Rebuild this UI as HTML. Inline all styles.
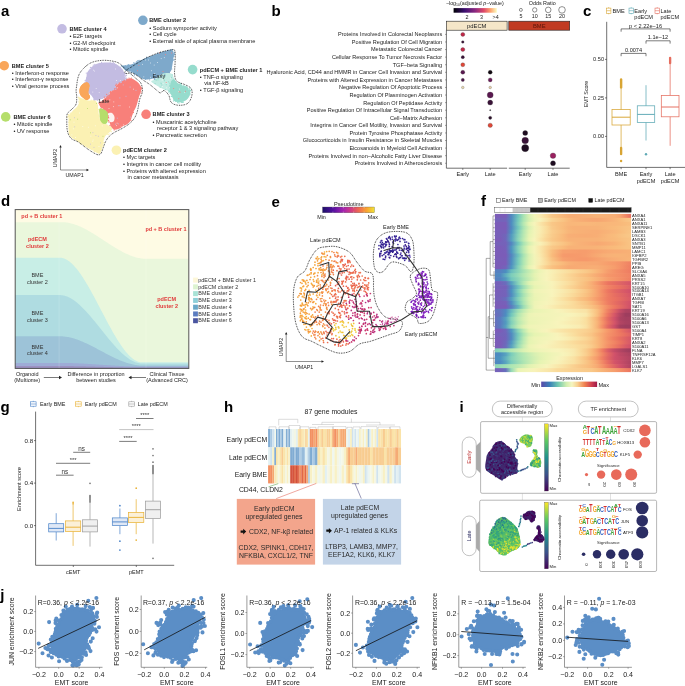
<!DOCTYPE html>
<html><head><meta charset="utf-8"><style>
html,body{margin:0;padding:0;background:#fff;}
svg{display:block;font-family:"Liberation Sans",sans-serif;will-change:transform;}
</style></head><body>
<svg width="685" height="686" viewBox="0 0 685 686">
<rect x="0" y="0" width="685" height="686" fill="#fff"/>
<text x="1" y="16" font-size="15" text-anchor="start" fill="#000" font-weight="bold">a</text>
<path d="M78.6,97.5 C80.08,97.42 85.8,100 88.4,100.5 C91,101 92.68,99.92 94.2,100.5 C95.72,101.08 96.78,102.02 97.5,104 C98.22,105.98 97.92,109.55 98.5,112.4 C99.08,115.25 99.55,119.03 101,121.1 C102.45,123.17 105.35,123.57 107.2,124.8 C109.05,126.03 111.7,127.25 112.1,128.5 C112.5,129.75 110.83,130.85 109.6,132.3 C108.37,133.75 105.93,134.72 104.7,137.2 C103.47,139.68 103.03,144.5 102.2,147.2 C101.37,149.9 101.15,152.78 99.7,153.4 C98.25,154.02 95.98,152.15 93.5,150.9 C91.02,149.65 87.9,147.77 84.8,145.9 C81.7,144.03 77.48,141.57 74.9,139.7 C72.32,137.83 70.33,137.18 69.3,134.7 C68.27,132.22 68.8,127.9 68.7,124.8 C68.6,121.7 68.08,118.37 68.7,116.1 C69.32,113.83 70.95,112.85 72.4,111.2 C73.85,109.55 76.22,107.9 77.4,106.2 C78.58,104.5 79.3,102.45 79.5,101 C79.7,99.55 77.12,97.58 78.6,97.5Z" fill="#fbf1b3" stroke="none" stroke-width="0.6"/>
<path d="M87.2,72.5 C88.08,70.95 89.95,68.25 91.9,66.7 C93.85,65.15 95.98,63.88 98.9,63.2 C101.82,62.52 106.28,62.32 109.4,62.6 C112.52,62.88 115.47,63.83 117.6,64.9 C119.73,65.97 121.03,67.53 122.2,69 C123.37,70.47 123.82,71.95 124.6,73.7 C125.38,75.45 127.1,78.13 126.9,79.5 C126.7,80.87 124.57,81.42 123.4,81.9 C122.23,82.38 121.07,81.82 119.9,82.4 C118.73,82.98 117.37,84.13 116.4,85.4 C115.43,86.67 115.27,88.83 114.1,90 C112.93,91.17 110.58,91.42 109.4,92.4 C108.22,93.38 107.98,94.93 107,95.9 C106.02,96.87 105.05,97.52 103.5,98.2 C101.95,98.88 99.25,99.8 97.7,100 C96.15,100.2 95.17,100.08 94.2,99.4 C93.23,98.72 92.87,97.07 91.9,95.9 C90.93,94.73 89.38,93.77 88.4,92.4 C87.42,91.03 86.5,89.45 86,87.7 C85.5,85.95 85.3,83.85 85.4,81.9 C85.5,79.95 86.3,77.57 86.6,76 C86.9,74.43 86.32,74.05 87.2,72.5Z" fill="#c3bce2" stroke="none" stroke-width="0.6"/>
<path d="M116.4,85.4 C117.37,84.13 118.15,83.38 119.9,82.4 C121.65,81.42 124.95,80.17 126.9,79.5 C128.85,78.83 129.85,78 131.6,78.4 C133.35,78.8 135.85,80.55 137.4,81.9 C138.95,83.25 140.32,84.95 140.9,86.5 C141.48,88.05 141.28,89.25 140.9,91.2 C140.52,93.15 139.38,95.67 138.6,98.2 C137.82,100.73 137.1,104.03 136.2,106.4 C135.3,108.77 134.32,109.75 133.2,112.4 C132.08,115.05 131.37,119.92 129.5,122.3 C127.63,124.68 124.48,125.45 122,126.7 C119.52,127.95 116.45,129.9 114.6,129.8 C112.75,129.7 111.73,127.35 110.9,126.1 C110.07,124.85 110.05,123.63 109.6,122.3 C109.15,120.97 108.63,119.58 108.2,118.1 C107.77,116.62 107.58,114.77 107,113.4 C106.42,112.03 105.67,110.87 104.7,109.9 C103.73,108.93 102.17,108.57 101.2,107.6 C100.23,106.63 98.9,105.08 98.9,104.1 C98.9,103.12 100.23,102.68 101.2,101.7 C102.17,100.72 103.73,99.17 104.7,98.2 C105.67,97.23 106.22,96.87 107,95.9 C107.78,94.93 108.22,93.38 109.4,92.4 C110.58,91.42 112.93,91.17 114.1,90 C115.27,88.83 115.43,86.67 116.4,85.4Z" fill="#f8807a" stroke="none" stroke-width="0.6"/>
<path d="M108,113.5 C108.67,112.67 110.92,112.42 112,113 C113.08,113.58 114.25,115.58 114.5,117 C114.75,118.42 114.33,120.7 113.5,121.5 C112.67,122.3 110.42,122.38 109.5,121.8 C108.58,121.22 108.25,119.38 108,118 C107.75,116.62 107.33,114.33 108,113.5Z" fill="#fdf3f1" stroke="none" stroke-width="0.6"/>
<path d="M79.6,88.9 C79.98,87.15 81.23,85.28 82.5,84.2 C83.77,83.12 86.03,82.2 87.2,82.4 C88.37,82.6 89.3,83.73 89.5,85.4 C89.7,87.07 88.3,90.47 88.4,92.4 C88.5,94.33 90.3,95.73 90.1,97 C89.9,98.27 88.27,99.8 87.2,100 C86.13,100.2 84.87,99.08 83.7,98.2 C82.53,97.32 80.88,96.25 80.2,94.7 C79.52,93.15 79.22,90.65 79.6,88.9Z" fill="#f9a65a" stroke="none" stroke-width="0.6"/>
<path d="M99.7,108.7 C100.53,108.08 103.35,109.08 104.7,109.9 C106.05,110.72 107.38,111.53 107.8,113.6 C108.22,115.67 107.93,120.63 107.2,122.3 C106.47,123.97 104.55,124 103.4,123.6 C102.25,123.2 100.92,121.57 100.3,119.9 C99.68,118.23 99.8,115.47 99.7,113.6 C99.6,111.73 98.87,109.32 99.7,108.7Z" fill="#b5de6b" stroke="none" stroke-width="0.6"/>
<path d="M122,66 C122.17,65.25 124.5,65.75 126,65.5 C127.5,65.25 129.17,65.08 131,64.5 C132.83,63.92 134.67,63.03 137,62 C139.33,60.97 142.17,59.5 145,58.3 C147.83,57.1 151,55.88 154,54.8 C157,53.72 160.17,52.6 163,51.8 C165.83,51 169.27,49.88 171,50 C172.73,50.12 172.97,51.5 173.4,52.5 C173.83,53.5 173.7,54.33 173.6,56 C173.5,57.67 173.22,60.05 172.8,62.5 C172.38,64.95 171.97,68.85 171.1,70.7 C170.23,72.55 168.78,72.82 167.6,73.6 C166.42,74.38 165.18,74.82 164,75.4 C162.82,75.98 161.85,76.62 160.5,77.1 C159.15,77.58 157.65,78 155.9,78.3 C154.15,78.6 151.75,78.7 150,78.9 C148.25,79.1 146.95,79.7 145.4,79.5 C143.85,79.3 142.45,78.58 140.7,77.7 C138.95,76.82 136.65,75.27 134.9,74.2 C133.15,73.13 131.85,72 130.2,71.3 C128.55,70.6 126.37,70.88 125,70 C123.63,69.12 121.83,66.75 122,66Z" fill="#7ea9cb" stroke="none" stroke-width="0.6"/>
<path d="M161.7,74.2 C163.85,73.12 165.85,73 167.6,73 C169.35,73 171.03,73.03 172.2,74.2 C173.37,75.37 173.62,78.45 174.6,80 C175.58,81.55 176.35,82.52 178.1,83.5 C179.85,84.48 183.17,84.92 185.1,85.9 C187.03,86.88 188.93,87.85 189.7,89.4 C190.47,90.95 190.28,93.45 189.7,95.2 C189.12,96.95 187.75,98.73 186.2,99.9 C184.65,101.07 182.33,102 180.4,102.2 C178.47,102.4 175.97,102.07 174.6,101.1 C173.23,100.13 172.98,97.97 172.2,96.4 C171.42,94.83 171.27,92.87 169.9,91.7 C168.53,90.53 165.75,90.18 164,89.4 C162.25,88.62 161.15,87.98 159.4,87 C157.65,86.02 154.87,84.47 153.5,83.5 C152.13,82.53 151,81.87 151.2,81.2 C151.4,80.53 152.95,80.67 154.7,79.5 C156.45,78.33 159.55,75.28 161.7,74.2Z" fill="#c2ece3" stroke="none" stroke-width="0.6"/>
<path d="M169.9,86 C170.25,84.05 171.22,81 172,80 C172.78,79 173.58,79.42 174.6,80 C175.62,80.58 176.35,82.52 178.1,83.5 C179.85,84.48 183.17,84.92 185.1,85.9 C187.03,86.88 188.93,87.85 189.7,89.4 C190.47,90.95 190.28,93.45 189.7,95.2 C189.12,96.95 187.75,98.73 186.2,99.9 C184.65,101.07 182.33,102 180.4,102.2 C178.47,102.4 175.97,102.07 174.6,101.1 C173.23,100.13 172.98,97.97 172.2,96.4 C171.42,94.83 170.28,93.43 169.9,91.7 C169.52,89.97 169.55,87.95 169.9,86Z" fill="#96dccd" stroke="none" stroke-width="0.6"/>
<path d="M163.7 77.4h0M171.8 83.7h0M156 79.5h0M175.4 100.7h0M173.4 84.6h0M175.8 83.9h0M172.3 74.8h0M177.4 85.5h0M168.6 81.8h0M181.8 93.4h0M180.6 89.7h0M178 90.4h0M173.5 86.3h0M183.5 100.6h0M156.2 80.2h0M182.7 98.2h0M161.9 85.1h0M158 79.8h0M160.2 87.2h0M173.9 80.7h0M165.4 89.5h0M187.9 93.2h0M171 91h0M185.8 95.8h0M184.9 96.3h0M166.3 84.7h0M159.2 77.7h0M164.3 74.5h0M155.1 83.6h0M160.9 83.1h0M165.2 76.6h0M169.1 87.1h0M164.4 80.7h0M171.5 77.3h0M184.4 93.3h0M161.3 83.7h0M163.9 79.5h0M184 96.5h0M182.7 94.6h0M164.9 73.8h0" stroke="#96dccd" stroke-width="1.2" stroke-linecap="round" fill="none"/>
<path d="M96.2 88.5h0M125.1 79.3h0M125 76.2h0M94.5 71.1h0M93.6 70.2h0M120.3 80.5h0M88.9 87.3h0M116.5 80.5h0M92.8 92.1h0M99.2 92.6h0M125.7 77.4h0M102.1 98h0M115.5 69h0M90.7 68.3h0" stroke="#ffffff" stroke-width="0.7" stroke-linecap="round" fill="none"/>
<path d="M113.6 106.6h0M121 126.4h0M117.1 123.2h0M133.6 89.2h0M109.5 93.5h0M109 108.5h0M109.8 99.9h0M113.8 101.9h0M123.4 124.9h0M116.6 125.6h0M120 105.7h0M117.4 87.8h0M106.1 102.7h0M129.4 107h0" stroke="#ffffff" stroke-width="0.7" stroke-linecap="round" fill="none"/>
<path d="M82.8 126.5h0M92.8 141.3h0M73.3 128.8h0M79.5 113h0M102.2 125.9h0M93.1 140h0M95.3 125.8h0M90.9 136.2h0M88.3 127.3h0M99 146.5h0M93 150.2h0M74 122.2h0M71.9 134.9h0M75.4 137.5h0" stroke="#ffffff" stroke-width="0.7" stroke-linecap="round" fill="none"/>
<path d="M156.1 54.2h0M142.6 64.4h0M148.6 60h0M150.6 63h0M154.2 65.1h0M143.8 76.9h0M164.3 57.6h0M151.4 70.7h0M157.5 62.5h0M154.7 73.6h0M145.4 60h0M150.5 77.3h0M149.2 57h0M161.2 58.6h0" stroke="#ffffff" stroke-width="0.7" stroke-linecap="round" fill="none"/>
<path d="M170.5 78.2h0M179.4 89.1h0M182.7 85.6h0M166.3 87.8h0M178.4 91.6h0M166.8 83.1h0M161 77.8h0M184.7 92.6h0M162.1 80.1h0M162.5 86.4h0M188.6 89h0M163.1 83.4h0M169.5 87.7h0M162.9 79.8h0" stroke="#ffffff" stroke-width="0.7" stroke-linecap="round" fill="none"/>
<path d="M173.7 88.5h0M180.1 92.2h0M178.8 98.7h0M166.2 82.5h0M179.1 91.8h0M185.5 91.3h0" stroke="#f8807a" stroke-width="1" stroke-linecap="round" fill="none"/>
<path d="M100.5 142.9h0M74.7 126.8h0M90.6 144.2h0M94 147.4h0M98.3 136.3h0M74.5 117.7h0M92.9 132.6h0M95.9 135.5h0" stroke="#c3bce2" stroke-width="0.9" stroke-linecap="round" fill="none"/>
<path d="M69 132.1h0M96.7 102.9h0M68.8 115.6h0M69.7 131.9h0M109.1 133.8h0M111.3 131.7h0M69.4 126.2h0M103 145.2h0M79.2 99.9h0M101.9 149.4h0M102.8 143h0M69.5 134h0M98.5 109.3h0M102.8 144.1h0M72.7 137h0M68.4 114.7h0M69.2 134.6h0M68.6 116.3h0M108.6 134.7h0M106.9 125h0M68.8 122.5h0M79 101.7h0M98 110.2h0M69.5 130.6h0M68.9 128h0M99.5 116h0M97.9 111.7h0M99.9 151.9h0M111.7 127.6h0M103.6 139.2h0M84.7 146.3h0M94.1 151.8h0M90 101.2h0M102.8 143.1h0M107.3 134.3h0M94.8 151.5h0M86.5 99.5h0M70.2 113.1h0M93.8 100.5h0M78.8 101.9h0M104.1 142.9h0M69 115.4h0M101.4 148.7h0M79.1 99.6h0M103.8 142.5h0M97.5 105.8h0M110.5 126.8h0M68.6 114.6h0M72.3 137.8h0M111.8 128.8h0M95.2 101.7h0M74 110.7h0M80.7 144.2h0M108.9 126.2h0M91.3 100.2h0M99 153.3h0M78.4 97.4h0M95 101.7h0M87.9 147.7h0M103.1 146.5h0M79.8 97.8h0M68.5 125.1h0M95.8 100.9h0M67.6 117h0M109.8 131.3h0M100.3 116.6h0M78.3 97.1h0M95.8 103.1h0M99.8 113.7h0M78.4 97.5h0" stroke="#fbf1b3" stroke-width="1.3" stroke-linecap="round" fill="none"/>
<path d="M85.2 80.4h0M110.2 63h0M88.2 91.4h0M85.7 87.8h0M101.9 98.5h0M124.9 80.7h0M126.8 79.6h0M86.5 80.2h0M94.4 99.9h0M101.5 62.5h0M112.5 90h0M114.7 88.7h0M109.2 93.8h0M93.9 99.3h0M126.1 75.2h0M125 80.6h0M120 82.7h0M86.2 86.5h0M103.9 97.3h0M85.9 86.8h0M125 73.7h0M106.7 95.3h0M108.5 94.6h0M115.7 89.4h0M122.6 70.8h0M93 96.2h0M86.3 73.1h0M114.9 87.2h0M101.9 63.1h0M114.3 63.3h0M108.8 94.4h0M106.8 96.7h0M126.4 75.6h0M126 75.4h0M97.6 100h0M87 77.6h0M94.8 64.4h0M93.3 65.2h0M86 85.7h0M85.3 87.6h0M114.1 89.5h0M85 82.4h0M99.2 63.5h0M95.1 99.7h0M107.7 96.2h0M97.2 100.1h0M90.5 67.4h0M120.3 67.5h0M116 87.9h0M86.3 87.1h0M122.2 70.5h0M95.1 64.8h0M125.4 73.2h0M101.8 63.7h0M113.3 62.5h0M102.6 98h0M99.8 99.8h0M88.5 93.2h0M115.7 64.6h0M121.4 82.2h0" stroke="#c3bce2" stroke-width="1.3" stroke-linecap="round" fill="none"/>
<path d="M110.6 91.7h0M140.5 87.9h0M101.4 106.8h0M133.4 112.5h0M136.4 103.5h0M108.5 117.6h0M107.4 113.7h0M108.7 117.9h0M131.8 114.2h0M100.8 101.8h0M129 78.2h0M108.4 120.4h0M107.4 96.3h0M100.6 102.4h0M122.4 81.8h0M137.9 98.3h0M112.6 91.2h0M119.3 82.9h0M120.6 127.1h0M141 91.3h0M108.5 117.3h0M112.3 126.9h0M104.8 109.5h0M106.7 94.3h0M104.4 97.1h0M131 120.6h0M110 125.4h0M117.2 128.7h0M114 128.3h0M141.6 88h0M112.5 127.6h0M114.7 90h0M103.5 109.9h0M114.2 129.9h0M116.6 128.5h0M119.9 127.8h0M127.5 79.2h0M141 93h0M126.8 79.4h0M124.3 80.2h0M131.4 78.1h0M141.7 89.1h0M98.9 103.2h0M108.2 116.9h0M111.3 125.9h0M121.1 126.8h0M113.4 90.8h0M101.2 108.1h0M107.1 96.5h0M99.1 103h0M114.8 88.6h0M100.6 106.7h0M118.7 128.2h0M116.3 84.2h0M108.9 122h0M115.8 85.4h0M108.1 115.7h0M118.8 127.4h0M108.6 120.6h0M124.2 81.2h0" stroke="#f8807a" stroke-width="1.3" stroke-linecap="round" fill="none"/>
<path d="M171.7 68.9h0M128.8 64.6h0M125.8 70h0M136.4 61.8h0M137.5 60.8h0M154.4 79.3h0M160.5 52.2h0M171.1 50.2h0M174.3 52.5h0M173.7 55.6h0M174.4 53.8h0M168 50.4h0M171.2 51.2h0M157.9 53.2h0M174.4 54.4h0M161 52.6h0M149.7 79.8h0M158.1 78.1h0M138.8 60.9h0M164.9 74.9h0M164.3 75.6h0M169.3 71.5h0M172 50h0M127.3 65.2h0M174.2 59.8h0M134.4 74.9h0M125.3 65.6h0M173.2 60h0M148.5 78.4h0M154.7 78.9h0M121.9 66h0M173.4 56.7h0M171.8 51.2h0M146.7 57.2h0M154.7 77.7h0M172.8 51.7h0M133.9 62.7h0M173.2 54h0M121.4 65.9h0M169.4 72.5h0M129.8 71.6h0M170.8 50.9h0M128.6 65h0M172.2 49.8h0M136.8 61.9h0M163.9 51.8h0M131.4 72.5h0M160.8 76.5h0M174 56.2h0M151.6 77.9h0M161.5 76.8h0M128.2 70.7h0M138.7 60.8h0M139.1 60.4h0M173.3 55.1h0M141.9 78.7h0M145.6 79.3h0M163.8 51.5h0M156.2 54.3h0M171.1 49.7h0" stroke="#7ea9cb" stroke-width="1.3" stroke-linecap="round" fill="none"/>
<path d="M189.7 90.5h0M173.6 100.9h0M168.9 92.2h0M177.6 102.6h0M170.6 91.6h0M168.9 90.3h0M181 84.1h0M172.8 96.5h0M169.8 85.1h0M175.9 81.7h0M170.4 86.1h0M170.2 93.6h0M169 91.5h0M190.8 90.5h0M175.4 100.6h0M170.4 86.6h0M179.4 84.7h0M171.4 96.4h0M172.1 94.7h0M173.9 79.5h0M186.6 87h0M169.8 83.2h0M171.4 81.8h0M190.1 94h0M181.4 102.3h0M172 81.9h0M175.9 101.2h0M169.6 91.4h0M170.5 87.1h0M185.2 86.9h0M180.3 83.5h0M169.8 85.9h0M182.4 102.3h0M183.2 102.3h0M178.9 103h0M189.9 88.5h0M181.3 85.2h0M170.3 92.8h0M170.5 88.7h0M189.7 91.5h0" stroke="#96dccd" stroke-width="1.3" stroke-linecap="round" fill="none"/>
<path d="M79.6,88.9 C79.98,87.15 81.23,85.28 82.5,84.2 C83.77,83.12 86.03,82.2 87.2,82.4 C88.37,82.6 89.3,83.73 89.5,85.4 C89.7,87.07 88.3,90.47 88.4,92.4 C88.5,94.33 90.3,95.73 90.1,97 C89.9,98.27 88.27,99.8 87.2,100 C86.13,100.2 84.87,99.08 83.7,98.2 C82.53,97.32 80.88,96.25 80.2,94.7 C79.52,93.15 79.22,90.65 79.6,88.9Z" fill="#f9a65a" stroke="none" stroke-width="0.6"/>
<path d="M99.7,108.7 C100.53,108.08 103.35,109.08 104.7,109.9 C106.05,110.72 107.38,111.53 107.8,113.6 C108.22,115.67 107.93,120.63 107.2,122.3 C106.47,123.97 104.55,124 103.4,123.6 C102.25,123.2 100.92,121.57 100.3,119.9 C99.68,118.23 99.8,115.47 99.7,113.6 C99.6,111.73 98.87,109.32 99.7,108.7Z" fill="#b5de6b" stroke="none" stroke-width="0.6"/>
<path d="M115.5 124.2h0M119.9 97.9h0M136 90.4h0M118.3 105.7h0M130.6 117.1h0M126 96.3h0M130.1 87.1h0M117.3 118.2h0M123.2 84.9h0M118.3 123.9h0" stroke="#c3bce2" stroke-width="1" stroke-linecap="round" fill="none"/>
<path d="M137.6 70.7h0M165.5 54.6h0M138.9 65.4h0M159.6 53h0M171.7 53h0M163 71.6h0" stroke="#f8807a" stroke-width="1" stroke-linecap="round" fill="none"/>
<path d="M87.6 108.5h0M96.4 103.5h0M77.7 119.2h0M70.2 119.8h0M103 136.3h0M90.4 132.8h0" stroke="#b5de6b" stroke-width="1" stroke-linecap="round" fill="none"/>
<path d="M86,66.1 C88.13,64.35 90.08,62.97 93,62 C95.92,61.03 100,60.4 103.5,60.3 C107,60.2 111.27,60.82 114,61.4 C116.73,61.98 118.13,62.63 119.9,63.8 C121.67,64.97 122.85,66.75 124.6,68.4 C126.35,70.05 128.5,72.02 130.4,73.7 C132.3,75.38 134.32,77.03 136,78.5 C137.68,79.97 139.45,80.92 140.5,82.5 C141.55,84.08 142.03,86.25 142.3,88 C142.57,89.75 142.53,91.1 142.1,93 C141.67,94.9 140.48,96.38 139.7,99.4 C138.92,102.42 138.27,108 137.4,111.1 C136.53,114.2 135.82,115.92 134.5,118 C133.18,120.08 131.58,121.85 129.5,123.6 C127.42,125.35 124.48,127.05 122,128.5 C119.52,129.95 116.67,131.05 114.6,132.3 C112.53,133.55 111.05,134.55 109.6,136 C108.15,137.45 106.93,139.13 105.9,141 C104.87,142.87 104.22,145.13 103.4,147.2 C102.58,149.27 102.03,152.17 101,153.4 C99.97,154.63 99.28,155.23 97.2,154.6 C95.12,153.97 91.6,151.67 88.5,149.6 C85.4,147.53 81.48,144.05 78.6,142.2 C75.72,140.35 73.07,140.37 71.2,138.5 C69.33,136.63 68.13,134.1 67.4,131 C66.67,127.9 66.8,122.8 66.8,119.9 C66.8,117 66.47,115.47 67.4,113.6 C68.33,111.73 70.95,110.3 72.4,108.7 C73.85,107.1 75.38,105.95 76.1,104 C76.82,102.05 76.7,99.17 76.7,97 C76.7,94.83 76.1,92.93 76.1,91 C76.1,89.07 76.42,87.5 76.7,85.4 C76.98,83.3 77.22,80.55 77.8,78.4 C78.38,76.25 78.83,74.55 80.2,72.5 C81.57,70.45 83.87,67.85 86,66.1Z" fill="none" stroke="#000" stroke-width="0.8" stroke-dasharray="0.8 0.9"/>
<path d="M130.2,67.8 C132.02,66.67 135.48,64.25 138.4,62.5 C141.32,60.75 144.2,58.95 147.7,57.3 C151.2,55.65 155.32,53.87 159.4,52.6 C163.48,51.33 169.58,49.8 172.2,49.7 C174.82,49.6 174.62,49.87 175.1,52 C175.58,54.13 175.18,58.8 175.1,62.5 C175.02,66.2 174.3,71.08 174.6,74.2 C174.9,77.32 175.15,79.45 176.9,81.2 C178.65,82.95 182.77,83.53 185.1,84.7 C187.43,85.87 189.73,86.65 190.9,88.2 C192.07,89.75 192.3,91.85 192.1,94 C191.9,96.15 190.87,99.33 189.7,101.1 C188.53,102.87 187.23,103.93 185.1,104.6 C182.97,105.27 179.23,105.5 176.9,105.1 C174.57,104.7 172.47,103.85 171.1,102.2 C169.73,100.55 169.88,97.15 168.7,95.2 C167.52,93.25 165.37,90.88 164,90.5 C162.63,90.12 161.67,92.9 160.5,92.9 C159.33,92.9 158.75,91.87 157,90.5 C155.25,89.13 152.33,86.45 150,84.7 C147.67,82.95 144.93,81.37 143,80 C141.07,78.63 140.15,77.67 138.4,76.5 C136.65,75.33 134.4,73.5 132.5,73 C130.6,72.5 128.33,73.58 127,73.5 C125.67,73.42 124.42,73.2 124.5,72.5 C124.58,71.8 126.55,70.08 127.5,69.3 C128.45,68.52 128.38,68.93 130.2,67.8Z" fill="none" stroke="#000" stroke-width="0.8" stroke-dasharray="0.8 0.9"/>
<text x="152.6" y="77.5" font-size="5.6" text-anchor="start" fill="#222">Early</text>
<text x="98.5" y="103" font-size="5.6" text-anchor="start" fill="#222">Late</text>
<line x1="60.5" y1="170" x2="60.5" y2="146" stroke="#222" stroke-width="0.5"/>
<line x1="60.5" y1="170" x2="88" y2="170" stroke="#222" stroke-width="0.5"/>
<path d="M59.3,147.5 L60.5,145 L61.7,147.5" fill="#222" stroke="none" stroke-width="0.6"/>
<path d="M86.5,168.8 L89,170 L86.5,171.2" fill="#222" stroke="none" stroke-width="0.6"/>
<text x="65.5" y="177.2" font-size="5.3" text-anchor="start" fill="#222">UMAP1</text>
<text x="57" y="158" font-size="5.3" text-anchor="middle" fill="#222" transform="rotate(-90 57 158)">UMAP2</text>
<circle cx="62" cy="28.8" r="4.8" fill="#c3bce2"/>
<text x="69.5" y="30.8" font-size="5.6" text-anchor="start" fill="#222" font-weight="bold">BME cluster 4</text>
<text x="69.5" y="38" font-size="5.6" text-anchor="start" fill="#222">• E2F targets</text>
<text x="69.5" y="44.55" font-size="5.6" text-anchor="start" fill="#222">• G2-M checkpoint</text>
<text x="69.5" y="51.1" font-size="5.6" text-anchor="start" fill="#222">• Mitotic spindle</text>
<circle cx="142.9" cy="20.3" r="4.8" fill="#7ea9cb"/>
<text x="149.2" y="22.3" font-size="5.6" text-anchor="start" fill="#222" font-weight="bold">BME cluster 2</text>
<text x="149.2" y="29.5" font-size="5.6" text-anchor="start" fill="#222">• Sodium symporter activity</text>
<text x="149.2" y="36.05" font-size="5.6" text-anchor="start" fill="#222">• Cell cycle</text>
<text x="149.2" y="42.6" font-size="5.6" text-anchor="start" fill="#222">• External side of apical plasma membrane</text>
<circle cx="4.2" cy="65.7" r="4.8" fill="#f9a65a"/>
<text x="11.8" y="67.7" font-size="5.6" text-anchor="start" fill="#222" font-weight="bold">BME cluster 5</text>
<text x="11.8" y="74.9" font-size="5.6" text-anchor="start" fill="#222">• Interferon-α response</text>
<text x="11.8" y="81.45" font-size="5.6" text-anchor="start" fill="#222">• Interferon-γ response</text>
<text x="11.8" y="88" font-size="5.6" text-anchor="start" fill="#222">• Viral genome process</text>
<circle cx="192.6" cy="69.6" r="4.8" fill="#96dccd"/>
<text x="199.8" y="71.6" font-size="5.6" text-anchor="start" fill="#222" font-weight="bold">pdECM + BME cluster 1</text>
<text x="199.8" y="78.8" font-size="5.6" text-anchor="start" fill="#222">• TNF-α signaling</text>
<text x="204.3" y="85.35" font-size="5.6" text-anchor="start" fill="#222">via NF-kB</text>
<text x="199.8" y="91.9" font-size="5.6" text-anchor="start" fill="#222">• TGF-β signaling</text>
<circle cx="5.7" cy="116.9" r="4.8" fill="#b5de6b"/>
<text x="13.5" y="118.9" font-size="5.6" text-anchor="start" fill="#222" font-weight="bold">BME cluster 6</text>
<text x="13.5" y="126.1" font-size="5.6" text-anchor="start" fill="#222">• Mitotic spindle</text>
<text x="13.5" y="132.65" font-size="5.6" text-anchor="start" fill="#222">• UV response</text>
<circle cx="146.1" cy="114.3" r="4.8" fill="#f8807a"/>
<text x="152.6" y="116.3" font-size="5.6" text-anchor="start" fill="#222" font-weight="bold">BME cluster 3</text>
<text x="152.6" y="123.5" font-size="5.6" text-anchor="start" fill="#222">• Muscarinic acetylcholine</text>
<text x="157.1" y="130.05" font-size="5.6" text-anchor="start" fill="#222">receptor 1 &amp; 3 signaling pathway</text>
<text x="152.6" y="136.6" font-size="5.6" text-anchor="start" fill="#222">• Pancreatic secretion</text>
<circle cx="116.4" cy="150.2" r="4.8" fill="#fbf1b3"/>
<text x="123" y="152.2" font-size="5.6" text-anchor="start" fill="#222" font-weight="bold">pdECM cluster 2</text>
<text x="123" y="159.4" font-size="5.6" text-anchor="start" fill="#222">• Myc targets</text>
<text x="123" y="165.95" font-size="5.6" text-anchor="start" fill="#222">• Integrins in cancer cell motility</text>
<text x="123" y="172.5" font-size="5.6" text-anchor="start" fill="#222">• Proteins with altered expression</text>
<text x="127.5" y="179.05" font-size="5.6" text-anchor="start" fill="#222">in cancer metastasis</text>
<text x="271.5" y="16" font-size="15" text-anchor="start" fill="#000" font-weight="bold">b</text>
<text x="442.2" y="36.3" font-size="5.55" text-anchor="end" fill="#222">Proteins Involved in Colorectal Neoplasms</text>
<line x1="445" y1="34.4" x2="446.4" y2="34.4" stroke="#222" stroke-width="0.4"/>
<text x="442.2" y="43.88" font-size="5.55" text-anchor="end" fill="#222">Positive Regulation Of Cell Migration</text>
<line x1="445" y1="41.98" x2="446.4" y2="41.98" stroke="#222" stroke-width="0.4"/>
<text x="442.2" y="51.46" font-size="5.55" text-anchor="end" fill="#222">Metastatic Colorectal Cancer</text>
<line x1="445" y1="49.56" x2="446.4" y2="49.56" stroke="#222" stroke-width="0.4"/>
<text x="442.2" y="59.04" font-size="5.55" text-anchor="end" fill="#222">Cellular Response To Tumor Necrosis Factor</text>
<line x1="445" y1="57.14" x2="446.4" y2="57.14" stroke="#222" stroke-width="0.4"/>
<text x="442.2" y="66.62" font-size="5.55" text-anchor="end" fill="#222">TGF−beta Signaling</text>
<line x1="445" y1="64.72" x2="446.4" y2="64.72" stroke="#222" stroke-width="0.4"/>
<text x="442.2" y="74.2" font-size="5.55" text-anchor="end" fill="#222">Hyaluronic Acid, CD44 and HMMR in Cancer Cell Invasion and Survival</text>
<line x1="445" y1="72.3" x2="446.4" y2="72.3" stroke="#222" stroke-width="0.4"/>
<text x="442.2" y="81.78" font-size="5.55" text-anchor="end" fill="#222">Proteins with Altered Expression in Cancer Metastases</text>
<line x1="445" y1="79.88" x2="446.4" y2="79.88" stroke="#222" stroke-width="0.4"/>
<text x="442.2" y="89.36" font-size="5.55" text-anchor="end" fill="#222">Negative Regulation Of Apoptotic Process</text>
<line x1="445" y1="87.46" x2="446.4" y2="87.46" stroke="#222" stroke-width="0.4"/>
<text x="442.2" y="96.94" font-size="5.55" text-anchor="end" fill="#222">Regulation Of Plasminogen Activation</text>
<line x1="445" y1="95.04" x2="446.4" y2="95.04" stroke="#222" stroke-width="0.4"/>
<text x="442.2" y="104.52" font-size="5.55" text-anchor="end" fill="#222">Regulation Of Peptidase Activity</text>
<line x1="445" y1="102.62" x2="446.4" y2="102.62" stroke="#222" stroke-width="0.4"/>
<text x="442.2" y="112.1" font-size="5.55" text-anchor="end" fill="#222">Positive Regulation Of Intracellular Signal Transduction</text>
<line x1="445" y1="110.2" x2="446.4" y2="110.2" stroke="#222" stroke-width="0.4"/>
<text x="442.2" y="119.68" font-size="5.55" text-anchor="end" fill="#222">Cell−Matrix Adhesion</text>
<line x1="445" y1="117.78" x2="446.4" y2="117.78" stroke="#222" stroke-width="0.4"/>
<text x="442.2" y="127.26" font-size="5.55" text-anchor="end" fill="#222">Integrins in Cancer Cell Motility, Invasion and Survival</text>
<line x1="445" y1="125.36" x2="446.4" y2="125.36" stroke="#222" stroke-width="0.4"/>
<text x="442.2" y="134.84" font-size="5.55" text-anchor="end" fill="#222">Protein Tyrosine Phosphatase Activity</text>
<line x1="445" y1="132.94" x2="446.4" y2="132.94" stroke="#222" stroke-width="0.4"/>
<text x="442.2" y="142.42" font-size="5.55" text-anchor="end" fill="#222">Glucocorticoids in Insulin Resistance in Skeletal Muscles</text>
<line x1="445" y1="140.52" x2="446.4" y2="140.52" stroke="#222" stroke-width="0.4"/>
<text x="442.2" y="150" font-size="5.55" text-anchor="end" fill="#222">Eicosanoids in Myeloid Cell Activation</text>
<line x1="445" y1="148.1" x2="446.4" y2="148.1" stroke="#222" stroke-width="0.4"/>
<text x="442.2" y="157.58" font-size="5.55" text-anchor="end" fill="#222">Proteins Involved in non−Alcoholic Fatty Liver Disease</text>
<line x1="445" y1="155.68" x2="446.4" y2="155.68" stroke="#222" stroke-width="0.4"/>
<text x="442.2" y="165.16" font-size="5.55" text-anchor="end" fill="#222">Proteins Involved in Atherosclerosis</text>
<line x1="445" y1="163.26" x2="446.4" y2="163.26" stroke="#222" stroke-width="0.4"/>
<line x1="446.4" y1="30.2" x2="446.4" y2="168.2" stroke="#333" stroke-width="0.7"/>
<line x1="446.4" y1="168.2" x2="507.1" y2="168.2" stroke="#333" stroke-width="0.7"/>
<line x1="508.8" y1="168.2" x2="569.7" y2="168.2" stroke="#333" stroke-width="0.7"/>
<rect x="446.4" y="21.2" width="60.7" height="9" fill="#f5e6c8" stroke="#222" stroke-width="0.6"/>
<text x="476.75" y="28.1" font-size="5.8" text-anchor="middle" fill="#222">pdECM</text>
<rect x="508.8" y="21.2" width="60.9" height="9" fill="#c13b22" stroke="#222" stroke-width="0.6"/>
<text x="539.25" y="28.1" font-size="5.8" text-anchor="middle" fill="#5a1408">BME</text>
<line x1="462.8" y1="168.2" x2="462.8" y2="170" stroke="#222" stroke-width="0.5"/>
<line x1="490.2" y1="168.2" x2="490.2" y2="170" stroke="#222" stroke-width="0.5"/>
<line x1="525.2" y1="168.2" x2="525.2" y2="170" stroke="#222" stroke-width="0.5"/>
<line x1="553" y1="168.2" x2="553" y2="170" stroke="#222" stroke-width="0.5"/>
<text x="462.8" y="176" font-size="5.6" text-anchor="middle" fill="#222">Early</text>
<text x="490.2" y="176" font-size="5.6" text-anchor="middle" fill="#222">Late</text>
<text x="525.2" y="176" font-size="5.6" text-anchor="middle" fill="#222">Early</text>
<text x="553" y="176" font-size="5.6" text-anchor="middle" fill="#222">Late</text>
<circle cx="462.8" cy="34.4" r="2" fill="#c02848" stroke="#333" stroke-width="0.25"/>
<circle cx="462.8" cy="41.98" r="1.3" fill="#3a1238" stroke="#333" stroke-width="0.25"/>
<circle cx="462.8" cy="49.56" r="2" fill="#c02848" stroke="#333" stroke-width="0.25"/>
<circle cx="462.8" cy="57.14" r="1.6" fill="#3a1238" stroke="#333" stroke-width="0.25"/>
<circle cx="462.8" cy="64.72" r="2" fill="#e04838" stroke="#333" stroke-width="0.25"/>
<circle cx="462.8" cy="72.3" r="2" fill="#5a1850" stroke="#333" stroke-width="0.25"/>
<circle cx="462.8" cy="79.88" r="1.6" fill="#4a1448" stroke="#333" stroke-width="0.25"/>
<circle cx="462.8" cy="87.46" r="1.3" fill="#e8d8b0" stroke="#333" stroke-width="0.25"/>
<circle cx="490.2" cy="72.3" r="2" fill="#100810" stroke="#333" stroke-width="0.25"/>
<circle cx="490.2" cy="79.88" r="2" fill="#6a1a58" stroke="#333" stroke-width="0.25"/>
<circle cx="490.2" cy="87.46" r="1.3" fill="#e8d0a8" stroke="#333" stroke-width="0.25"/>
<circle cx="490.2" cy="95.04" r="3" fill="#5a1850" stroke="#333" stroke-width="0.25"/>
<circle cx="490.2" cy="102.62" r="2.5" fill="#3a1238" stroke="#333" stroke-width="0.25"/>
<circle cx="490.2" cy="110.2" r="0.6" fill="#100810" stroke="#333" stroke-width="0.25"/>
<circle cx="490.2" cy="117.78" r="1.6" fill="#2a0e28" stroke="#333" stroke-width="0.25"/>
<circle cx="490.2" cy="125.36" r="2.2" fill="#e04838" stroke="#333" stroke-width="0.25"/>
<circle cx="525.2" cy="132.94" r="2.5" fill="#1e0c20" stroke="#333" stroke-width="0.25"/>
<circle cx="525.2" cy="140.52" r="3.3" fill="#3a1238" stroke="#333" stroke-width="0.25"/>
<circle cx="525.2" cy="148.1" r="3.6" fill="#1e0c20" stroke="#333" stroke-width="0.25"/>
<circle cx="553" cy="155.68" r="2.8" fill="#9a2060" stroke="#333" stroke-width="0.25"/>
<circle cx="553" cy="163.26" r="2.5" fill="#1e0c20" stroke="#333" stroke-width="0.25"/>
<defs><linearGradient id="gmag" x1="0" x2="1" y1="0" y2="0"><stop offset="0" stop-color="#000004"/><stop offset="0.25" stop-color="#3b0f70"/><stop offset="0.5" stop-color="#8c2981"/><stop offset="0.7" stop-color="#de4968"/><stop offset="0.85" stop-color="#fe9f6d"/><stop offset="1" stop-color="#fcfdbf"/></linearGradient></defs>
<rect x="453.6" y="8.1" width="43.2" height="4.6" fill="url(#gmag)" stroke="none" stroke-width="0.6"/>
<text x="474.8" y="4.6" font-size="5.3" text-anchor="middle" fill="#222">−log<tspan font-size="3.5" dy="1.2">10</tspan><tspan dy="-1.2">(adjusted </tspan><tspan font-style="italic">p</tspan>−value)</text>
<text x="467" y="18.6" font-size="5.4" text-anchor="middle" fill="#222">2</text>
<text x="481.5" y="18.6" font-size="5.4" text-anchor="middle" fill="#222">3</text>
<text x="495.7" y="18.6" font-size="5.4" text-anchor="middle" fill="#222">&gt;4</text>
<text x="542.2" y="4.6" font-size="5.4" text-anchor="middle" fill="#222">Odds Ratio</text>
<circle cx="520.9" cy="9.9" r="1.5" fill="#fff" stroke="#222" stroke-width="0.5"/>
<text x="520.9" y="18.4" font-size="5.4" text-anchor="middle" fill="#222">5</text>
<circle cx="534.7" cy="9.9" r="2.2" fill="#fff" stroke="#222" stroke-width="0.5"/>
<text x="534.7" y="18.4" font-size="5.4" text-anchor="middle" fill="#222">10</text>
<circle cx="548.2" cy="9.9" r="2.8" fill="#fff" stroke="#222" stroke-width="0.5"/>
<text x="548.2" y="18.4" font-size="5.4" text-anchor="middle" fill="#222">15</text>
<circle cx="562" cy="9.9" r="3.3" fill="#fff" stroke="#222" stroke-width="0.5"/>
<text x="562" y="18.4" font-size="5.4" text-anchor="middle" fill="#222">20</text>
<text x="583" y="16" font-size="15" text-anchor="start" fill="#000" font-weight="bold">c</text>
<line x1="606.7" y1="21.8" x2="606.7" y2="167.4" stroke="#333" stroke-width="0.7"/>
<line x1="606.7" y1="167.4" x2="685" y2="167.4" stroke="#333" stroke-width="0.7"/>
<line x1="605" y1="59.4" x2="606.7" y2="59.4" stroke="#222" stroke-width="0.6"/>
<text x="604" y="61.3" font-size="5.6" text-anchor="end" fill="#222">0.50</text>
<line x1="605" y1="97.9" x2="606.7" y2="97.9" stroke="#222" stroke-width="0.6"/>
<text x="604" y="99.8" font-size="5.6" text-anchor="end" fill="#222">0.25</text>
<line x1="605" y1="136.4" x2="606.7" y2="136.4" stroke="#222" stroke-width="0.6"/>
<text x="604" y="138.3" font-size="5.6" text-anchor="end" fill="#222">0.00</text>
<text x="588" y="94" font-size="5.3" text-anchor="middle" fill="#222" transform="rotate(-90 588 94)">EMT Score</text>
<line x1="621.1" y1="88.4" x2="621.1" y2="109.6" stroke="#d8a534" stroke-width="0.75"/>
<line x1="621.1" y1="125" x2="621.1" y2="147.5" stroke="#d8a534" stroke-width="0.75"/>
<rect x="612" y="109.6" width="18.2" height="15.4" fill="none" stroke="#d8a534" stroke-width="0.75"/>
<line x1="612" y1="117.2" x2="630.2" y2="117.2" stroke="#d8a534" stroke-width="0.98"/>
<circle cx="621.1" cy="79.5" r="1.2" fill="#d8a534"/>
<circle cx="621.1" cy="80.5" r="1.2" fill="#d8a534"/>
<circle cx="621.1" cy="81.5" r="1.2" fill="#d8a534"/>
<circle cx="621.1" cy="82.5" r="1.2" fill="#d8a534"/>
<circle cx="621.1" cy="83.5" r="1.2" fill="#d8a534"/>
<circle cx="621.1" cy="84.5" r="1.2" fill="#d8a534"/>
<circle cx="621.1" cy="85.5" r="1.2" fill="#d8a534"/>
<circle cx="621.1" cy="86.5" r="1.2" fill="#d8a534"/>
<circle cx="621.1" cy="87.5" r="1.2" fill="#d8a534"/>
<circle cx="621.1" cy="148" r="1.2" fill="#d8a534"/>
<circle cx="621.1" cy="149" r="1.2" fill="#d8a534"/>
<circle cx="621.1" cy="150" r="1.2" fill="#d8a534"/>
<circle cx="621.1" cy="151" r="1.2" fill="#d8a534"/>
<circle cx="621.1" cy="152" r="1.2" fill="#d8a534"/>
<circle cx="621.1" cy="153" r="1.2" fill="#d8a534"/>
<circle cx="621.1" cy="154" r="1.2" fill="#d8a534"/>
<circle cx="621.1" cy="161" r="1.2" fill="#d8a534"/>
<line x1="646" y1="85.2" x2="646" y2="105.8" stroke="#5ea9b5" stroke-width="0.75"/>
<line x1="646" y1="122.5" x2="646" y2="140.5" stroke="#5ea9b5" stroke-width="0.75"/>
<rect x="637.3" y="105.8" width="17.4" height="16.7" fill="none" stroke="#5ea9b5" stroke-width="0.75"/>
<line x1="637.3" y1="114.4" x2="654.7" y2="114.4" stroke="#5ea9b5" stroke-width="0.98"/>
<circle cx="646" cy="154.2" r="1.2" fill="#5ea9b5"/>
<line x1="670.15" y1="63.8" x2="670.15" y2="95.4" stroke="#e56e5f" stroke-width="0.75"/>
<line x1="670.15" y1="116.8" x2="670.15" y2="145.8" stroke="#e56e5f" stroke-width="0.75"/>
<rect x="661.3" y="95.4" width="17.7" height="21.4" fill="none" stroke="#e56e5f" stroke-width="0.75"/>
<line x1="661.3" y1="107" x2="679" y2="107" stroke="#e56e5f" stroke-width="0.98"/>
<circle cx="670.1" cy="58" r="1.2" fill="#e56e5f"/>
<circle cx="670.1" cy="59" r="1.2" fill="#e56e5f"/>
<circle cx="670.1" cy="60" r="1.2" fill="#e56e5f"/>
<circle cx="670.1" cy="61" r="1.2" fill="#e56e5f"/>
<circle cx="670.1" cy="62" r="1.2" fill="#e56e5f"/>
<circle cx="670.1" cy="63" r="1.2" fill="#e56e5f"/>
<line x1="621.1" y1="167.4" x2="621.1" y2="169.2" stroke="#222" stroke-width="0.6"/>
<text x="621.1" y="176.3" font-size="5.6" text-anchor="middle" fill="#222">BME</text>
<line x1="646" y1="167.4" x2="646" y2="169.2" stroke="#222" stroke-width="0.6"/>
<text x="646" y="176.3" font-size="5.6" text-anchor="middle" fill="#222">Early</text>
<line x1="670.1" y1="167.4" x2="670.1" y2="169.2" stroke="#222" stroke-width="0.6"/>
<text x="670.1" y="176.3" font-size="5.6" text-anchor="middle" fill="#222">Late</text>
<text x="646" y="183" font-size="5.6" text-anchor="middle" fill="#222">pdECM</text>
<text x="670.1" y="183" font-size="5.6" text-anchor="middle" fill="#222">pdECM</text>
<polyline points="621.1,31.7 621.1,28.9 670.1,28.9 670.1,31.7" fill="none" stroke="#222" stroke-width="0.6"/>
<text x="645.6" y="27.5" font-size="5.6" text-anchor="middle" fill="#222">p &lt; 2.22e−16</text>
<polyline points="646,43.6 646,40.8 670.1,40.8 670.1,43.6" fill="none" stroke="#222" stroke-width="0.6"/>
<text x="658.05" y="39.4" font-size="5.6" text-anchor="middle" fill="#222">1.1e−12</text>
<polyline points="621.1,56.2 621.1,53.4 646,53.4 646,56.2" fill="none" stroke="#222" stroke-width="0.6"/>
<text x="633.55" y="52" font-size="5.6" text-anchor="middle" fill="#222">0.0074</text>
<rect x="606.5" y="8.1" width="4.4" height="5.2" fill="none" stroke="#d8a534" stroke-width="0.6"/>
<line x1="606.5" y1="10.7" x2="610.9" y2="10.7" stroke="#d8a534" stroke-width="0.6"/>
<line x1="608.7" y1="7.1" x2="608.7" y2="8.1" stroke="#d8a534" stroke-width="0.6"/>
<line x1="608.7" y1="13.3" x2="608.7" y2="14.3" stroke="#d8a534" stroke-width="0.6"/>
<text x="612.5" y="12.6" font-size="5.6" text-anchor="start" fill="#222">BME</text>
<rect x="629" y="8.1" width="4.4" height="5.2" fill="none" stroke="#5ea9b5" stroke-width="0.6"/>
<line x1="629" y1="10.7" x2="633.4" y2="10.7" stroke="#5ea9b5" stroke-width="0.6"/>
<line x1="631.2" y1="7.1" x2="631.2" y2="8.1" stroke="#5ea9b5" stroke-width="0.6"/>
<line x1="631.2" y1="13.3" x2="631.2" y2="14.3" stroke="#5ea9b5" stroke-width="0.6"/>
<text x="634.3" y="12.6" font-size="5.6" text-anchor="start" fill="#222">Early</text>
<text x="634.3" y="19.2" font-size="5.6" text-anchor="start" fill="#222">pdECM</text>
<rect x="655" y="8.1" width="4.4" height="5.2" fill="none" stroke="#e56e5f" stroke-width="0.6"/>
<line x1="655" y1="10.7" x2="659.4" y2="10.7" stroke="#e56e5f" stroke-width="0.6"/>
<line x1="657.2" y1="7.1" x2="657.2" y2="8.1" stroke="#e56e5f" stroke-width="0.6"/>
<line x1="657.2" y1="13.3" x2="657.2" y2="14.3" stroke="#e56e5f" stroke-width="0.6"/>
<text x="660.5" y="12.6" font-size="5.6" text-anchor="start" fill="#222">Late</text>
<text x="660.5" y="19.2" font-size="5.6" text-anchor="start" fill="#222">pdECM</text>
<text x="1" y="206" font-size="15" text-anchor="start" fill="#000" font-weight="bold">d</text>
<rect x="15.2" y="209.6" width="173.6" height="158.8" fill="#fefbe4" stroke="none" stroke-width="0.6"/>
<polygon points="15.2,222.2 16.2,222.2 17.2,222.2 18.2,222.2 19.2,222.2 20.2,222.2 21.2,222.2 22.2,222.2 23.2,222.2 24.2,222.2 25.2,222.2 26.2,222.2 27.2,222.2 28.2,222.2 29.2,222.2 30.2,222.2 31.2,222.2 32.2,222.2 33.2,222.2 34.2,222.2 35.2,222.2 36.2,222.2 37.2,222.2 38.2,222.2 39.2,222.2 40.2,222.2 41.2,222.2 42.2,222.2 43.2,222.2 44.2,222.2 45.2,222.2 46.2,222.2 47.2,222.2 48.2,222.2 49.2,222.2 50.2,222.2 51.2,222.2 52.2,222.2 53.2,222.2 54.2,222.2 55.2,222.2 56.2,222.2 57.2,222.2 58.2,222.2 59.2,222.2 60.2,222.2 61.2,222.2 62.2,222.2 63.2,222.22 64.2,222.27 65.2,222.36 66.2,222.47 67.2,222.6 68.2,222.77 69.2,222.96 70.2,223.18 71.2,223.42 72.2,223.69 73.2,223.98 74.2,224.29 75.2,224.63 76.2,224.98 77.2,225.36 78.2,225.76 79.2,226.18 80.2,226.61 81.2,227.06 82.2,227.53 83.2,228.02 84.2,228.52 85.2,229.03 86.2,229.56 87.2,230.11 88.2,230.66 89.2,231.23 90.2,231.81 91.2,232.39 92.2,232.99 93.2,233.6 94.2,234.21 95.2,234.83 96.2,235.46 97.2,236.09 98.2,236.73 99.2,237.38 100.2,238.02 101.2,238.67 102.2,239.32 103.2,239.98 104.2,240.63 105.2,241.28 106.2,241.94 107.2,242.59 108.2,243.24 109.2,243.88 110.2,244.52 111.2,245.16 112.2,245.79 113.2,246.42 114.2,247.04 115.2,247.65 116.2,248.25 117.2,248.84 118.2,249.43 119.2,250 120.2,250.56 121.2,251.11 122.2,251.65 123.2,252.17 124.2,252.68 125.2,253.18 126.2,253.66 127.2,254.12 128.2,254.57 129.2,254.99 130.2,255.4 131.2,255.79 132.2,256.16 133.2,256.51 134.2,256.84 135.2,257.14 136.2,257.42 137.2,257.68 138.2,257.91 139.2,258.12 140.2,258.3 141.2,258.46 142.2,258.58 143.2,258.68 144.2,258.75 145.2,258.79 146.2,258.8 147.2,258.8 148.2,258.8 149.2,258.8 150.2,258.8 151.2,258.8 152.2,258.8 153.2,258.8 154.2,258.8 155.2,258.8 156.2,258.8 157.2,258.8 158.2,258.8 159.2,258.8 160.2,258.8 161.2,258.8 162.2,258.8 163.2,258.8 164.2,258.8 165.2,258.8 166.2,258.8 167.2,258.8 168.2,258.8 169.2,258.8 170.2,258.8 171.2,258.8 172.2,258.8 173.2,258.8 174.2,258.8 175.2,258.8 176.2,258.8 177.2,258.8 178.2,258.8 179.2,258.8 180.2,258.8 181.2,258.8 182.2,258.8 183.2,258.8 184.2,258.8 185.2,258.8 186.2,258.8 187.2,258.8 188.2,258.8 188.8,368.4 15.2,368.4" fill="#eaf7dc"/>
<polygon points="15.2,257.7 16.2,257.7 17.2,257.7 18.2,257.7 19.2,257.7 20.2,257.7 21.2,257.7 22.2,257.7 23.2,257.7 24.2,257.7 25.2,257.7 26.2,257.7 27.2,257.7 28.2,257.7 29.2,257.7 30.2,257.7 31.2,257.7 32.2,257.7 33.2,257.7 34.2,257.7 35.2,257.7 36.2,257.7 37.2,257.7 38.2,257.7 39.2,257.7 40.2,257.7 41.2,257.7 42.2,257.7 43.2,257.7 44.2,257.7 45.2,257.7 46.2,257.7 47.2,257.7 48.2,257.7 49.2,257.7 50.2,257.7 51.2,257.7 52.2,257.7 53.2,257.7 54.2,257.7 55.2,257.7 56.2,257.7 57.2,257.7 58.2,257.7 59.2,257.7 60.2,257.7 61.2,257.77 62.2,257.92 63.2,258.17 64.2,258.5 65.2,258.91 66.2,259.4 67.2,259.98 68.2,260.63 69.2,261.35 70.2,262.15 71.2,263.02 72.2,263.96 73.2,264.96 74.2,266.02 75.2,267.15 76.2,268.33 77.2,269.58 78.2,270.87 79.2,272.22 80.2,273.62 81.2,275.06 82.2,276.55 83.2,278.08 84.2,279.65 85.2,281.26 86.2,282.91 87.2,284.59 88.2,286.3 89.2,288.05 90.2,289.81 91.2,291.61 92.2,293.42 93.2,295.26 94.2,297.11 95.2,298.98 96.2,300.86 97.2,302.75 98.2,304.65 99.2,306.56 100.2,308.47 101.2,310.38 102.2,312.3 103.2,314.21 104.2,316.11 105.2,318.01 106.2,319.9 107.2,321.77 108.2,323.63 109.2,325.48 110.2,327.31 111.2,329.11 112.2,330.9 113.2,332.65 114.2,334.38 115.2,336.08 116.2,337.75 117.2,339.38 118.2,340.98 119.2,342.54 120.2,344.05 121.2,345.52 122.2,346.95 123.2,348.33 124.2,349.65 125.2,350.93 126.2,352.15 127.2,353.31 128.2,354.41 129.2,355.45 130.2,356.43 131.2,357.33 132.2,358.18 133.2,358.94 134.2,359.64 135.2,360.26 136.2,360.8 137.2,361.27 138.2,361.65 139.2,361.94 140.2,362.15 141.2,362.27 142.2,362.3 143.2,362.3 144.2,362.3 145.2,362.3 146.2,362.3 147.2,362.3 148.2,362.3 149.2,362.3 150.2,362.3 151.2,362.3 152.2,362.3 153.2,362.3 154.2,362.3 155.2,362.3 156.2,362.3 157.2,362.3 158.2,362.3 159.2,362.3 160.2,362.3 161.2,362.3 162.2,362.3 163.2,362.3 164.2,362.3 165.2,362.3 166.2,362.3 167.2,362.3 168.2,362.3 169.2,362.3 170.2,362.3 171.2,362.3 172.2,362.3 173.2,362.3 174.2,362.3 175.2,362.3 176.2,362.3 177.2,362.3 178.2,362.3 179.2,362.3 180.2,362.3 181.2,362.3 182.2,362.3 183.2,362.3 184.2,362.3 185.2,362.3 186.2,362.3 187.2,362.3 188.2,362.3 188.8,368.4 15.2,368.4" fill="#c8eee6"/>
<polygon points="15.2,295.1 16.2,295.1 17.2,295.1 18.2,295.1 19.2,295.1 20.2,295.1 21.2,295.1 22.2,295.1 23.2,295.1 24.2,295.1 25.2,295.1 26.2,295.1 27.2,295.1 28.2,295.1 29.2,295.1 30.2,295.1 31.2,295.1 32.2,295.1 33.2,295.1 34.2,295.1 35.2,295.1 36.2,295.1 37.2,295.1 38.2,295.1 39.2,295.1 40.2,295.1 41.2,295.1 42.2,295.1 43.2,295.1 44.2,295.1 45.2,295.1 46.2,295.1 47.2,295.1 48.2,295.1 49.2,295.1 50.2,295.1 51.2,295.1 52.2,295.1 53.2,295.1 54.2,295.1 55.2,295.1 56.2,295.1 57.2,295.1 58.2,295.1 59.2,295.1 60.2,295.1 61.2,295.14 62.2,295.25 63.2,295.4 64.2,295.62 65.2,295.89 66.2,296.21 67.2,296.59 68.2,297.02 69.2,297.49 70.2,298.01 71.2,298.58 72.2,299.19 73.2,299.85 74.2,300.54 75.2,301.28 76.2,302.05 77.2,302.87 78.2,303.71 79.2,304.59 80.2,305.51 81.2,306.45 82.2,307.43 83.2,308.43 84.2,309.46 85.2,310.51 86.2,311.59 87.2,312.69 88.2,313.8 89.2,314.94 90.2,316.1 91.2,317.27 92.2,318.46 93.2,319.66 94.2,320.87 95.2,322.09 96.2,323.32 97.2,324.56 98.2,325.8 99.2,327.05 100.2,328.3 101.2,329.55 102.2,330.8 103.2,332.05 104.2,333.3 105.2,334.54 106.2,335.77 107.2,337 108.2,338.22 109.2,339.42 110.2,340.62 111.2,341.8 112.2,342.97 113.2,344.11 114.2,345.25 115.2,346.36 116.2,347.45 117.2,348.51 118.2,349.56 119.2,350.58 120.2,351.57 121.2,352.53 122.2,353.46 123.2,354.36 124.2,355.23 125.2,356.06 126.2,356.86 127.2,357.62 128.2,358.34 129.2,359.02 130.2,359.66 131.2,360.25 132.2,360.8 133.2,361.31 134.2,361.76 135.2,362.17 136.2,362.52 137.2,362.82 138.2,363.07 139.2,363.27 140.2,363.4 141.2,363.48 142.2,363.5 143.2,363.5 144.2,363.5 145.2,363.5 146.2,363.5 147.2,363.5 148.2,363.5 149.2,363.5 150.2,363.5 151.2,363.5 152.2,363.5 153.2,363.5 154.2,363.5 155.2,363.5 156.2,363.5 157.2,363.5 158.2,363.5 159.2,363.5 160.2,363.5 161.2,363.5 162.2,363.5 163.2,363.5 164.2,363.5 165.2,363.5 166.2,363.5 167.2,363.5 168.2,363.5 169.2,363.5 170.2,363.5 171.2,363.5 172.2,363.5 173.2,363.5 174.2,363.5 175.2,363.5 176.2,363.5 177.2,363.5 178.2,363.5 179.2,363.5 180.2,363.5 181.2,363.5 182.2,363.5 183.2,363.5 184.2,363.5 185.2,363.5 186.2,363.5 187.2,363.5 188.2,363.5 188.8,368.4 15.2,368.4" fill="#afdce1"/>
<polygon points="15.2,336.3 16.2,336.3 17.2,336.3 18.2,336.3 19.2,336.3 20.2,336.3 21.2,336.3 22.2,336.3 23.2,336.3 24.2,336.3 25.2,336.3 26.2,336.3 27.2,336.3 28.2,336.3 29.2,336.3 30.2,336.3 31.2,336.3 32.2,336.3 33.2,336.3 34.2,336.3 35.2,336.3 36.2,336.3 37.2,336.3 38.2,336.3 39.2,336.3 40.2,336.3 41.2,336.3 42.2,336.3 43.2,336.3 44.2,336.3 45.2,336.3 46.2,336.3 47.2,336.3 48.2,336.3 49.2,336.3 50.2,336.3 51.2,336.3 52.2,336.3 53.2,336.3 54.2,336.3 55.2,336.3 56.2,336.3 57.2,336.3 58.2,336.3 59.2,336.3 60.2,336.3 61.2,336.32 62.2,336.36 63.2,336.43 64.2,336.52 65.2,336.64 66.2,336.78 67.2,336.94 68.2,337.12 69.2,337.32 70.2,337.54 71.2,337.79 72.2,338.05 73.2,338.33 74.2,338.62 75.2,338.94 76.2,339.27 77.2,339.62 78.2,339.98 79.2,340.35 80.2,340.74 81.2,341.15 82.2,341.56 83.2,341.99 84.2,342.43 85.2,342.88 86.2,343.34 87.2,343.81 88.2,344.29 89.2,344.77 90.2,345.26 91.2,345.77 92.2,346.27 93.2,346.78 94.2,347.3 95.2,347.82 96.2,348.35 97.2,348.88 98.2,349.41 99.2,349.94 100.2,350.47 101.2,351.01 102.2,351.54 103.2,352.07 104.2,352.61 105.2,353.14 106.2,353.66 107.2,354.19 108.2,354.71 109.2,355.22 110.2,355.73 111.2,356.24 112.2,356.73 113.2,357.22 114.2,357.71 115.2,358.18 116.2,358.65 117.2,359.1 118.2,359.55 119.2,359.98 120.2,360.41 121.2,360.82 122.2,361.21 123.2,361.6 124.2,361.97 125.2,362.33 126.2,362.67 127.2,362.99 128.2,363.3 129.2,363.59 130.2,363.86 131.2,364.11 132.2,364.35 133.2,364.56 134.2,364.76 135.2,364.93 136.2,365.08 137.2,365.21 138.2,365.32 139.2,365.4 140.2,365.46 141.2,365.49 142.2,365.5 143.2,365.5 144.2,365.5 145.2,365.5 146.2,365.5 147.2,365.5 148.2,365.5 149.2,365.5 150.2,365.5 151.2,365.5 152.2,365.5 153.2,365.5 154.2,365.5 155.2,365.5 156.2,365.5 157.2,365.5 158.2,365.5 159.2,365.5 160.2,365.5 161.2,365.5 162.2,365.5 163.2,365.5 164.2,365.5 165.2,365.5 166.2,365.5 167.2,365.5 168.2,365.5 169.2,365.5 170.2,365.5 171.2,365.5 172.2,365.5 173.2,365.5 174.2,365.5 175.2,365.5 176.2,365.5 177.2,365.5 178.2,365.5 179.2,365.5 180.2,365.5 181.2,365.5 182.2,365.5 183.2,365.5 184.2,365.5 185.2,365.5 186.2,365.5 187.2,365.5 188.2,365.5 188.8,368.4 15.2,368.4" fill="#9dc3d8"/>
<polygon points="15.2,362.9 16.2,362.9 17.2,362.9 18.2,362.9 19.2,362.9 20.2,362.9 21.2,362.9 22.2,362.9 23.2,362.9 24.2,362.9 25.2,362.9 26.2,362.9 27.2,362.9 28.2,362.9 29.2,362.9 30.2,362.9 31.2,362.9 32.2,362.9 33.2,362.9 34.2,362.9 35.2,362.9 36.2,362.9 37.2,362.9 38.2,362.9 39.2,362.9 40.2,362.9 41.2,362.9 42.2,362.9 43.2,362.9 44.2,362.9 45.2,362.9 46.2,362.9 47.2,362.9 48.2,362.9 49.2,362.9 50.2,362.9 51.2,362.9 52.2,362.9 53.2,362.9 54.2,362.9 55.2,362.9 56.2,362.9 57.2,362.9 58.2,362.9 59.2,362.9 60.2,362.9 61.2,362.9 62.2,362.91 63.2,362.92 64.2,362.93 65.2,362.94 66.2,362.96 67.2,362.98 68.2,363 69.2,363.03 70.2,363.06 71.2,363.09 72.2,363.12 73.2,363.16 74.2,363.19 75.2,363.23 76.2,363.28 77.2,363.32 78.2,363.37 79.2,363.41 80.2,363.46 81.2,363.51 82.2,363.57 83.2,363.62 84.2,363.68 85.2,363.73 86.2,363.79 87.2,363.85 88.2,363.91 89.2,363.97 90.2,364.04 91.2,364.1 92.2,364.16 93.2,364.23 94.2,364.29 95.2,364.36 96.2,364.43 97.2,364.49 98.2,364.56 99.2,364.63 100.2,364.7 101.2,364.76 102.2,364.83 103.2,364.9 104.2,364.97 105.2,365.03 106.2,365.1 107.2,365.17 108.2,365.23 109.2,365.3 110.2,365.36 111.2,365.43 112.2,365.49 113.2,365.55 114.2,365.61 115.2,365.67 116.2,365.73 117.2,365.79 118.2,365.85 119.2,365.9 120.2,365.95 121.2,366.01 122.2,366.06 123.2,366.11 124.2,366.15 125.2,366.2 126.2,366.24 127.2,366.28 128.2,366.32 129.2,366.36 130.2,366.39 131.2,366.42 132.2,366.45 133.2,366.48 134.2,366.51 135.2,366.53 136.2,366.55 137.2,366.56 138.2,366.58 139.2,366.59 140.2,366.59 141.2,366.6 142.2,366.6 143.2,366.6 144.2,366.6 145.2,366.6 146.2,366.6 147.2,366.6 148.2,366.6 149.2,366.6 150.2,366.6 151.2,366.6 152.2,366.6 153.2,366.6 154.2,366.6 155.2,366.6 156.2,366.6 157.2,366.6 158.2,366.6 159.2,366.6 160.2,366.6 161.2,366.6 162.2,366.6 163.2,366.6 164.2,366.6 165.2,366.6 166.2,366.6 167.2,366.6 168.2,366.6 169.2,366.6 170.2,366.6 171.2,366.6 172.2,366.6 173.2,366.6 174.2,366.6 175.2,366.6 176.2,366.6 177.2,366.6 178.2,366.6 179.2,366.6 180.2,366.6 181.2,366.6 182.2,366.6 183.2,366.6 184.2,366.6 185.2,366.6 186.2,366.6 187.2,366.6 188.2,366.6 188.8,368.4 15.2,368.4" fill="#9eacd6"/>
<polygon points="15.2,366 16.2,366 17.2,366 18.2,366 19.2,366 20.2,366 21.2,366 22.2,366 23.2,366 24.2,366 25.2,366 26.2,366 27.2,366 28.2,366 29.2,366 30.2,366 31.2,366 32.2,366 33.2,366 34.2,366 35.2,366 36.2,366 37.2,366 38.2,366 39.2,366 40.2,366 41.2,366 42.2,366 43.2,366 44.2,366 45.2,366 46.2,366 47.2,366 48.2,366 49.2,366 50.2,366 51.2,366 52.2,366 53.2,366 54.2,366 55.2,366 56.2,366 57.2,366 58.2,366 59.2,366 60.2,366 61.2,366 62.2,366 63.2,366.01 64.2,366.01 65.2,366.02 66.2,366.03 67.2,366.03 68.2,366.04 69.2,366.06 70.2,366.07 71.2,366.08 72.2,366.1 73.2,366.11 74.2,366.13 75.2,366.14 76.2,366.16 77.2,366.18 78.2,366.2 79.2,366.22 80.2,366.24 81.2,366.27 82.2,366.29 83.2,366.31 84.2,366.34 85.2,366.36 86.2,366.39 87.2,366.41 88.2,366.44 89.2,366.46 90.2,366.49 91.2,366.52 92.2,366.55 93.2,366.57 94.2,366.6 95.2,366.63 96.2,366.66 97.2,366.69 98.2,366.72 99.2,366.75 100.2,366.78 101.2,366.81 102.2,366.84 103.2,366.86 104.2,366.89 105.2,366.92 106.2,366.95 107.2,366.98 108.2,367.01 109.2,367.04 110.2,367.06 111.2,367.09 112.2,367.12 113.2,367.15 114.2,367.17 115.2,367.2 116.2,367.22 117.2,367.25 118.2,367.27 119.2,367.3 120.2,367.32 121.2,367.34 122.2,367.37 123.2,367.39 124.2,367.41 125.2,367.43 126.2,367.44 127.2,367.46 128.2,367.48 129.2,367.5 130.2,367.51 131.2,367.52 132.2,367.54 133.2,367.55 134.2,367.56 135.2,367.57 136.2,367.58 137.2,367.58 138.2,367.59 139.2,367.59 140.2,367.6 141.2,367.6 142.2,367.6 143.2,367.6 144.2,367.6 145.2,367.6 146.2,367.6 147.2,367.6 148.2,367.6 149.2,367.6 150.2,367.6 151.2,367.6 152.2,367.6 153.2,367.6 154.2,367.6 155.2,367.6 156.2,367.6 157.2,367.6 158.2,367.6 159.2,367.6 160.2,367.6 161.2,367.6 162.2,367.6 163.2,367.6 164.2,367.6 165.2,367.6 166.2,367.6 167.2,367.6 168.2,367.6 169.2,367.6 170.2,367.6 171.2,367.6 172.2,367.6 173.2,367.6 174.2,367.6 175.2,367.6 176.2,367.6 177.2,367.6 178.2,367.6 179.2,367.6 180.2,367.6 181.2,367.6 182.2,367.6 183.2,367.6 184.2,367.6 185.2,367.6 186.2,367.6 187.2,367.6 188.2,367.6 188.8,368.4 15.2,368.4" fill="#9c92c2"/>
<line x1="59.1" y1="209.6" x2="59.1" y2="368.4" stroke="#ffffff" stroke-width="0.4" opacity="0.35"/>
<line x1="146" y1="209.6" x2="146" y2="368.4" stroke="#ffffff" stroke-width="0.4" opacity="0.35"/>
<rect x="15.2" y="209.6" width="173.6" height="158.8" fill="none" stroke="#555" stroke-width="1"/>
<text x="21.3" y="217.6" font-size="5.5" text-anchor="start" fill="#e03a3a" font-weight="bold">pd + B cluster 1</text>
<text x="186.5" y="230.8" font-size="5.5" text-anchor="end" fill="#e03a3a" font-weight="bold">pd + B cluster 1</text>
<text x="37.4" y="241" font-size="5.5" text-anchor="middle" fill="#e03a3a" font-weight="bold">pdECM</text>
<text x="37.4" y="247.7" font-size="5.5" text-anchor="middle" fill="#e03a3a" font-weight="bold">cluster 2</text>
<text x="166.7" y="301" font-size="5.5" text-anchor="middle" fill="#e03a3a" font-weight="bold">pdECM</text>
<text x="166.7" y="307.7" font-size="5.5" text-anchor="middle" fill="#e03a3a" font-weight="bold">cluster 2</text>
<text x="37.4" y="277.2" font-size="5.5" text-anchor="middle" fill="#333">BME</text>
<text x="37.4" y="283.9" font-size="5.5" text-anchor="middle" fill="#333">cluster 2</text>
<text x="37.4" y="315.4" font-size="5.5" text-anchor="middle" fill="#333">BME</text>
<text x="37.4" y="322.1" font-size="5.5" text-anchor="middle" fill="#333">cluster 3</text>
<text x="37.4" y="348.5" font-size="5.5" text-anchor="middle" fill="#333">BME</text>
<text x="37.4" y="355.2" font-size="5.5" text-anchor="middle" fill="#333">cluster 4</text>
<text x="27.2" y="376" font-size="5.5" text-anchor="middle" fill="#222">Organoid</text>
<text x="27.2" y="382.2" font-size="5.5" text-anchor="middle" fill="#222">(Multiome)</text>
<text x="96" y="376" font-size="5.5" text-anchor="middle" fill="#222">Difference in proportion</text>
<text x="96" y="382.2" font-size="5.5" text-anchor="middle" fill="#222">between studies</text>
<text x="167" y="376" font-size="5.5" text-anchor="middle" fill="#222">Clinical Tissue</text>
<text x="167" y="382.2" font-size="5.5" text-anchor="middle" fill="#222">(Advanced CRC)</text>
<line x1="43.8" y1="377.5" x2="59.5" y2="377.5" stroke="#222" stroke-width="0.6"/>
<path d="M59,375.8 L62,377.5 L59,379.2Z" fill="#222" stroke="none" stroke-width="0.6"/>
<line x1="146" y1="377.5" x2="131" y2="377.5" stroke="#222" stroke-width="0.6"/>
<path d="M131.5,375.8 L128.5,377.5 L131.5,379.2Z" fill="#222" stroke="none" stroke-width="0.6"/>
<rect x="193.1" y="277.6" width="4.8" height="5" fill="#fdf7d8" stroke="none" stroke-width="0.6"/>
<text x="198.3" y="281.8" font-size="5.4" text-anchor="start" fill="#333">pdECM + BME cluster 1</text>
<rect x="193.1" y="284.37" width="4.8" height="5" fill="#dcf3cf" stroke="none" stroke-width="0.6"/>
<text x="198.3" y="288.57" font-size="5.4" text-anchor="start" fill="#333">pdECM cluster 2</text>
<rect x="193.1" y="291.14" width="4.8" height="5" fill="#a8e3d6" stroke="none" stroke-width="0.6"/>
<text x="198.3" y="295.34" font-size="5.4" text-anchor="start" fill="#333">BME cluster 2</text>
<rect x="193.1" y="297.91" width="4.8" height="5" fill="#8dcfd8" stroke="none" stroke-width="0.6"/>
<text x="198.3" y="302.11" font-size="5.4" text-anchor="start" fill="#333">BME cluster 3</text>
<rect x="193.1" y="304.68" width="4.8" height="5" fill="#68a8c8" stroke="none" stroke-width="0.6"/>
<text x="198.3" y="308.88" font-size="5.4" text-anchor="start" fill="#333">BME cluster 4</text>
<rect x="193.1" y="311.45" width="4.8" height="5" fill="#5b7cc0" stroke="none" stroke-width="0.6"/>
<text x="198.3" y="315.65" font-size="5.4" text-anchor="start" fill="#333">BME cluster 5</text>
<rect x="193.1" y="318.22" width="4.8" height="5" fill="#4a55a0" stroke="none" stroke-width="0.6"/>
<text x="198.3" y="322.42" font-size="5.4" text-anchor="start" fill="#333">BME cluster 6</text>
<text x="271.5" y="206.5" font-size="15" text-anchor="start" fill="#000" font-weight="bold">e</text>
<defs><linearGradient id="gpl" x1="0" x2="1" y1="0" y2="0"><stop offset="0" stop-color="#1c1068"/><stop offset="0.2" stop-color="#5210a0"/><stop offset="0.4" stop-color="#a424b0"/><stop offset="0.55" stop-color="#d03c82"/><stop offset="0.7" stop-color="#ee6a50"/><stop offset="0.85" stop-color="#f8a432"/><stop offset="1" stop-color="#f0e236"/></linearGradient></defs>
<rect x="322.5" y="207" width="52" height="5.8" fill="url(#gpl)" stroke="#555" stroke-width="0.3"/>
<line x1="332.9" y1="207" x2="332.9" y2="208.2" stroke="#fff" stroke-width="0.35"/>
<line x1="332.9" y1="211.6" x2="332.9" y2="212.8" stroke="#fff" stroke-width="0.35"/>
<line x1="343.3" y1="207" x2="343.3" y2="208.2" stroke="#fff" stroke-width="0.35"/>
<line x1="343.3" y1="211.6" x2="343.3" y2="212.8" stroke="#fff" stroke-width="0.35"/>
<line x1="353.7" y1="207" x2="353.7" y2="208.2" stroke="#fff" stroke-width="0.35"/>
<line x1="353.7" y1="211.6" x2="353.7" y2="212.8" stroke="#fff" stroke-width="0.35"/>
<line x1="364.1" y1="207" x2="364.1" y2="208.2" stroke="#fff" stroke-width="0.35"/>
<line x1="364.1" y1="211.6" x2="364.1" y2="212.8" stroke="#fff" stroke-width="0.35"/>
<text x="348.8" y="205.6" font-size="5.6" text-anchor="middle" fill="#222">Pseudotime</text>
<text x="321.5" y="219.2" font-size="5.4" text-anchor="middle" fill="#222">Min</text>
<text x="372.8" y="219.2" font-size="5.4" text-anchor="middle" fill="#222">Max</text>
<text x="325.4" y="241.5" font-size="5.5" text-anchor="middle" fill="#222">Late pdECM</text>
<text x="396" y="229" font-size="5.5" text-anchor="middle" fill="#222">Early BME</text>
<text x="421.2" y="335.5" font-size="5.5" text-anchor="middle" fill="#222">Early pdECM</text>
<path d="M325.9,246.8 C329.22,246.38 333.17,245.88 337.1,246.8 C341.03,247.72 346.2,249.73 349.5,252.3 C352.8,254.87 354.42,259.1 356.9,262.2 C359.38,265.3 361.92,269.03 364.4,270.9 C366.88,272.77 370.28,271.88 371.8,273.4 C373.32,274.92 373.22,277.82 373.5,280 C373.78,282.18 373.35,283.67 373.5,286.5 C373.65,289.33 373.67,293.48 374.4,297 C375.13,300.52 376,304.23 377.9,307.6 C379.8,310.97 382.15,315.1 385.8,317.2 C389.45,319.3 397.03,319.03 399.8,320.2 C402.57,321.37 402.55,322.37 402.4,324.2 C402.25,326.03 401.08,329.45 398.9,331.2 C396.72,332.95 392.95,333.38 389.3,334.7 C385.65,336.02 380.32,337.95 377,339.1 C373.68,340.25 372.33,340.77 369.4,341.6 C366.47,342.43 362.72,342.45 359.4,344.1 C356.08,345.75 353.22,350.05 349.5,351.5 C345.78,352.95 341.65,353.62 337.1,352.8 C332.55,351.98 326.33,348.47 322.2,346.6 C318.07,344.73 315.62,343.25 312.3,341.6 C308.98,339.95 305,339.6 302.3,336.7 C299.6,333.8 297.53,329.17 296.1,324.2 C294.67,319.23 294.1,312.68 293.7,306.9 C293.3,301.12 293.08,294.47 293.7,289.5 C294.32,284.53 295.55,280.2 297.4,277.1 C299.25,274 302.73,273.8 304.8,270.9 C306.87,268 307.73,263.3 309.8,259.7 C311.87,256.1 314.52,251.45 317.2,249.3 C319.88,247.15 322.58,247.22 325.9,246.8Z" fill="none" stroke="#000" stroke-width="0.85" stroke-dasharray="0.8 0.9"/>
<path d="M373.5,251.5 C373.93,246.83 374.67,242.5 377,239.3 C379.33,236.1 382.83,233.47 387.5,232.3 C392.17,231.13 400.92,231.13 405,232.3 C409.08,233.47 410.53,236.38 412,239.3 C413.47,242.22 413.5,245.72 413.8,249.8 C414.1,253.88 414.25,260.15 413.8,263.8 C413.35,267.45 412.57,271.42 411.1,271.7 C409.63,271.98 407.77,267.12 405,265.5 C402.23,263.88 397.12,262.28 394.5,262 C391.88,261.72 391.05,262.33 389.3,263.8 C387.55,265.27 385.75,269.35 384,270.8 C382.25,272.25 380.4,273.08 378.8,272.5 C377.2,271.92 375.28,270.8 374.4,267.3 C373.52,263.8 373.07,256.17 373.5,251.5Z" fill="none" stroke="#000" stroke-width="0.85" stroke-dasharray="0.8 0.9"/>
<path d="M410.3,276 C410.73,273.67 413.47,272.1 415.5,270.8 C417.53,269.5 420.3,268.35 422.5,268.2 C424.7,268.05 427.38,268.3 428.7,269.9 C430.02,271.5 429.82,274.45 430.4,277.8 C430.98,281.15 431.03,287.52 432.2,290 C433.37,292.48 436.68,290.65 437.4,292.7 C438.12,294.75 437.23,298.65 436.5,302.3 C435.77,305.95 434.45,311.38 433,314.6 C431.55,317.82 430.13,320.15 427.8,321.6 C425.47,323.05 420.9,323.88 419,323.3 C417.1,322.72 418.58,320.13 416.4,318.1 C414.22,316.07 407.5,313.73 405.9,311.1 C404.3,308.47 405.78,304.35 406.8,302.3 C407.82,300.25 410.4,300.27 412,298.8 C413.6,297.33 416.25,295.83 416.4,293.5 C416.55,291.17 413.92,287.72 412.9,284.8 C411.88,281.88 409.87,278.33 410.3,276Z" fill="none" stroke="#000" stroke-width="0.85" stroke-dasharray="0.8 0.9"/>
<path d="M342.9 264.8h0M339.6 306.7h0M335.5 298.5h0M348.4 260.8h0M348.6 290.8h0M364.8 289.1h0M349.2 272.2h0M368.5 278.3h0M344.5 292.6h0M332.9 341.1h0M338.5 344.2h0M326 331.3h0M339.6 313.3h0M338.4 288.4h0M342.5 259.5h0M352.9 290h0M348.2 265.5h0M344.3 311.9h0M325.7 337.9h0M349.1 269h0M346.1 277.6h0M337.4 321h0M348.5 294.2h0M367.4 288h0M346 300.8h0M346.6 278.1h0M347.9 277h0M343.2 302.8h0M340.6 257h0M334.6 294.9h0M329.1 332.8h0M335.6 285.7h0M349 260.6h0M331 302.4h0M356.7 285.3h0M351.8 276.8h0M346.5 279.8h0M327.8 312.9h0M341.1 341.8h0M345.4 293.1h0M338.7 283.9h0M340.9 305.6h0M357.3 279.8h0M349.5 305.8h0M355.8 271.7h0M354.3 283.4h0M346.5 276.4h0M330.7 340.4h0M338.9 303.3h0M331.1 328.7h0M339.9 273.4h0M353.4 266.2h0M341.9 307.2h0M345.2 264.2h0M352.1 286.2h0M351.3 281.6h0M347.5 308.5h0M334.5 320.1h0M350.8 272.7h0M341.5 297.4h0M358.2 287h0M333.4 320.1h0M331.9 288.4h0M362.9 283h0M331.4 323.8h0M341.5 275h0M354.2 285.2h0M344.5 265.5h0M333.3 270.2h0M367.3 289h0M338.4 309.7h0M342.3 283.5h0M347.9 287.5h0M346.3 286.3h0M338.6 345.9h0M353.1 285.3h0M364.1 291h0M348.6 315.9h0M341.1 304.8h0M353.3 272.1h0M359.4 276.6h0M342.1 260.9h0M347.3 271.3h0M354.9 287.8h0M329 311.6h0M367 293.6h0M347.7 261.3h0M343.4 341.8h0M333.4 338.6h0M342.2 272.9h0M337.3 284.3h0M342 305.5h0M347.8 262.3h0" stroke="#e86050" stroke-width="1.7" stroke-linecap="round" fill="none"/>
<path d="M356.8 290.3h0M337.5 316.5h0M350.8 266.6h0M338.4 291.8h0M352.6 272.9h0M332.1 333.5h0M358.9 283.8h0M344 302h0M337 299.9h0M366.4 286.2h0M339.2 342.8h0M335.9 294.5h0M331.8 338.6h0M330.6 330.8h0M337.8 266.1h0M323.8 332.4h0M345.6 281.9h0M330.2 332.7h0M348 262.7h0M339.9 343.2h0M331.9 334.6h0M345.6 278.6h0M335.4 293.7h0M341 268.9h0M348.2 317.5h0M334.1 289.9h0M338.7 266.2h0M327.1 332.7h0M358.4 275.2h0M335.2 290.1h0M355.2 286.7h0M352.6 286.1h0M368 278.4h0M364.7 284.9h0M332.4 290.9h0M352.8 283.4h0M346.5 266.3h0M339.1 278.5h0M340.4 315.6h0M344.6 313.8h0M354.5 291.4h0M333.9 322.5h0M332.7 296.4h0M354.1 288.6h0M364.5 280.5h0M337.2 256.9h0M337.1 316.9h0M368.7 282.9h0M329.8 322.9h0M327.6 325.9h0M346.7 304.9h0M360.9 290h0M339.4 268.4h0M347.4 290.6h0M368.1 289.7h0M357.5 287.6h0M336 302h0M328.9 312h0M357.6 276.7h0M344.2 272.5h0M333.3 301.5h0M367.5 287.1h0M334.6 302h0M355.7 295.9h0M345.6 300.6h0M338.6 256h0M363.8 279.6h0M362.2 276h0M329.1 332.6h0M360.4 272.7h0M339.6 316.9h0M350.1 262.4h0M343.3 266.9h0M337 270.7h0M325.9 337.4h0M337.8 290.5h0M368 284.9h0M340.8 315.1h0M346.5 343.7h0M364 287.9h0M334.9 344.8h0M354.2 290.2h0M353.8 277.6h0M357.6 277.7h0M332.6 318.8h0M336.6 300.7h0M342.1 290.5h0M365.1 277.5h0M337.5 317.9h0M330.9 331.7h0M334.9 314.3h0M333.3 301.7h0M333.2 313.2h0M362.6 286h0M344.7 268.5h0M350.2 273.7h0M344.2 300.6h0M341.8 290.7h0" stroke="#ee7450" stroke-width="1.7" stroke-linecap="round" fill="none"/>
<path d="M319.6 321.1h0M323.3 272.8h0M323.5 287.5h0M321.3 280.3h0M322.5 280.3h0M317.5 275.7h0M320.1 307.2h0M331.1 301.4h0M336.3 262.6h0M330.1 267.3h0M317.4 310.4h0M330.5 274.3h0M333.1 302.5h0M323.3 316.8h0M321.8 301.5h0M325.5 280.6h0M337.2 279h0M312.5 324.7h0M329 320.4h0M325.1 274h0M330.8 266.1h0M323.7 332h0M310 319.5h0M318 335.6h0M331.8 291h0M321.6 333.1h0M322.2 293.2h0M320.9 301h0M325.6 286h0M315.3 331.1h0M328.7 286.7h0M315.7 316.8h0M336.2 262.1h0M320.2 284.9h0M323.5 319.3h0M316.8 309.5h0M330.4 256.6h0M322.4 295.9h0M322.5 320h0M324.5 301.8h0M314.6 322.6h0M321.9 276.4h0M323.5 323.9h0M329.8 298.1h0M321.9 261h0M320.5 287h0M322.2 334.3h0M317.9 332.3h0M308.3 331.4h0M323.2 254h0M315.8 331.6h0M325.5 312.1h0M322.7 325.8h0M331.6 269h0M330.7 283.1h0M323.3 305.3h0M325.8 289.5h0M329.1 260.2h0M324.1 275.2h0M322.8 320.4h0M315.8 338.8h0M319 323.2h0M313.9 334.9h0M323.3 340.6h0M328.5 270.9h0" stroke="#f28a48" stroke-width="1.7" stroke-linecap="round" fill="none"/>
<path d="M384.1 326.1h0M366.3 333.7h0M364.3 313.2h0M353.9 303.5h0M360.3 331.4h0M360.1 314.9h0M374.3 315.8h0M385.5 327.4h0M357.4 317.2h0M357.3 314.8h0M357.6 310.8h0M373.6 320.2h0M364.1 296.1h0M359.2 294.9h0M373.3 320h0M367.1 329.7h0M367.7 330.2h0M390.2 326.4h0M359.7 329.5h0M361 302.6h0M364.3 315.4h0M360.8 311.9h0M360.2 333h0M381.7 327.3h0M372.6 322.7h0M371.2 313.9h0M345.9 309h0M362.1 309.4h0M361.9 326.1h0M346.4 312.7h0M361.2 329.7h0M354.3 340.7h0M352 300.6h0M366.7 319.3h0M368.7 307.7h0M364.6 319.7h0M369.9 301.1h0M355 312.7h0M361.3 303.2h0M365.4 323.4h0M346.4 309.7h0M370.3 334.2h0M371.1 307.6h0" stroke="#d04070" stroke-width="1.7" stroke-linecap="round" fill="none"/>
<path d="M341.9 281.4h0M342.1 311.3h0M366.1 285.2h0M340.1 292h0M338.8 281.9h0M335.3 308.4h0M344.1 291h0M353.9 293.6h0M324.1 333.6h0M355.3 269.3h0M345.1 306h0M341.3 260.4h0M351.8 265h0M340.1 339.5h0M354.7 270.6h0M349 289.4h0M348.2 343.9h0M338.8 312.4h0M367.3 295.7h0M343.4 281.1h0M347.7 288.2h0M330.4 285.2h0M342.3 321.1h0M352 288.3h0M328.9 327.3h0M355.9 285.1h0M345.2 293.7h0M347 269.2h0M331.5 294.6h0M335.6 320.7h0M368.5 287.6h0M322.8 338.3h0M350.7 277.2h0M336.9 339.2h0M331.9 312h0M339 341.2h0M366.1 292.5h0M343.4 286.2h0M351.6 286.8h0M342.6 345.2h0M341.3 259.3h0M362.4 287.1h0M351.8 273h0M347.8 308.1h0M326.7 319.6h0M351.9 279.1h0M365 287.9h0M335.9 297.1h0M359.8 286.2h0M347.4 312.6h0M341.1 306.2h0M327.5 321.5h0M359 283.4h0M342.5 282.4h0M352.9 290.8h0M359.1 272.7h0M360.6 280h0M346.1 340.1h0M329.1 313.7h0M348.6 294.9h0M338.1 296.9h0M344.8 256.3h0M365.4 291.5h0M327.1 335.1h0M334 296h0M345.4 307.6h0M337.5 305.8h0M355.6 295.1h0M339.9 313h0M349.1 279.2h0M346.2 341.2h0M347.8 260.4h0M334.1 315.3h0M335.9 301.3h0M330.9 329.6h0M342.7 340.3h0M358.8 294.1h0M334.2 301.7h0M365.4 277.9h0M327.6 342.5h0M340.4 261.5h0M335.2 344.5h0M343.6 305.2h0M336.1 342.2h0M337.9 299.7h0M347 292.1h0M355.3 272.9h0M342 284.1h0M340.4 270.2h0M336.6 316.3h0M343.7 264.8h0M351.1 285.2h0M327 325h0M340.8 346.1h0M349.7 261.2h0M359.1 286.6h0M340.4 317.6h0M365.8 280.5h0M345.9 345h0M353.4 272.7h0M349 274.3h0M357.1 276h0M323.6 342.4h0" stroke="#ec6c50" stroke-width="1.7" stroke-linecap="round" fill="none"/>
<path d="M338.5 326.9h0M342.3 325h0M344.2 335.6h0M348.3 322.7h0M344 327.1h0M336 323.5h0M358.4 329.7h0M352.7 326.2h0M335.9 335.7h0M345 338.2h0M350.2 335.9h0M349.2 329.9h0M338.9 327.9h0M342.8 332.4h0M351.8 325.6h0M352.5 328.7h0M343 321.6h0M348.1 336.1h0M346.6 338.1h0M335.8 327.4h0M343.7 335.4h0M352.7 335.4h0" stroke="#eec040" stroke-width="1.7" stroke-linecap="round" fill="none"/>
<path d="M367.6 312.1h0M368 300.7h0M359.8 296.5h0M365.6 302.5h0M346.3 303.3h0M352.7 315.5h0M355.1 312.6h0M356 317.1h0M361.4 330.3h0M376.9 317.4h0M367.3 313.7h0M348.8 319.2h0M351.3 310.4h0M370.6 324.7h0M352.6 306.7h0M365.5 322.6h0M347.7 341h0M374.7 331.5h0M359.2 330.5h0M352.7 340h0M378 316.9h0M364.6 309h0M357.7 316.7h0M368.4 301.6h0M376 324.6h0M364.4 320h0M363.6 323.3h0M371 313.2h0M378.8 328h0M363.4 324h0M386 323.1h0M382.5 321h0M386 329h0M393.9 325.6h0M356.3 301.5h0M372.5 332.2h0M362 309h0M376.5 316.1h0M376.9 314.4h0" stroke="#b83080" stroke-width="1.7" stroke-linecap="round" fill="none"/>
<path d="M321.8 292.1h0M326.1 304.2h0M323.9 300.1h0M318 315.7h0M321 322.2h0M334 261.3h0M325.3 276h0M330.7 264.6h0M318.6 306.4h0M313.3 331.1h0M320.6 305h0M326 288.9h0M315.1 312.1h0M316.5 299.3h0M332 267.4h0M335.2 256.3h0M321.4 310h0M327.8 288.8h0M334.7 254.8h0M314.8 332.4h0M341.8 256.3h0M331.8 280h0M324.8 270.1h0M326.7 307.4h0M315.9 321.1h0M314.9 337.3h0M333.9 252.5h0M312.7 333h0M329.6 272h0M333.4 274.6h0M314.7 307.3h0M324.3 276h0M316.5 322.2h0M338 255.4h0M315 334.8h0M331.6 271.9h0M335.2 290.8h0M314.7 320.7h0M323 281.4h0M328.1 302.7h0M329 277.5h0M328.6 305.4h0M323.8 319h0M332.9 272.7h0M313.1 302.1h0M322.8 289.2h0M324.3 286.2h0M327.4 313.5h0M319.2 312.1h0M327.3 255.3h0M321.9 253.1h0M321.1 338.9h0M334.9 261.1h0M323 265.9h0M318.7 288.3h0M334 266.7h0M320.8 262.7h0M337.4 256h0M315 318.1h0" stroke="#f2804c" stroke-width="1.7" stroke-linecap="round" fill="none"/>
<path d="M361.8 326.5h0M354 340.1h0M381.7 321.8h0M367.2 295.7h0M385.7 329.3h0M376.9 325.9h0M373 330.4h0M349.5 303.1h0M355 299.3h0M354 307.4h0M346.2 340.3h0M362.2 318.8h0M360.1 303.8h0M366.5 294.5h0M373.7 332.4h0M372.6 317h0M350.3 317.9h0M353.3 302.2h0M373.7 312.4h0M355.3 304.8h0M375.4 317.9h0M370.1 299.6h0M361.7 303.8h0M351.3 318h0M370.9 333.8h0M359.3 323.1h0M349.3 301.8h0M379.4 330.3h0M346.3 316.4h0M350 300.2h0M374.6 319.9h0M365.5 330h0M358.9 333h0M352.2 294.4h0M369.2 323.7h0M355.2 306.9h0M361.2 329.1h0M365.5 326.1h0M380.1 329.4h0M388.1 321.1h0M361.3 318.1h0M358.4 308.7h0M379.9 320.5h0M385.1 328.1h0M360.7 308.3h0M356.2 338.5h0" stroke="#c03078" stroke-width="1.7" stroke-linecap="round" fill="none"/>
<path d="M336.6 252.3h0M309.4 331.9h0M322.1 292.3h0M328.4 280h0M327.6 292.6h0M323 292h0M320.2 309.9h0M312.5 308.9h0M322.9 326.6h0M326.6 308.4h0M329.1 275.9h0M323.4 269h0M310.6 308.4h0M330.2 293.3h0M324.1 303.6h0M321 272.5h0M327.1 265.1h0M325.7 300.6h0M337.7 262.8h0M327.1 309.4h0M325.8 305.5h0M319.5 294.9h0M326.3 269h0M331.5 270h0M326.6 284.3h0M321.9 298.5h0M332 251.6h0M324 277.5h0M324.9 328.1h0M331.7 304.4h0M330.4 282.4h0M326.9 267.4h0M311.1 325.4h0M319.6 324.4h0M333.2 265.5h0M317.1 324.6h0M328.5 291.7h0M330.7 288h0M324.2 282.4h0M320.9 331.9h0M326.2 290.6h0M320 307.5h0M319.5 340.7h0M320.2 308.7h0M318.7 283.1h0M320.4 298.8h0M325.9 259.5h0M331.9 260.8h0M324.8 325h0M325.8 303.8h0M331.4 264.6h0M313.1 322.6h0M312.1 324.4h0M330.5 257.4h0M329.2 251.3h0M332.2 266.9h0M326.8 284.8h0M337.8 253h0M319.8 337h0M319.4 333.9h0M340.6 262.5h0M318.4 331.9h0M321.1 314.8h0" stroke="#f49440" stroke-width="1.7" stroke-linecap="round" fill="none"/>
<path d="M318 263.5h0M321.8 260.8h0M310.8 298.8h0M311.3 298.7h0M304.5 312.8h0M300.4 320.7h0M318 265.7h0M302.9 286.7h0M305.4 304.7h0M316 268.5h0M302 305.1h0M313.7 274.1h0M311.2 316.7h0M302.6 320.2h0M310.7 268.5h0M319.1 268.7h0M307.2 275.3h0M309.1 290.3h0M300.4 313.2h0M317.2 292.4h0M300.5 315.4h0M309.7 294h0M312.8 285.2h0M303.5 281.2h0M319.4 263.2h0M324.4 253.9h0M315 262.2h0M316.6 280.4h0M301.3 319.2h0M321.7 256.8h0M308.2 282.5h0M301.1 306h0M313.2 294h0M322.2 269.7h0M318.6 289.8h0M304.9 329.5h0M318 282.7h0M297.9 297.1h0M305.9 283.9h0M300.7 300h0M314.5 276.7h0M320.8 270.2h0M301.9 318.3h0M305.7 289.4h0M304 324.3h0M304.1 308.8h0M310.8 277.3h0M300.2 309.1h0M302 283.3h0M313.2 267.5h0M309.6 274.3h0M305.3 307.1h0M310.9 270.2h0M318.2 285.3h0M313.9 281.3h0M303.7 309.5h0M310.2 295h0M316.8 295.3h0M302.4 303.9h0M309.1 314.1h0M307 286.7h0M308.3 318.2h0M318 278.9h0M312.6 314.9h0M314.9 264.9h0M319.2 269.8h0M302 315.4h0M314.2 273.4h0M303.7 286h0M318 259.1h0M304.4 294.9h0M315 273h0M300.6 293.6h0" stroke="#f6a43a" stroke-width="1.7" stroke-linecap="round" fill="none"/>
<path d="M373.9 329.5h0M360.2 330.4h0M370.4 293.5h0M359.1 318.6h0M360.8 312.1h0M364.8 309.4h0M379.5 329.7h0M371.4 327.8h0M348.7 297.2h0M359.6 327.4h0M352.9 313.1h0M356.3 306.9h0M357.4 306.3h0M363.9 310.8h0M365.3 330.6h0M355 315.8h0M379.8 329.1h0M362.1 306.1h0M387.4 322.2h0M353.4 320.5h0M387.5 323.7h0M363 309.1h0M362.5 300.9h0M367.7 324.4h0M358.5 335.6h0M383.4 328.6h0M351.6 341.9h0M372.6 326.3h0M360.4 331.3h0M367.3 328.8h0M369.6 316.8h0M386.9 323.9h0M370.8 331.7h0M349.6 342.8h0M374.6 328h0M362.5 312.3h0M380.6 327.5h0M363.5 324.1h0M357.5 313.9h0M387.7 322.1h0M373.3 326.2h0M355.1 315.1h0M354.6 337h0" stroke="#c8386e" stroke-width="1.7" stroke-linecap="round" fill="none"/>
<path d="M311.1 273.7h0M302.8 296.3h0M326.7 251.6h0M308.8 329.6h0M305.3 312h0M304.9 281.2h0M325.9 256.9h0M317.9 297.3h0M305.7 310h0M303.5 322.1h0M306.6 318.8h0M309.2 298.9h0M301.7 305.8h0M301.2 290.9h0M313.9 301.7h0M323.4 260.6h0M318.9 281h0M309.2 300.8h0M309.6 324.9h0M316.9 281.1h0M310.5 319.6h0M317.4 256.9h0M315.8 303.7h0M321.9 274.9h0M304.9 317.7h0M313.3 279.7h0M305.4 282.4h0M302.9 316.6h0M310.5 326.3h0M306.9 304.2h0M311.3 335.9h0M311.4 316.1h0M310.5 269.3h0M302.5 310.6h0M305.9 330h0M319.9 292.8h0M308.5 332.8h0M301.3 288h0M318.9 258.5h0M305.7 324.1h0M311.4 283.4h0M302.2 303.1h0M306.4 327.1h0M312 328.5h0M300.3 287.9h0M306.2 298h0M306.5 304.5h0M312 284.4h0M310.4 331.4h0M316.6 295.4h0M305.6 314.3h0M307.9 329.8h0M301.6 289h0M313 306.8h0M302.3 279.9h0M323.4 270.8h0M318.1 272.7h0M306.3 316.6h0M324.2 256.7h0M315.8 290.1h0M325 269.8h0M314.3 285.5h0M302.3 296.7h0M311.6 309.8h0M300 317h0M324.5 252h0M308.5 295.6h0" stroke="#f8ae40" stroke-width="1.7" stroke-linecap="round" fill="none"/>
<path d="M323.2 273.7h0M307.1 313.5h0M303.4 309h0M311.3 324.2h0M309.3 297.7h0M311.1 272.5h0M317 286.3h0M302.7 321.5h0M316.5 258.7h0M313.2 287h0M303.9 293h0M310 279.5h0M321.1 259.5h0M314.2 285.8h0M308.4 302.8h0M321.2 269.5h0M321.2 261.8h0M305.5 318.4h0M301 293.6h0M306.4 302.5h0M304.9 290.6h0M304.3 293.6h0M301.3 309.6h0M311.9 299.7h0M299 295.6h0M300.4 305.4h0M303.6 280.2h0M313.7 317.2h0M308.1 285.3h0M320.6 267.7h0M311.8 317h0M306 312.7h0M301.3 293.9h0M301 316.9h0M322.5 270.6h0M317.5 260.8h0M303.9 305.2h0M308.6 299.1h0M301.1 311h0M300.5 282.5h0M316.5 282.1h0M321.1 257.8h0M303.2 312.1h0M304.1 297.4h0M307.8 305.7h0M303.7 321.3h0M317.5 292.6h0M306.3 321.8h0M313 302.5h0M322.5 253.7h0M306.9 280.4h0M308 275.1h0M299.9 293.5h0M308.7 297.5h0M310.9 269.6h0M310.6 301.7h0M313.6 307.8h0M316.1 258.4h0" stroke="#f49a3a" stroke-width="1.7" stroke-linecap="round" fill="none"/>
<path d="M345 338.1h0M351.8 331.2h0M333.5 330.8h0M355.1 330.2h0M353.7 323.4h0M338.6 332.5h0M351.1 332.5h0M342.7 325.3h0M332.3 328.9h0M346.2 338.4h0M355.9 332.1h0M351.3 324.1h0M335.9 329.2h0M341 321.6h0M343.6 322.8h0" stroke="#f0c83a" stroke-width="1.7" stroke-linecap="round" fill="none"/>
<path d="M338.4 327h0M339.2 337.2h0M341.2 332.3h0M333.2 328.7h0M346.2 326.6h0M340.1 331h0M351.7 334.6h0M340.2 322h0M335 329.8h0M334.7 325.2h0M342.6 321.9h0M349.4 333.3h0M355 328.7h0" stroke="#f5d040" stroke-width="1.7" stroke-linecap="round" fill="none"/>
<path d="M387 251.9h0M409.4 246.9h0M399.4 250.1h0M398.7 258.6h0M396.7 251.8h0M408.9 247h0M399.5 237.1h0M379.8 254.5h0M400.9 253.1h0M408.6 243.4h0M410 257h0M385.7 253h0M399.4 247.6h0M395.5 250h0M385.9 242.2h0M402 255.8h0M388.6 252.5h0M394.7 236.7h0M386.5 244.6h0M395.7 238h0M408 255.7h0M396.2 249.8h0M386.4 238.5h0M409.6 255.3h0M403.9 258.1h0M392.8 242.1h0M389.2 257.3h0M408.8 252.6h0M400.4 238.5h0M390.5 239.6h0M390.3 251.5h0M406.3 249.1h0M381.9 240.7h0M409.1 260.9h0" stroke="#4a30a8" stroke-width="1.7" stroke-linecap="round" fill="none"/>
<path d="M385.7 256.2h0M380.8 245.9h0M397 253h0M398.6 258.5h0M387.7 251h0M379 245.6h0M395 239.5h0M397.1 240.3h0M399.5 257.8h0M383.2 259.2h0M387.7 240.6h0M382.5 244.4h0M385.9 245.6h0M381.2 240.7h0M388 254.4h0M392.2 237h0M401.9 255.6h0M408.6 245.8h0M406.1 258.3h0M403.1 251h0M385.7 244.2h0M392.4 239.3h0M398.6 239.4h0M397.8 253.2h0M401.3 250.3h0M404 246.1h0M406.6 242h0M397.9 244.5h0M390.8 255.5h0M404.9 239.7h0M385.1 246.6h0M390.6 251h0M404.7 260.3h0M386.3 252.1h0M379.9 256.7h0M400.4 254.6h0M386.7 242.3h0M381.5 247.7h0M404.2 248.2h0M383.2 245.9h0M396.5 248.8h0M380.4 242.3h0M406.5 248.9h0M404 239.7h0M395.2 240.9h0" stroke="#3a2a9a" stroke-width="1.7" stroke-linecap="round" fill="none"/>
<path d="M389.2 243h0M409.7 249.4h0M407.6 250.4h0M390.3 238.2h0M405 258.5h0M392.8 247.6h0M383 244.5h0M379.8 255.5h0M389.5 252.9h0M395.5 253.8h0M397.5 247.7h0M408.1 250h0M392.6 252.2h0M385.9 241.9h0M396.4 256.4h0M378.9 248.8h0M408.2 248.2h0M392.2 246.7h0M400 241.4h0M389.3 246.4h0M406.3 246.4h0M388.4 241.7h0M395.6 254.1h0M396.3 254.5h0M389.2 249.8h0M393.7 256.3h0M405.3 244.9h0M387.8 241h0M396 239.3h0M388.6 237.6h0M381.7 247.3h0M380.8 253.6h0M381.1 251.6h0M394.3 250h0M385.5 257.7h0M407 248.2h0M391.3 251.1h0M382.2 255.6h0M389.8 257.8h0M393.5 243.5h0" stroke="#3a1e8a" stroke-width="1.7" stroke-linecap="round" fill="none"/>
<path d="M384.1 243.9h0M409.9 249.2h0M384 243.9h0M404 249.8h0M398 247.9h0M402.6 238.5h0M402.8 250.4h0M387 239.2h0M408.5 247.9h0M381.3 244.2h0M389.8 250.4h0M406.6 252.3h0M382.4 242.5h0M388.9 252.9h0M396.2 236.2h0M391.1 250.7h0M380.9 246.4h0M408.7 251.1h0M394.8 254.5h0M396.9 252.4h0M383.6 247.8h0M390.2 251.9h0M409.2 259h0M388.9 254.7h0M406 258.4h0M394.6 236.1h0M399.1 237.9h0M389.4 236.6h0M393.1 251.5h0M383.9 254.6h0M396.9 257.3h0M400.5 257.4h0M392.6 251.4h0M385.6 242h0M381.3 251.2h0M392.8 249.9h0M404.3 258.2h0M408.7 243.5h0M404.9 242.2h0M388.9 237.8h0M389.4 244.5h0M384.9 252.9h0M384.7 259.5h0M402.6 258h0M379.9 253.3h0M405.6 255.4h0M398.5 247.7h0M397.4 240.1h0M405.5 254.6h0M393.3 250.8h0M403.3 258.5h0" stroke="#2e2090" stroke-width="1.7" stroke-linecap="round" fill="none"/>
<path d="M431.3 302.5h0M415.8 299.3h0M422.7 287.3h0M428.5 296.9h0M415.5 308.5h0M421.7 291.5h0M422.7 289.6h0M417.7 306.6h0M419.6 289.5h0M419 301.9h0M416.8 315.1h0M415 309.2h0M428.8 305.2h0M431.4 293.9h0M416.2 278.2h0M413.9 313h0M423.8 312.4h0M421.2 276.2h0M427.4 295.4h0M416.3 312.6h0M429.1 297.2h0M425.3 279.7h0M425.1 284.9h0M418.5 283.2h0M428.9 303.7h0M423.7 315.4h0M422.2 293.8h0M417.8 302.8h0M425.8 274.2h0M417.3 275.1h0M421.6 302.9h0M422.3 276h0M418.7 293.7h0M425.2 274h0M425.1 303.1h0M425.1 292.1h0M420.1 307.3h0M420.4 291.1h0M416.7 316.7h0M420.4 286.2h0M427.2 302.3h0M420.3 300.2h0M425.8 292.2h0M419 288.9h0M422.3 283.1h0M424.9 291.9h0M415 302.1h0M422.6 310.3h0M427 294.9h0M424.5 297.5h0M430 293.8h0M424.8 305.2h0M431.5 310.6h0M425.7 296.9h0" stroke="#9a30b8" stroke-width="1.7" stroke-linecap="round" fill="none"/>
<path d="M424.2 296.4h0M411.9 308.1h0M423.6 292.1h0M415.3 305.1h0M421.3 296.6h0M417.4 276.1h0M429.5 293.6h0M424.6 312.3h0M416.2 306.7h0M422.1 317.4h0M422.4 296.9h0M429.9 304.2h0M431.5 298h0M424.6 300.5h0M428.5 295.8h0M425.7 274.8h0M421.4 305.2h0M429.7 293.4h0M422.8 281.7h0M411.7 301.3h0M420.6 303.8h0M423.3 315.1h0M426.8 299.6h0M431.7 297.2h0M413.5 312.6h0M432.9 300.7h0M423.8 279.7h0M431.7 307.9h0M411.8 312.7h0M431.7 294.6h0M416.4 308.1h0M421.7 312.7h0M422.5 279.8h0M431.8 302.4h0M427.8 283.8h0M428.2 311.3h0M421.8 297.2h0M411.3 311.6h0M424.6 296.3h0M425.7 274.6h0M423.5 306.5h0M416.7 296.2h0M413.3 313.4h0M411.1 302.2h0M423.2 287.9h0M421 297.7h0M420.3 275.1h0M425.9 287.4h0M423.9 283.1h0M423.8 313.1h0M416.6 310.9h0M423.4 291.2h0M422.1 273.1h0M425.7 300.4h0M416.3 314.6h0M418.1 310.5h0M426.3 311.3h0M429.3 292.8h0M412.3 311.4h0M415.4 277.4h0" stroke="#7a1ec0" stroke-width="1.7" stroke-linecap="round" fill="none"/>
<path d="M423.6 299.9h0M427 305.8h0M426.1 294.8h0M418.4 295h0M422.8 298.9h0M418.9 284.2h0M416.3 315.2h0M424 293.1h0M421.3 277.8h0M427.2 296.8h0M424.7 275.6h0M425.3 317.5h0M413 309h0M413.1 300.3h0M418.6 317.3h0M428.4 295h0M426.3 287.2h0M424 276h0M425.7 295h0M430.1 299.9h0M425.8 302h0M421.8 274.9h0M426.9 279.3h0M427.2 282h0M419.2 297.5h0M425.6 300h0M430 297h0M418.7 274.7h0M431 303.9h0M418.6 303.9h0M422.8 294.9h0M416.2 281.7h0M418.6 274.6h0M416.6 315.7h0M419.3 291.4h0M428.7 302.1h0M427.2 297.3h0M429.8 309.7h0M421 316.9h0M421.5 277.8h0M429.2 291.7h0M419.7 296h0M426.1 290.8h0M427 285h0M415.9 279.8h0M425.3 275.2h0M431 300.6h0M423.2 284.2h0M412.9 312.8h0M423.3 286.6h0M415.6 301.4h0M431.2 298.8h0M418.3 284.7h0M422.5 271.6h0M414.2 304.1h0M426.4 290.1h0M428.3 299.8h0M419.5 309.2h0" stroke="#6a18b0" stroke-width="1.7" stroke-linecap="round" fill="none"/>
<path d="M420.2 296.9h0M427.2 301.6h0M421.6 274.4h0M423.4 317.6h0M421.8 309.2h0M423.8 317.2h0M425.4 299.5h0M411.6 306.8h0M421.9 273.4h0M432.9 299.5h0M417.4 311h0M419.3 292.6h0M422.4 308.7h0M428 291.3h0M420.7 286.7h0M428.3 293.7h0M425 312.2h0M412.7 309.1h0M423.9 282.5h0M423.6 312.1h0M424 286.4h0M417.5 299.8h0M421.3 295.8h0M414.7 300.9h0M432.3 307.6h0M413.9 304.9h0M425.5 309.7h0M418 278.2h0M421.1 273.2h0M423 315.9h0M427 293.1h0M426.9 300.8h0M426.7 277.2h0M417.4 311.9h0M423.6 295.5h0M427 294.6h0M413.8 312h0M416.8 309.6h0M426.1 287.4h0M422 316.9h0M428.3 288.5h0M432.8 302h0M413.8 307.5h0M417.8 312.2h0M418.6 289.6h0M430.5 296.6h0M426.2 288.5h0M422.8 284.5h0M413.5 303.7h0M429.4 303.4h0M428.6 312.5h0M426.5 295.4h0M420.2 278h0M417.1 298.7h0M417.3 309.5h0M423.6 271.8h0M415.3 304.7h0M428.1 303.5h0" stroke="#8a28c0" stroke-width="1.7" stroke-linecap="round" fill="none"/>
<path d="M391.2 322.4h0M384.9 324.6h0M396.1 320.4h0M398.3 316.8h0M393.3 318.7h0M390.2 322h0M397.1 318.9h0M387.4 323.3h0M387.1 323.7h0M384.8 323h0M390.7 319.2h0M382.7 323h0M391.9 322h0M382.5 324.1h0M388.5 323.9h0" stroke="#b02890" stroke-width="1.1" stroke-linecap="round" fill="none"/>
<path d="M384.6 324.6h0M391.1 317.2h0M395 319.4h0M395 321.8h0M395.2 317.2h0M382.1 324.8h0M388.9 318.8h0M380.3 324.5h0M385.8 321h0M396.9 318.2h0M396.8 321.6h0M389.8 318.4h0M392.2 317.1h0M388 320.7h0M394.1 321.8h0" stroke="#c03080" stroke-width="1.1" stroke-linecap="round" fill="none"/>
<polyline points="384,250.6 392.8,247.7 401.5,248 404.1,252.4 412,262.9 418.2,271.7 422.2,277.8 422.5,295.3 426.9,305.8 422.5,311.1 413.8,311.9 401.5,319.8 387.5,325.9 380,326.6 372.4,326.6 369.5,311.3 357.1,311.3 355.6,296.7 344,292.3 336.7,281.4 329.4,276.3 328.7,262.4 319.9,265.3" fill="none" stroke="#333" stroke-width="1.1" stroke-linejoin="round" stroke-linecap="round"/>
<polyline points="392.8,247.7 393.6,240.1" fill="none" stroke="#333" stroke-width="1.1" stroke-linejoin="round" stroke-linecap="round"/>
<polyline points="355.6,296.7 361.5,286.5" fill="none" stroke="#333" stroke-width="1.1" stroke-linejoin="round" stroke-linecap="round"/>
<polyline points="336.7,281.4 338.9,271.9 346.9,270.4" fill="none" stroke="#333" stroke-width="1.1" stroke-linejoin="round" stroke-linecap="round"/>
<polyline points="329.4,276.3 322.8,287.2 315.5,292.3 307.5,291.6 305.3,301.8" fill="none" stroke="#333" stroke-width="1.1" stroke-linejoin="round" stroke-linecap="round"/>
<polyline points="344,292.3 340.3,304 333,304.7 327.2,314.2 325,319.3 317.7,317.1 311.1,325.1 302.4,322.2" fill="none" stroke="#333" stroke-width="1.1" stroke-linejoin="round" stroke-linecap="round"/>
<polyline points="325,319.3 332.3,327.3 326.5,338.2 333.8,341.9 339.6,342.6 349.8,331.7" fill="none" stroke="#333" stroke-width="1.1" stroke-linejoin="round" stroke-linecap="round"/>
<line x1="286.2" y1="361.5" x2="286.2" y2="333" stroke="#222" stroke-width="0.5"/>
<line x1="286.2" y1="361.5" x2="323" y2="361.5" stroke="#222" stroke-width="0.5"/>
<path d="M285,334.5 L286.2,332 L287.4,334.5" fill="#222" stroke="none" stroke-width="0.6"/>
<path d="M321.5,360.3 L324,361.5 L321.5,362.7" fill="#222" stroke="none" stroke-width="0.6"/>
<text x="295" y="368.5" font-size="5.3" text-anchor="start" fill="#222">UMAP1</text>
<text x="282.5" y="347" font-size="5.3" text-anchor="middle" fill="#222" transform="rotate(-90 282.5 347)">UMAP2</text>
<text x="481" y="206" font-size="15" text-anchor="start" fill="#000" font-weight="bold">f</text>
<defs><linearGradient id="hf0" x1="0" x2="1" y1="0" y2="0"><stop offset="0" stop-color="#7b5cb8"/><stop offset="0.04" stop-color="#7b5cb8"/><stop offset="0.08" stop-color="#7b5cb8"/><stop offset="0.12" stop-color="#5088c0"/><stop offset="0.17" stop-color="#70c6bc"/><stop offset="0.21" stop-color="#a9e3b3"/><stop offset="0.25" stop-color="#d9f1b2"/><stop offset="0.29" stop-color="#f1f4b8"/><stop offset="0.33" stop-color="#f9ebb0"/><stop offset="0.38" stop-color="#fad999"/><stop offset="0.42" stop-color="#f9c787"/><stop offset="0.46" stop-color="#f9c080"/><stop offset="0.5" stop-color="#f9b77a"/><stop offset="0.54" stop-color="#f8af75"/><stop offset="0.58" stop-color="#f8ad74"/><stop offset="0.62" stop-color="#f8ae75"/><stop offset="0.67" stop-color="#f8b076"/><stop offset="0.71" stop-color="#f8b277"/><stop offset="0.75" stop-color="#f8b478"/><stop offset="0.79" stop-color="#f8b378"/><stop offset="0.83" stop-color="#f8b177"/><stop offset="0.88" stop-color="#f8af75"/><stop offset="0.92" stop-color="#f7a470"/><stop offset="0.96" stop-color="#f28966"/><stop offset="1" stop-color="#e86e62"/></linearGradient><linearGradient id="hf1" x1="0" x2="1" y1="0" y2="0"><stop offset="0" stop-color="#7562ba"/><stop offset="0.04" stop-color="#7463ba"/><stop offset="0.08" stop-color="#7463ba"/><stop offset="0.12" stop-color="#4e8ac0"/><stop offset="0.17" stop-color="#75cabb"/><stop offset="0.21" stop-color="#abe5b2"/><stop offset="0.25" stop-color="#d5f0b2"/><stop offset="0.29" stop-color="#edf4b6"/><stop offset="0.33" stop-color="#f8f2ba"/><stop offset="0.38" stop-color="#f9e3a6"/><stop offset="0.42" stop-color="#fad494"/><stop offset="0.46" stop-color="#facc8c"/><stop offset="0.5" stop-color="#f9c484"/><stop offset="0.54" stop-color="#f9ba7b"/><stop offset="0.58" stop-color="#f8b277"/><stop offset="0.62" stop-color="#f8ae75"/><stop offset="0.67" stop-color="#f7aa73"/><stop offset="0.71" stop-color="#f7a772"/><stop offset="0.75" stop-color="#f7a671"/><stop offset="0.79" stop-color="#f7a972"/><stop offset="0.83" stop-color="#f8ad75"/><stop offset="0.88" stop-color="#f8b478"/><stop offset="0.92" stop-color="#f9bb7b"/><stop offset="0.96" stop-color="#f9c282"/><stop offset="1" stop-color="#f9c888"/></linearGradient><linearGradient id="hf2" x1="0" x2="1" y1="0" y2="0"><stop offset="0" stop-color="#7b5cb8"/><stop offset="0.04" stop-color="#7b5cb8"/><stop offset="0.08" stop-color="#7b5cb8"/><stop offset="0.12" stop-color="#4d8cc0"/><stop offset="0.17" stop-color="#7ccdba"/><stop offset="0.21" stop-color="#b5e8b2"/><stop offset="0.25" stop-color="#e6f4b2"/><stop offset="0.29" stop-color="#f6f4bb"/><stop offset="0.33" stop-color="#f9e6aa"/><stop offset="0.38" stop-color="#fad595"/><stop offset="0.42" stop-color="#f9c787"/><stop offset="0.46" stop-color="#f9c282"/><stop offset="0.5" stop-color="#f9bd7d"/><stop offset="0.54" stop-color="#f9b77a"/><stop offset="0.58" stop-color="#f9b77a"/><stop offset="0.62" stop-color="#f9b87a"/><stop offset="0.67" stop-color="#f9b87a"/><stop offset="0.71" stop-color="#f9b77a"/><stop offset="0.75" stop-color="#f8b679"/><stop offset="0.79" stop-color="#f9b679"/><stop offset="0.83" stop-color="#f9b779"/><stop offset="0.88" stop-color="#f9b77a"/><stop offset="0.92" stop-color="#f9b97a"/><stop offset="0.96" stop-color="#f9bc7c"/><stop offset="1" stop-color="#f9bf7f"/></linearGradient><linearGradient id="hf3" x1="0" x2="1" y1="0" y2="0"><stop offset="0" stop-color="#7b5cb8"/><stop offset="0.04" stop-color="#7b5cb8"/><stop offset="0.08" stop-color="#7b5cb8"/><stop offset="0.12" stop-color="#5087c0"/><stop offset="0.17" stop-color="#71c6bc"/><stop offset="0.21" stop-color="#aae4b3"/><stop offset="0.25" stop-color="#d9f1b2"/><stop offset="0.29" stop-color="#f1f4b8"/><stop offset="0.33" stop-color="#f9ecb1"/><stop offset="0.38" stop-color="#fadc9c"/><stop offset="0.42" stop-color="#f9ca8a"/><stop offset="0.46" stop-color="#f9c383"/><stop offset="0.5" stop-color="#f9bc7c"/><stop offset="0.54" stop-color="#f8b478"/><stop offset="0.58" stop-color="#f8b176"/><stop offset="0.62" stop-color="#f8b177"/><stop offset="0.67" stop-color="#f8b177"/><stop offset="0.71" stop-color="#f8b277"/><stop offset="0.75" stop-color="#f8b277"/><stop offset="0.79" stop-color="#f8b578"/><stop offset="0.83" stop-color="#f9b87a"/><stop offset="0.88" stop-color="#f9bb7b"/><stop offset="0.92" stop-color="#f9be7e"/><stop offset="0.96" stop-color="#f9c181"/><stop offset="1" stop-color="#f9c484"/></linearGradient><linearGradient id="hf4" x1="0" x2="1" y1="0" y2="0"><stop offset="0" stop-color="#795eb9"/><stop offset="0.04" stop-color="#785fb9"/><stop offset="0.08" stop-color="#785fb9"/><stop offset="0.12" stop-color="#4b90c0"/><stop offset="0.17" stop-color="#7fceba"/><stop offset="0.21" stop-color="#b4e7b2"/><stop offset="0.25" stop-color="#e1f3b2"/><stop offset="0.29" stop-color="#f2f4b9"/><stop offset="0.33" stop-color="#f9ecb1"/><stop offset="0.38" stop-color="#fadc9c"/><stop offset="0.42" stop-color="#facd8d"/><stop offset="0.46" stop-color="#f9c686"/><stop offset="0.5" stop-color="#f9bf7f"/><stop offset="0.54" stop-color="#f8b679"/><stop offset="0.58" stop-color="#f8b377"/><stop offset="0.62" stop-color="#f8b176"/><stop offset="0.67" stop-color="#f8af76"/><stop offset="0.71" stop-color="#f8ae75"/><stop offset="0.75" stop-color="#f8ad75"/><stop offset="0.79" stop-color="#f8b076"/><stop offset="0.83" stop-color="#f8b378"/><stop offset="0.88" stop-color="#f9b77a"/><stop offset="0.92" stop-color="#f9bc7c"/><stop offset="0.96" stop-color="#f9c181"/><stop offset="1" stop-color="#f9c686"/></linearGradient><linearGradient id="hf5" x1="0" x2="1" y1="0" y2="0"><stop offset="0" stop-color="#785fb9"/><stop offset="0.04" stop-color="#785fb9"/><stop offset="0.08" stop-color="#7166ba"/><stop offset="0.12" stop-color="#519abf"/><stop offset="0.17" stop-color="#86d2b9"/><stop offset="0.21" stop-color="#b8e8b2"/><stop offset="0.25" stop-color="#e5f4b2"/><stop offset="0.29" stop-color="#f3f4b9"/><stop offset="0.33" stop-color="#f9eaae"/><stop offset="0.38" stop-color="#fad898"/><stop offset="0.42" stop-color="#f9cb8b"/><stop offset="0.46" stop-color="#f9c383"/><stop offset="0.5" stop-color="#f9ba7b"/><stop offset="0.54" stop-color="#f8af76"/><stop offset="0.58" stop-color="#f8ae75"/><stop offset="0.62" stop-color="#f8ad74"/><stop offset="0.67" stop-color="#f8ac74"/><stop offset="0.71" stop-color="#f8ad74"/><stop offset="0.75" stop-color="#f8ae75"/><stop offset="0.79" stop-color="#f8b377"/><stop offset="0.83" stop-color="#f9b87a"/><stop offset="0.88" stop-color="#f9bc7c"/><stop offset="0.92" stop-color="#f9c181"/><stop offset="0.96" stop-color="#f9c585"/><stop offset="1" stop-color="#f9c888"/></linearGradient><linearGradient id="hf6" x1="0" x2="1" y1="0" y2="0"><stop offset="0" stop-color="#7b5cb8"/><stop offset="0.04" stop-color="#7b5cb8"/><stop offset="0.08" stop-color="#7067bb"/><stop offset="0.12" stop-color="#539cbf"/><stop offset="0.17" stop-color="#8bd5b8"/><stop offset="0.21" stop-color="#bdeab2"/><stop offset="0.25" stop-color="#e9f4b4"/><stop offset="0.29" stop-color="#f7f4bb"/><stop offset="0.33" stop-color="#f9e6a9"/><stop offset="0.38" stop-color="#fad494"/><stop offset="0.42" stop-color="#f9c888"/><stop offset="0.46" stop-color="#f9c181"/><stop offset="0.5" stop-color="#f9ba7b"/><stop offset="0.54" stop-color="#f8b277"/><stop offset="0.58" stop-color="#f8b277"/><stop offset="0.62" stop-color="#f8b277"/><stop offset="0.67" stop-color="#f8b277"/><stop offset="0.71" stop-color="#f8b277"/><stop offset="0.75" stop-color="#f8b277"/><stop offset="0.79" stop-color="#f8b578"/><stop offset="0.83" stop-color="#f9b87a"/><stop offset="0.88" stop-color="#f9ba7b"/><stop offset="0.92" stop-color="#f9be7e"/><stop offset="0.96" stop-color="#f9c181"/><stop offset="1" stop-color="#f9c484"/></linearGradient><linearGradient id="hf7" x1="0" x2="1" y1="0" y2="0"><stop offset="0" stop-color="#7760b9"/><stop offset="0.04" stop-color="#7661b9"/><stop offset="0.08" stop-color="#7562b9"/><stop offset="0.12" stop-color="#5285c0"/><stop offset="0.17" stop-color="#71c6bc"/><stop offset="0.21" stop-color="#a9e4b3"/><stop offset="0.25" stop-color="#d5f0b2"/><stop offset="0.29" stop-color="#eef4b7"/><stop offset="0.33" stop-color="#f8f1b8"/><stop offset="0.38" stop-color="#f9e2a5"/><stop offset="0.42" stop-color="#fad292"/><stop offset="0.46" stop-color="#f9cb8b"/><stop offset="0.5" stop-color="#f9c484"/><stop offset="0.54" stop-color="#f9bc7c"/><stop offset="0.58" stop-color="#f8b578"/><stop offset="0.62" stop-color="#f8b177"/><stop offset="0.67" stop-color="#f8ae75"/><stop offset="0.71" stop-color="#f8ab74"/><stop offset="0.75" stop-color="#f7a973"/><stop offset="0.79" stop-color="#f8ab73"/><stop offset="0.83" stop-color="#f8ae75"/><stop offset="0.88" stop-color="#f8b377"/><stop offset="0.92" stop-color="#f9b97a"/><stop offset="0.96" stop-color="#f9bf7f"/><stop offset="1" stop-color="#f9c585"/></linearGradient><linearGradient id="hf8" x1="0" x2="1" y1="0" y2="0"><stop offset="0" stop-color="#7b5cb8"/><stop offset="0.04" stop-color="#7b5cb8"/><stop offset="0.08" stop-color="#7661b9"/><stop offset="0.12" stop-color="#4e94c0"/><stop offset="0.17" stop-color="#84d1b9"/><stop offset="0.21" stop-color="#b9e9b2"/><stop offset="0.25" stop-color="#e7f4b2"/><stop offset="0.29" stop-color="#f5f4ba"/><stop offset="0.33" stop-color="#f9e7ab"/><stop offset="0.38" stop-color="#fad595"/><stop offset="0.42" stop-color="#f9c888"/><stop offset="0.46" stop-color="#f9c282"/><stop offset="0.5" stop-color="#f9bb7b"/><stop offset="0.54" stop-color="#f8b277"/><stop offset="0.58" stop-color="#f8b277"/><stop offset="0.62" stop-color="#f8b277"/><stop offset="0.67" stop-color="#f8b277"/><stop offset="0.71" stop-color="#f8b277"/><stop offset="0.75" stop-color="#f8b377"/><stop offset="0.79" stop-color="#f8b579"/><stop offset="0.83" stop-color="#f9b87a"/><stop offset="0.88" stop-color="#f9bb7b"/><stop offset="0.92" stop-color="#f9be7e"/><stop offset="0.96" stop-color="#f9c181"/><stop offset="1" stop-color="#f9c383"/></linearGradient><linearGradient id="hf9" x1="0" x2="1" y1="0" y2="0"><stop offset="0" stop-color="#7b5cb8"/><stop offset="0.04" stop-color="#7b5cb8"/><stop offset="0.08" stop-color="#795eb9"/><stop offset="0.12" stop-color="#4b91c0"/><stop offset="0.17" stop-color="#81d0b9"/><stop offset="0.21" stop-color="#b7e8b2"/><stop offset="0.25" stop-color="#e5f4b2"/><stop offset="0.29" stop-color="#f5f4ba"/><stop offset="0.33" stop-color="#f9e8ab"/><stop offset="0.38" stop-color="#fad292"/><stop offset="0.42" stop-color="#f9be7e"/><stop offset="0.46" stop-color="#f8af76"/><stop offset="0.5" stop-color="#f7a16e"/><stop offset="0.54" stop-color="#f7a06e"/><stop offset="0.58" stop-color="#f79e6d"/><stop offset="0.62" stop-color="#f69d6c"/><stop offset="0.67" stop-color="#f69d6d"/><stop offset="0.71" stop-color="#f7a16e"/><stop offset="0.75" stop-color="#f7a470"/><stop offset="0.79" stop-color="#f7a771"/><stop offset="0.83" stop-color="#f8aa73"/><stop offset="0.88" stop-color="#f8ac74"/><stop offset="0.92" stop-color="#f8ad75"/><stop offset="0.96" stop-color="#f8af75"/><stop offset="1" stop-color="#f8b176"/></linearGradient><linearGradient id="hf10" x1="0" x2="1" y1="0" y2="0"><stop offset="0" stop-color="#7b5cb8"/><stop offset="0.04" stop-color="#7b5cb8"/><stop offset="0.08" stop-color="#7b5cb8"/><stop offset="0.12" stop-color="#5285c0"/><stop offset="0.17" stop-color="#6ec3bc"/><stop offset="0.21" stop-color="#a8e3b3"/><stop offset="0.25" stop-color="#d9f1b2"/><stop offset="0.29" stop-color="#f2f4b9"/><stop offset="0.33" stop-color="#f9eaae"/><stop offset="0.38" stop-color="#fad393"/><stop offset="0.42" stop-color="#f9bb7c"/><stop offset="0.46" stop-color="#f8ab73"/><stop offset="0.5" stop-color="#f69b6c"/><stop offset="0.54" stop-color="#f6996b"/><stop offset="0.58" stop-color="#f69a6b"/><stop offset="0.62" stop-color="#f69b6c"/><stop offset="0.67" stop-color="#f69e6d"/><stop offset="0.71" stop-color="#f7a470"/><stop offset="0.75" stop-color="#f7a972"/><stop offset="0.79" stop-color="#f8ae75"/><stop offset="0.83" stop-color="#f8b177"/><stop offset="0.88" stop-color="#f8b377"/><stop offset="0.92" stop-color="#f8b377"/><stop offset="0.96" stop-color="#f8b277"/><stop offset="1" stop-color="#f8b176"/></linearGradient><linearGradient id="hf11" x1="0" x2="1" y1="0" y2="0"><stop offset="0" stop-color="#795eb8"/><stop offset="0.04" stop-color="#795eb8"/><stop offset="0.08" stop-color="#7a5db8"/><stop offset="0.12" stop-color="#4d8bc0"/><stop offset="0.17" stop-color="#77cabb"/><stop offset="0.21" stop-color="#aee6b2"/><stop offset="0.25" stop-color="#dcf1b2"/><stop offset="0.29" stop-color="#f1f4b8"/><stop offset="0.33" stop-color="#f9ecb2"/><stop offset="0.38" stop-color="#fad797"/><stop offset="0.42" stop-color="#f9c282"/><stop offset="0.46" stop-color="#f8b277"/><stop offset="0.5" stop-color="#f7a16f"/><stop offset="0.54" stop-color="#f69e6d"/><stop offset="0.58" stop-color="#f69b6c"/><stop offset="0.62" stop-color="#f6996b"/><stop offset="0.67" stop-color="#f6996b"/><stop offset="0.71" stop-color="#f69d6c"/><stop offset="0.75" stop-color="#f7a16e"/><stop offset="0.79" stop-color="#f7a571"/><stop offset="0.83" stop-color="#f7aa73"/><stop offset="0.88" stop-color="#f8ad75"/><stop offset="0.92" stop-color="#f8b076"/><stop offset="0.96" stop-color="#f8b277"/><stop offset="1" stop-color="#f8b478"/></linearGradient><linearGradient id="hf12" x1="0" x2="1" y1="0" y2="0"><stop offset="0" stop-color="#7a5db8"/><stop offset="0.04" stop-color="#7b5cb8"/><stop offset="0.08" stop-color="#7b5cb8"/><stop offset="0.12" stop-color="#4d8cc0"/><stop offset="0.17" stop-color="#77cbbb"/><stop offset="0.21" stop-color="#aee6b2"/><stop offset="0.25" stop-color="#ddf2b2"/><stop offset="0.29" stop-color="#f1f4b8"/><stop offset="0.33" stop-color="#f9ebb0"/><stop offset="0.38" stop-color="#fada9a"/><stop offset="0.42" stop-color="#f9c989"/><stop offset="0.46" stop-color="#f9c282"/><stop offset="0.5" stop-color="#f9b97b"/><stop offset="0.54" stop-color="#f8b076"/><stop offset="0.58" stop-color="#f8ac74"/><stop offset="0.62" stop-color="#f8aa73"/><stop offset="0.67" stop-color="#f7a973"/><stop offset="0.71" stop-color="#f7a872"/><stop offset="0.75" stop-color="#f7a772"/><stop offset="0.79" stop-color="#f7a36f"/><stop offset="0.83" stop-color="#f79e6d"/><stop offset="0.88" stop-color="#f6996b"/><stop offset="0.92" stop-color="#f59369"/><stop offset="0.96" stop-color="#f28a66"/><stop offset="1" stop-color="#f08164"/></linearGradient><linearGradient id="hf13" x1="0" x2="1" y1="0" y2="0"><stop offset="0" stop-color="#7b5cb8"/><stop offset="0.04" stop-color="#7b5cb8"/><stop offset="0.08" stop-color="#7364ba"/><stop offset="0.12" stop-color="#4d94c0"/><stop offset="0.17" stop-color="#84d1b9"/><stop offset="0.21" stop-color="#b8e8b2"/><stop offset="0.25" stop-color="#e7f4b3"/><stop offset="0.29" stop-color="#f7f4bb"/><stop offset="0.33" stop-color="#f9e4a6"/><stop offset="0.38" stop-color="#face8e"/><stop offset="0.42" stop-color="#f9c181"/><stop offset="0.46" stop-color="#f9b97a"/><stop offset="0.5" stop-color="#f8b176"/><stop offset="0.54" stop-color="#f7aa73"/><stop offset="0.58" stop-color="#f8aa73"/><stop offset="0.62" stop-color="#f8ab74"/><stop offset="0.67" stop-color="#f8ac74"/><stop offset="0.71" stop-color="#f8ae75"/><stop offset="0.75" stop-color="#f8ad75"/><stop offset="0.79" stop-color="#f7a972"/><stop offset="0.83" stop-color="#f7a470"/><stop offset="0.88" stop-color="#f69d6c"/><stop offset="0.92" stop-color="#f59369"/><stop offset="0.96" stop-color="#f18865"/><stop offset="1" stop-color="#ef7e63"/></linearGradient><linearGradient id="hf14" x1="0" x2="1" y1="0" y2="0"><stop offset="0" stop-color="#577fc0"/><stop offset="0.04" stop-color="#5681c0"/><stop offset="0.08" stop-color="#4b8ec0"/><stop offset="0.12" stop-color="#69bcbd"/><stop offset="0.17" stop-color="#88d3b8"/><stop offset="0.21" stop-color="#a7e2b3"/><stop offset="0.25" stop-color="#c4ecb2"/><stop offset="0.29" stop-color="#def2b2"/><stop offset="0.33" stop-color="#edf4b6"/><stop offset="0.38" stop-color="#f7f4bb"/><stop offset="0.42" stop-color="#f8efb5"/><stop offset="0.46" stop-color="#f9e9ad"/><stop offset="0.5" stop-color="#f9e3a6"/><stop offset="0.54" stop-color="#fade9e"/><stop offset="0.58" stop-color="#fad797"/><stop offset="0.62" stop-color="#fad090"/><stop offset="0.67" stop-color="#f9c989"/><stop offset="0.71" stop-color="#f9c181"/><stop offset="0.75" stop-color="#f9b679"/><stop offset="0.79" stop-color="#f8aa73"/><stop offset="0.83" stop-color="#f69d6d"/><stop offset="0.88" stop-color="#f49268"/><stop offset="0.92" stop-color="#f28a66"/><stop offset="0.96" stop-color="#f08364"/><stop offset="1" stop-color="#ee7c62"/></linearGradient><linearGradient id="hf15" x1="0" x2="1" y1="0" y2="0"><stop offset="0" stop-color="#5385c0"/><stop offset="0.04" stop-color="#4f89c0"/><stop offset="0.08" stop-color="#5fadbe"/><stop offset="0.12" stop-color="#7ccdba"/><stop offset="0.17" stop-color="#97dbb6"/><stop offset="0.21" stop-color="#b3e7b2"/><stop offset="0.25" stop-color="#cceeb2"/><stop offset="0.29" stop-color="#e4f3b2"/><stop offset="0.33" stop-color="#f0f4b8"/><stop offset="0.38" stop-color="#f7f4bb"/><stop offset="0.42" stop-color="#f9eeb3"/><stop offset="0.46" stop-color="#f9e6a9"/><stop offset="0.5" stop-color="#fadfa0"/><stop offset="0.54" stop-color="#fad696"/><stop offset="0.58" stop-color="#face8e"/><stop offset="0.62" stop-color="#f9c585"/><stop offset="0.67" stop-color="#f9bd7d"/><stop offset="0.71" stop-color="#f8b478"/><stop offset="0.75" stop-color="#f7aa73"/><stop offset="0.79" stop-color="#f7a06e"/><stop offset="0.83" stop-color="#f59669"/><stop offset="0.88" stop-color="#f49168"/><stop offset="0.92" stop-color="#f38c67"/><stop offset="0.96" stop-color="#f18765"/><stop offset="1" stop-color="#f08264"/></linearGradient><linearGradient id="hf16" x1="0" x2="1" y1="0" y2="0"><stop offset="0" stop-color="#5581c0"/><stop offset="0.04" stop-color="#5483c0"/><stop offset="0.08" stop-color="#529abf"/><stop offset="0.12" stop-color="#70c5bc"/><stop offset="0.17" stop-color="#8cd5b8"/><stop offset="0.21" stop-color="#aae4b3"/><stop offset="0.25" stop-color="#c6ecb2"/><stop offset="0.29" stop-color="#e0f2b2"/><stop offset="0.33" stop-color="#eff4b7"/><stop offset="0.38" stop-color="#f8f4bc"/><stop offset="0.42" stop-color="#f9edb2"/><stop offset="0.46" stop-color="#f9e6a9"/><stop offset="0.5" stop-color="#fadfa0"/><stop offset="0.54" stop-color="#fad898"/><stop offset="0.58" stop-color="#fad090"/><stop offset="0.62" stop-color="#f9ca8a"/><stop offset="0.67" stop-color="#f9c383"/><stop offset="0.71" stop-color="#f9bc7c"/><stop offset="0.75" stop-color="#f8b277"/><stop offset="0.79" stop-color="#f7a872"/><stop offset="0.83" stop-color="#f69d6c"/><stop offset="0.88" stop-color="#f59569"/><stop offset="0.92" stop-color="#f38e67"/><stop offset="0.96" stop-color="#f18765"/><stop offset="1" stop-color="#ef7f63"/></linearGradient><linearGradient id="hf17" x1="0" x2="1" y1="0" y2="0"><stop offset="0" stop-color="#7660b9"/><stop offset="0.04" stop-color="#7562ba"/><stop offset="0.08" stop-color="#6a6cbc"/><stop offset="0.12" stop-color="#549ebf"/><stop offset="0.17" stop-color="#86d2b9"/><stop offset="0.21" stop-color="#b5e8b2"/><stop offset="0.25" stop-color="#def2b2"/><stop offset="0.29" stop-color="#ecf4b5"/><stop offset="0.33" stop-color="#f0f4b7"/><stop offset="0.38" stop-color="#f4f4ba"/><stop offset="0.42" stop-color="#f8f3ba"/><stop offset="0.46" stop-color="#f9ecb2"/><stop offset="0.5" stop-color="#f9e5a8"/><stop offset="0.54" stop-color="#fade9f"/><stop offset="0.58" stop-color="#fad595"/><stop offset="0.62" stop-color="#f9c989"/><stop offset="0.67" stop-color="#f9bc7c"/><stop offset="0.71" stop-color="#f8ad75"/><stop offset="0.75" stop-color="#f69a6b"/><stop offset="0.79" stop-color="#f18765"/><stop offset="0.83" stop-color="#ec7560"/><stop offset="0.88" stop-color="#e56b62"/><stop offset="0.92" stop-color="#df6465"/><stop offset="0.96" stop-color="#d95c67"/><stop offset="1" stop-color="#d45569"/></linearGradient><linearGradient id="hf18" x1="0" x2="1" y1="0" y2="0"><stop offset="0" stop-color="#7562b9"/><stop offset="0.04" stop-color="#7661b9"/><stop offset="0.08" stop-color="#7760b9"/><stop offset="0.12" stop-color="#4f89c0"/><stop offset="0.17" stop-color="#6dc0bd"/><stop offset="0.21" stop-color="#9ddeb5"/><stop offset="0.25" stop-color="#c9edb2"/><stop offset="0.29" stop-color="#e7f4b2"/><stop offset="0.33" stop-color="#ecf4b6"/><stop offset="0.38" stop-color="#f3f4b9"/><stop offset="0.42" stop-color="#f8f2b9"/><stop offset="0.46" stop-color="#f9eaae"/><stop offset="0.5" stop-color="#fae1a3"/><stop offset="0.54" stop-color="#fad898"/><stop offset="0.58" stop-color="#facf8f"/><stop offset="0.62" stop-color="#f9c585"/><stop offset="0.67" stop-color="#f9ba7b"/><stop offset="0.71" stop-color="#f8af75"/><stop offset="0.75" stop-color="#f7a16f"/><stop offset="0.79" stop-color="#f49268"/><stop offset="0.83" stop-color="#f08364"/><stop offset="0.88" stop-color="#ed7761"/><stop offset="0.92" stop-color="#e86f61"/><stop offset="0.96" stop-color="#e16664"/><stop offset="1" stop-color="#d95c67"/></linearGradient><linearGradient id="hf19" x1="0" x2="1" y1="0" y2="0"><stop offset="0" stop-color="#7a5db8"/><stop offset="0.04" stop-color="#7760b9"/><stop offset="0.08" stop-color="#7463ba"/><stop offset="0.12" stop-color="#4a8fc0"/><stop offset="0.17" stop-color="#7ccdba"/><stop offset="0.21" stop-color="#b1e7b2"/><stop offset="0.25" stop-color="#dbf1b2"/><stop offset="0.29" stop-color="#eef4b7"/><stop offset="0.33" stop-color="#f2f4b8"/><stop offset="0.38" stop-color="#f5f4ba"/><stop offset="0.42" stop-color="#f8f4bc"/><stop offset="0.46" stop-color="#f8efb6"/><stop offset="0.5" stop-color="#f9eaaf"/><stop offset="0.54" stop-color="#f9e4a6"/><stop offset="0.58" stop-color="#fadd9d"/><stop offset="0.62" stop-color="#fad292"/><stop offset="0.67" stop-color="#f9c585"/><stop offset="0.71" stop-color="#f8b679"/><stop offset="0.75" stop-color="#f7a26f"/><stop offset="0.79" stop-color="#f38c67"/><stop offset="0.83" stop-color="#ed7761"/><stop offset="0.88" stop-color="#e36863"/><stop offset="0.92" stop-color="#dc5f66"/><stop offset="0.96" stop-color="#d65768"/><stop offset="1" stop-color="#cf506a"/></linearGradient><linearGradient id="hf20" x1="0" x2="1" y1="0" y2="0"><stop offset="0" stop-color="#785fb9"/><stop offset="0.04" stop-color="#7661b9"/><stop offset="0.08" stop-color="#7562ba"/><stop offset="0.12" stop-color="#4e8ac0"/><stop offset="0.17" stop-color="#72c8bc"/><stop offset="0.21" stop-color="#a7e2b3"/><stop offset="0.25" stop-color="#d1efb2"/><stop offset="0.29" stop-color="#ebf4b5"/><stop offset="0.33" stop-color="#eff4b7"/><stop offset="0.38" stop-color="#f3f4b9"/><stop offset="0.42" stop-color="#f8f4bc"/><stop offset="0.46" stop-color="#f9eeb4"/><stop offset="0.5" stop-color="#f9e7ab"/><stop offset="0.54" stop-color="#fae0a2"/><stop offset="0.58" stop-color="#fad898"/><stop offset="0.62" stop-color="#face8e"/><stop offset="0.67" stop-color="#f9c181"/><stop offset="0.71" stop-color="#f8b378"/><stop offset="0.75" stop-color="#f7a26f"/><stop offset="0.79" stop-color="#f38f67"/><stop offset="0.83" stop-color="#ee7c62"/><stop offset="0.88" stop-color="#e76e62"/><stop offset="0.92" stop-color="#e16664"/><stop offset="0.96" stop-color="#db5e66"/><stop offset="1" stop-color="#d45569"/></linearGradient><linearGradient id="hf21" x1="0" x2="1" y1="0" y2="0"><stop offset="0" stop-color="#7562b9"/><stop offset="0.04" stop-color="#7562b9"/><stop offset="0.08" stop-color="#696dbc"/><stop offset="0.12" stop-color="#529bbf"/><stop offset="0.17" stop-color="#82d0b9"/><stop offset="0.21" stop-color="#afe6b2"/><stop offset="0.25" stop-color="#d9f1b2"/><stop offset="0.29" stop-color="#e9f4b4"/><stop offset="0.33" stop-color="#eff4b7"/><stop offset="0.38" stop-color="#f4f4ba"/><stop offset="0.42" stop-color="#f8f1b8"/><stop offset="0.46" stop-color="#f9e9ad"/><stop offset="0.5" stop-color="#fae1a2"/><stop offset="0.54" stop-color="#fad898"/><stop offset="0.58" stop-color="#facf8f"/><stop offset="0.62" stop-color="#f9c383"/><stop offset="0.67" stop-color="#f9b87a"/><stop offset="0.71" stop-color="#f8ab74"/><stop offset="0.75" stop-color="#f69b6b"/><stop offset="0.79" stop-color="#f28b66"/><stop offset="0.83" stop-color="#ee7b62"/><stop offset="0.88" stop-color="#ea7161"/><stop offset="0.92" stop-color="#e46a63"/><stop offset="0.96" stop-color="#dd6165"/><stop offset="1" stop-color="#d75968"/></linearGradient><linearGradient id="hf22" x1="0" x2="1" y1="0" y2="0"><stop offset="0" stop-color="#7b5cb8"/><stop offset="0.04" stop-color="#795eb8"/><stop offset="0.08" stop-color="#7760b9"/><stop offset="0.12" stop-color="#4e8ac0"/><stop offset="0.17" stop-color="#74c9bc"/><stop offset="0.21" stop-color="#aae4b3"/><stop offset="0.25" stop-color="#d6f0b2"/><stop offset="0.29" stop-color="#edf4b6"/><stop offset="0.33" stop-color="#f2f4b8"/><stop offset="0.38" stop-color="#f6f4bb"/><stop offset="0.42" stop-color="#f8f1b8"/><stop offset="0.46" stop-color="#f9ecb1"/><stop offset="0.5" stop-color="#f9e6aa"/><stop offset="0.54" stop-color="#fae1a2"/><stop offset="0.58" stop-color="#fada9a"/><stop offset="0.62" stop-color="#fad090"/><stop offset="0.67" stop-color="#f9c585"/><stop offset="0.71" stop-color="#f9b87a"/><stop offset="0.75" stop-color="#f7a671"/><stop offset="0.79" stop-color="#f49168"/><stop offset="0.83" stop-color="#ef7d63"/><stop offset="0.88" stop-color="#e76e62"/><stop offset="0.92" stop-color="#df6464"/><stop offset="0.96" stop-color="#d85a67"/><stop offset="1" stop-color="#d1516a"/></linearGradient><linearGradient id="hf23" x1="0" x2="1" y1="0" y2="0"><stop offset="0" stop-color="#7b5cb8"/><stop offset="0.04" stop-color="#7b5cb8"/><stop offset="0.08" stop-color="#7b5cb8"/><stop offset="0.12" stop-color="#5a7cc0"/><stop offset="0.17" stop-color="#64b4bd"/><stop offset="0.21" stop-color="#9cddb5"/><stop offset="0.25" stop-color="#cdeeb2"/><stop offset="0.29" stop-color="#eef4b7"/><stop offset="0.33" stop-color="#f4f4ba"/><stop offset="0.38" stop-color="#f8f1b9"/><stop offset="0.42" stop-color="#f9ecb1"/><stop offset="0.46" stop-color="#f9e7aa"/><stop offset="0.5" stop-color="#f9e2a4"/><stop offset="0.54" stop-color="#fade9f"/><stop offset="0.58" stop-color="#fada9a"/><stop offset="0.62" stop-color="#fad494"/><stop offset="0.67" stop-color="#f9cb8b"/><stop offset="0.71" stop-color="#f9c282"/><stop offset="0.75" stop-color="#f8b478"/><stop offset="0.79" stop-color="#f7a06e"/><stop offset="0.83" stop-color="#f28b66"/><stop offset="0.88" stop-color="#ed7661"/><stop offset="0.92" stop-color="#e36963"/><stop offset="0.96" stop-color="#d95c67"/><stop offset="1" stop-color="#ce4f6a"/></linearGradient><linearGradient id="hf24" x1="0" x2="1" y1="0" y2="0"><stop offset="0" stop-color="#6670bd"/><stop offset="0.04" stop-color="#6176be"/><stop offset="0.08" stop-color="#4f8ac0"/><stop offset="0.12" stop-color="#68b9bd"/><stop offset="0.17" stop-color="#9fdfb4"/><stop offset="0.21" stop-color="#c2ebb2"/><stop offset="0.25" stop-color="#e0f2b2"/><stop offset="0.29" stop-color="#e9f4b4"/><stop offset="0.33" stop-color="#ecf4b5"/><stop offset="0.38" stop-color="#f0f4b7"/><stop offset="0.42" stop-color="#f3f4b9"/><stop offset="0.46" stop-color="#f7f4bb"/><stop offset="0.5" stop-color="#f8f1b8"/><stop offset="0.54" stop-color="#f9edb3"/><stop offset="0.58" stop-color="#f9eaae"/><stop offset="0.62" stop-color="#f9e6aa"/><stop offset="0.67" stop-color="#f9e3a6"/><stop offset="0.71" stop-color="#fad292"/><stop offset="0.75" stop-color="#f9c080"/><stop offset="0.79" stop-color="#f7a26f"/><stop offset="0.83" stop-color="#ef8063"/><stop offset="0.88" stop-color="#de6265"/><stop offset="0.92" stop-color="#c54c67"/><stop offset="0.96" stop-color="#ae4362"/><stop offset="1" stop-color="#ab4261"/></linearGradient><linearGradient id="hf25" x1="0" x2="1" y1="0" y2="0"><stop offset="0" stop-color="#6b6bbc"/><stop offset="0.04" stop-color="#6274be"/><stop offset="0.08" stop-color="#4c8dc0"/><stop offset="0.12" stop-color="#70c6bc"/><stop offset="0.17" stop-color="#b0e6b2"/><stop offset="0.21" stop-color="#d3efb2"/><stop offset="0.25" stop-color="#ebf4b5"/><stop offset="0.29" stop-color="#f0f4b7"/><stop offset="0.33" stop-color="#f1f4b8"/><stop offset="0.38" stop-color="#f2f4b9"/><stop offset="0.42" stop-color="#f3f4b9"/><stop offset="0.46" stop-color="#f4f4ba"/><stop offset="0.5" stop-color="#f5f4bb"/><stop offset="0.54" stop-color="#f7f4bc"/><stop offset="0.58" stop-color="#f8f2b9"/><stop offset="0.62" stop-color="#f8eeb4"/><stop offset="0.67" stop-color="#f9e9ad"/><stop offset="0.71" stop-color="#fad696"/><stop offset="0.75" stop-color="#f9c080"/><stop offset="0.79" stop-color="#f69c6c"/><stop offset="0.83" stop-color="#ed7661"/><stop offset="0.88" stop-color="#d55668"/><stop offset="0.92" stop-color="#b44563"/><stop offset="0.96" stop-color="#9e3d5e"/><stop offset="1" stop-color="#9d3d5e"/></linearGradient><linearGradient id="hf26" x1="0" x2="1" y1="0" y2="0"><stop offset="0" stop-color="#6770bd"/><stop offset="0.04" stop-color="#597dc0"/><stop offset="0.08" stop-color="#56a0bf"/><stop offset="0.12" stop-color="#86d2b9"/><stop offset="0.17" stop-color="#bbe9b2"/><stop offset="0.21" stop-color="#d8f0b2"/><stop offset="0.25" stop-color="#ebf4b5"/><stop offset="0.29" stop-color="#edf4b6"/><stop offset="0.33" stop-color="#eff4b7"/><stop offset="0.38" stop-color="#f1f4b8"/><stop offset="0.42" stop-color="#f3f4b9"/><stop offset="0.46" stop-color="#f6f4bb"/><stop offset="0.5" stop-color="#f8f4bb"/><stop offset="0.54" stop-color="#f8f0b7"/><stop offset="0.58" stop-color="#f9ecb2"/><stop offset="0.62" stop-color="#f9e9ad"/><stop offset="0.67" stop-color="#fadf9f"/><stop offset="0.71" stop-color="#f9ca8a"/><stop offset="0.75" stop-color="#f8b377"/><stop offset="0.79" stop-color="#f38e67"/><stop offset="0.83" stop-color="#e56c62"/><stop offset="0.88" stop-color="#cf506a"/><stop offset="0.92" stop-color="#ad4362"/><stop offset="0.96" stop-color="#a54060"/><stop offset="1" stop-color="#a54060"/></linearGradient><linearGradient id="hf27" x1="0" x2="1" y1="0" y2="0"><stop offset="0" stop-color="#676fbd"/><stop offset="0.04" stop-color="#5b7bc0"/><stop offset="0.08" stop-color="#529abf"/><stop offset="0.12" stop-color="#7fcfba"/><stop offset="0.17" stop-color="#b5e8b2"/><stop offset="0.21" stop-color="#d2efb2"/><stop offset="0.25" stop-color="#eaf4b4"/><stop offset="0.29" stop-color="#ecf4b5"/><stop offset="0.33" stop-color="#eff4b7"/><stop offset="0.38" stop-color="#f2f4b9"/><stop offset="0.42" stop-color="#f5f4ba"/><stop offset="0.46" stop-color="#f8f4bc"/><stop offset="0.5" stop-color="#f8f1b7"/><stop offset="0.54" stop-color="#f9edb3"/><stop offset="0.58" stop-color="#f9eaaf"/><stop offset="0.62" stop-color="#f9e7ab"/><stop offset="0.67" stop-color="#fadf9f"/><stop offset="0.71" stop-color="#f9cc8c"/><stop offset="0.75" stop-color="#f9b679"/><stop offset="0.79" stop-color="#f59369"/><stop offset="0.83" stop-color="#e97061"/><stop offset="0.88" stop-color="#d35469"/><stop offset="0.92" stop-color="#b34563"/><stop offset="0.96" stop-color="#a84160"/><stop offset="1" stop-color="#a64060"/></linearGradient><linearGradient id="hf28" x1="0" x2="1" y1="0" y2="0"><stop offset="0" stop-color="#6a6dbc"/><stop offset="0.04" stop-color="#5a7cc0"/><stop offset="0.08" stop-color="#57a1bf"/><stop offset="0.12" stop-color="#8cd5b8"/><stop offset="0.17" stop-color="#c0ebb2"/><stop offset="0.21" stop-color="#e0f2b2"/><stop offset="0.25" stop-color="#eff4b7"/><stop offset="0.29" stop-color="#f1f4b8"/><stop offset="0.33" stop-color="#f2f4b9"/><stop offset="0.38" stop-color="#f4f4ba"/><stop offset="0.42" stop-color="#f5f4ba"/><stop offset="0.46" stop-color="#f7f4bb"/><stop offset="0.5" stop-color="#f8f4bc"/><stop offset="0.54" stop-color="#f8f2b9"/><stop offset="0.58" stop-color="#f8efb6"/><stop offset="0.62" stop-color="#f9ecb2"/><stop offset="0.67" stop-color="#fae1a3"/><stop offset="0.71" stop-color="#facd8d"/><stop offset="0.75" stop-color="#f8b478"/><stop offset="0.79" stop-color="#f38d67"/><stop offset="0.83" stop-color="#e36863"/><stop offset="0.88" stop-color="#c94d68"/><stop offset="0.92" stop-color="#a43f5f"/><stop offset="0.96" stop-color="#9d3d5e"/><stop offset="1" stop-color="#9d3c5e"/></linearGradient><linearGradient id="hf29" x1="0" x2="1" y1="0" y2="0"><stop offset="0" stop-color="#7b5cb8"/><stop offset="0.04" stop-color="#7b5cb8"/><stop offset="0.08" stop-color="#7067bb"/><stop offset="0.12" stop-color="#4d94c0"/><stop offset="0.17" stop-color="#8ad4b8"/><stop offset="0.21" stop-color="#bceab2"/><stop offset="0.25" stop-color="#e6f4b2"/><stop offset="0.29" stop-color="#ecf4b6"/><stop offset="0.33" stop-color="#f3f4b9"/><stop offset="0.38" stop-color="#f8f3bb"/><stop offset="0.42" stop-color="#f9edb3"/><stop offset="0.46" stop-color="#f9e8ac"/><stop offset="0.5" stop-color="#f9e3a6"/><stop offset="0.54" stop-color="#fadfa0"/><stop offset="0.58" stop-color="#fadb9b"/><stop offset="0.62" stop-color="#fad696"/><stop offset="0.67" stop-color="#fad191"/><stop offset="0.71" stop-color="#f9c989"/><stop offset="0.75" stop-color="#f9bd7d"/><stop offset="0.79" stop-color="#f8ab74"/><stop offset="0.83" stop-color="#f6986a"/><stop offset="0.88" stop-color="#f18665"/><stop offset="0.92" stop-color="#ec7460"/><stop offset="0.96" stop-color="#df6465"/><stop offset="1" stop-color="#d45668"/></linearGradient><linearGradient id="hf30" x1="0" x2="1" y1="0" y2="0"><stop offset="0" stop-color="#7760b9"/><stop offset="0.04" stop-color="#7562b9"/><stop offset="0.08" stop-color="#7264ba"/><stop offset="0.12" stop-color="#5088c0"/><stop offset="0.17" stop-color="#77cabb"/><stop offset="0.21" stop-color="#ace5b2"/><stop offset="0.25" stop-color="#d6f0b2"/><stop offset="0.29" stop-color="#e6f4b2"/><stop offset="0.33" stop-color="#eaf4b4"/><stop offset="0.38" stop-color="#eff4b7"/><stop offset="0.42" stop-color="#f4f4ba"/><stop offset="0.46" stop-color="#f8f3ba"/><stop offset="0.5" stop-color="#f9ecb2"/><stop offset="0.54" stop-color="#f9e5a8"/><stop offset="0.58" stop-color="#fade9e"/><stop offset="0.62" stop-color="#fad595"/><stop offset="0.67" stop-color="#f9cc8c"/><stop offset="0.71" stop-color="#f9c484"/><stop offset="0.75" stop-color="#f8b478"/><stop offset="0.79" stop-color="#f7a470"/><stop offset="0.83" stop-color="#f59369"/><stop offset="0.88" stop-color="#f18565"/><stop offset="0.92" stop-color="#ed7961"/><stop offset="0.96" stop-color="#e76d62"/><stop offset="1" stop-color="#de6265"/></linearGradient><linearGradient id="hf31" x1="0" x2="1" y1="0" y2="0"><stop offset="0" stop-color="#7b5cb8"/><stop offset="0.04" stop-color="#795eb9"/><stop offset="0.08" stop-color="#7363ba"/><stop offset="0.12" stop-color="#5087c0"/><stop offset="0.17" stop-color="#7ccdba"/><stop offset="0.21" stop-color="#b7e8b2"/><stop offset="0.25" stop-color="#e2f3b2"/><stop offset="0.29" stop-color="#edf4b6"/><stop offset="0.33" stop-color="#f0f4b7"/><stop offset="0.38" stop-color="#f2f4b9"/><stop offset="0.42" stop-color="#f5f4ba"/><stop offset="0.46" stop-color="#f8f4bc"/><stop offset="0.5" stop-color="#f8f1b8"/><stop offset="0.54" stop-color="#f9ecb1"/><stop offset="0.58" stop-color="#f9e6a9"/><stop offset="0.62" stop-color="#fadfa0"/><stop offset="0.67" stop-color="#fad696"/><stop offset="0.71" stop-color="#f9cb8b"/><stop offset="0.75" stop-color="#f9ba7b"/><stop offset="0.79" stop-color="#f7a570"/><stop offset="0.83" stop-color="#f48f68"/><stop offset="0.88" stop-color="#ee7c62"/><stop offset="0.92" stop-color="#e76e62"/><stop offset="0.96" stop-color="#de6265"/><stop offset="1" stop-color="#d55768"/></linearGradient><linearGradient id="hf32" x1="0" x2="1" y1="0" y2="0"><stop offset="0" stop-color="#7b5cb8"/><stop offset="0.04" stop-color="#7b5cb8"/><stop offset="0.08" stop-color="#6e68bb"/><stop offset="0.12" stop-color="#4f96c0"/><stop offset="0.17" stop-color="#8cd5b8"/><stop offset="0.21" stop-color="#bceab2"/><stop offset="0.25" stop-color="#e5f4b2"/><stop offset="0.29" stop-color="#ebf4b5"/><stop offset="0.33" stop-color="#f1f4b8"/><stop offset="0.38" stop-color="#f6f4bb"/><stop offset="0.42" stop-color="#f8f0b7"/><stop offset="0.46" stop-color="#f9ebb0"/><stop offset="0.5" stop-color="#f9e6a9"/><stop offset="0.54" stop-color="#fae1a2"/><stop offset="0.58" stop-color="#fadb9b"/><stop offset="0.62" stop-color="#fad595"/><stop offset="0.67" stop-color="#facf8f"/><stop offset="0.71" stop-color="#f9c686"/><stop offset="0.75" stop-color="#f9b97a"/><stop offset="0.79" stop-color="#f7a771"/><stop offset="0.83" stop-color="#f59469"/><stop offset="0.88" stop-color="#f08464"/><stop offset="0.92" stop-color="#ec7460"/><stop offset="0.96" stop-color="#e06564"/><stop offset="1" stop-color="#d65868"/></linearGradient><linearGradient id="hf33" x1="0" x2="1" y1="0" y2="0"><stop offset="0" stop-color="#7b5cb8"/><stop offset="0.04" stop-color="#7b5cb8"/><stop offset="0.08" stop-color="#6b6cbc"/><stop offset="0.12" stop-color="#56a0bf"/><stop offset="0.17" stop-color="#97dbb6"/><stop offset="0.21" stop-color="#c9edb2"/><stop offset="0.25" stop-color="#ebf4b5"/><stop offset="0.29" stop-color="#f1f4b8"/><stop offset="0.33" stop-color="#f6f4bb"/><stop offset="0.38" stop-color="#f8f2b9"/><stop offset="0.42" stop-color="#f8eeb4"/><stop offset="0.46" stop-color="#f9ebb0"/><stop offset="0.5" stop-color="#f9e8ac"/><stop offset="0.54" stop-color="#f9e4a7"/><stop offset="0.58" stop-color="#fae1a2"/><stop offset="0.62" stop-color="#fadc9c"/><stop offset="0.67" stop-color="#fad595"/><stop offset="0.71" stop-color="#f9cb8b"/><stop offset="0.75" stop-color="#f9bb7b"/><stop offset="0.79" stop-color="#f7a671"/><stop offset="0.83" stop-color="#f48f68"/><stop offset="0.88" stop-color="#ee7c62"/><stop offset="0.92" stop-color="#e56b63"/><stop offset="0.96" stop-color="#d95b67"/><stop offset="1" stop-color="#cf506a"/></linearGradient><linearGradient id="hf34" x1="0" x2="1" y1="0" y2="0"><stop offset="0" stop-color="#81cfba"/><stop offset="0.04" stop-color="#8fd7b7"/><stop offset="0.08" stop-color="#9edeb5"/><stop offset="0.12" stop-color="#b4e7b2"/><stop offset="0.17" stop-color="#c8ecb2"/><stop offset="0.21" stop-color="#dbf1b2"/><stop offset="0.25" stop-color="#e8f4b3"/><stop offset="0.29" stop-color="#ecf4b5"/><stop offset="0.33" stop-color="#f0f4b8"/><stop offset="0.38" stop-color="#f3f4b9"/><stop offset="0.42" stop-color="#f6f4bb"/><stop offset="0.46" stop-color="#f8f4bc"/><stop offset="0.5" stop-color="#f8f1b8"/><stop offset="0.54" stop-color="#f9edb3"/><stop offset="0.58" stop-color="#f9e8ad"/><stop offset="0.62" stop-color="#fadd9d"/><stop offset="0.67" stop-color="#f9cc8c"/><stop offset="0.71" stop-color="#f9b97b"/><stop offset="0.75" stop-color="#f69e6d"/><stop offset="0.79" stop-color="#ee7c62"/><stop offset="0.83" stop-color="#db5e66"/><stop offset="0.88" stop-color="#c24b67"/><stop offset="0.92" stop-color="#b34563"/><stop offset="0.96" stop-color="#a54060"/><stop offset="1" stop-color="#9d3d5e"/></linearGradient><linearGradient id="hf35" x1="0" x2="1" y1="0" y2="0"><stop offset="0" stop-color="#5088c0"/><stop offset="0.04" stop-color="#4b8ec0"/><stop offset="0.08" stop-color="#58a3bf"/><stop offset="0.12" stop-color="#7accbb"/><stop offset="0.17" stop-color="#a0dfb4"/><stop offset="0.21" stop-color="#b4e7b2"/><stop offset="0.25" stop-color="#c6ecb2"/><stop offset="0.29" stop-color="#d7f0b2"/><stop offset="0.33" stop-color="#e2f3b2"/><stop offset="0.38" stop-color="#e9f4b4"/><stop offset="0.42" stop-color="#eff4b7"/><stop offset="0.46" stop-color="#f2f4b9"/><stop offset="0.5" stop-color="#f7f4bb"/><stop offset="0.54" stop-color="#f8f0b6"/><stop offset="0.58" stop-color="#f9e9ad"/><stop offset="0.62" stop-color="#fadfa0"/><stop offset="0.67" stop-color="#face8e"/><stop offset="0.71" stop-color="#f9bb7b"/><stop offset="0.75" stop-color="#f7a470"/><stop offset="0.79" stop-color="#f18665"/><stop offset="0.83" stop-color="#e46a63"/><stop offset="0.88" stop-color="#d1516a"/><stop offset="0.92" stop-color="#bf4966"/><stop offset="0.96" stop-color="#b54663"/><stop offset="1" stop-color="#ab4261"/></linearGradient><linearGradient id="hf36" x1="0" x2="1" y1="0" y2="0"><stop offset="0" stop-color="#4c8dc0"/><stop offset="0.04" stop-color="#4c93c0"/><stop offset="0.08" stop-color="#62b1be"/><stop offset="0.12" stop-color="#83d0b9"/><stop offset="0.17" stop-color="#9edeb5"/><stop offset="0.21" stop-color="#b1e7b2"/><stop offset="0.25" stop-color="#c2ebb2"/><stop offset="0.29" stop-color="#d2efb2"/><stop offset="0.33" stop-color="#e0f2b2"/><stop offset="0.38" stop-color="#eaf4b4"/><stop offset="0.42" stop-color="#f0f4b8"/><stop offset="0.46" stop-color="#f6f4bb"/><stop offset="0.5" stop-color="#f8efb6"/><stop offset="0.54" stop-color="#f9e8ac"/><stop offset="0.58" stop-color="#fae1a3"/><stop offset="0.62" stop-color="#fad393"/><stop offset="0.67" stop-color="#f9c282"/><stop offset="0.71" stop-color="#f8ae75"/><stop offset="0.75" stop-color="#f69a6b"/><stop offset="0.79" stop-color="#ef7e63"/><stop offset="0.83" stop-color="#e16664"/><stop offset="0.88" stop-color="#cf506a"/><stop offset="0.92" stop-color="#c54c67"/><stop offset="0.96" stop-color="#bb4865"/><stop offset="1" stop-color="#b24463"/></linearGradient><linearGradient id="hf37" x1="0" x2="1" y1="0" y2="0"><stop offset="0" stop-color="#5088c0"/><stop offset="0.04" stop-color="#4d8bc0"/><stop offset="0.08" stop-color="#59a5be"/><stop offset="0.12" stop-color="#78cbbb"/><stop offset="0.17" stop-color="#97dab6"/><stop offset="0.21" stop-color="#ade5b2"/><stop offset="0.25" stop-color="#c2ebb2"/><stop offset="0.29" stop-color="#d6f0b2"/><stop offset="0.33" stop-color="#e6f4b2"/><stop offset="0.38" stop-color="#eef4b6"/><stop offset="0.42" stop-color="#f5f4ba"/><stop offset="0.46" stop-color="#f8f2b9"/><stop offset="0.5" stop-color="#f9ecb1"/><stop offset="0.54" stop-color="#f9e6a9"/><stop offset="0.58" stop-color="#fae1a2"/><stop offset="0.62" stop-color="#fad595"/><stop offset="0.67" stop-color="#f9c686"/><stop offset="0.71" stop-color="#f9b779"/><stop offset="0.75" stop-color="#f7a470"/><stop offset="0.79" stop-color="#f28866"/><stop offset="0.83" stop-color="#e76d62"/><stop offset="0.88" stop-color="#d35469"/><stop offset="0.92" stop-color="#c84d68"/><stop offset="0.96" stop-color="#ba4865"/><stop offset="1" stop-color="#ad4361"/></linearGradient><linearGradient id="hf38" x1="0" x2="1" y1="0" y2="0"><stop offset="0" stop-color="#8fd6b7"/><stop offset="0.04" stop-color="#96dab6"/><stop offset="0.08" stop-color="#9fdfb4"/><stop offset="0.12" stop-color="#ade6b2"/><stop offset="0.17" stop-color="#bdeab2"/><stop offset="0.21" stop-color="#cfeeb2"/><stop offset="0.25" stop-color="#e1f3b2"/><stop offset="0.29" stop-color="#eaf4b4"/><stop offset="0.33" stop-color="#f1f4b8"/><stop offset="0.38" stop-color="#f7f4bc"/><stop offset="0.42" stop-color="#f9eeb4"/><stop offset="0.46" stop-color="#f9e8ab"/><stop offset="0.5" stop-color="#fae1a3"/><stop offset="0.54" stop-color="#fad999"/><stop offset="0.58" stop-color="#fad090"/><stop offset="0.62" stop-color="#f9c888"/><stop offset="0.67" stop-color="#f9c080"/><stop offset="0.71" stop-color="#f9b77a"/><stop offset="0.75" stop-color="#f7aa73"/><stop offset="0.79" stop-color="#f59369"/><stop offset="0.83" stop-color="#ee7a62"/><stop offset="0.88" stop-color="#de6365"/><stop offset="0.92" stop-color="#d1516a"/><stop offset="0.96" stop-color="#bf4a66"/><stop offset="1" stop-color="#af4362"/></linearGradient><linearGradient id="hf39" x1="0" x2="1" y1="0" y2="0"><stop offset="0" stop-color="#7562b9"/><stop offset="0.04" stop-color="#7562ba"/><stop offset="0.08" stop-color="#6670bd"/><stop offset="0.12" stop-color="#93d9b6"/><stop offset="0.17" stop-color="#e9f4b4"/><stop offset="0.21" stop-color="#eff4b7"/><stop offset="0.25" stop-color="#f4f4ba"/><stop offset="0.29" stop-color="#f8f2b9"/><stop offset="0.33" stop-color="#f9edb2"/><stop offset="0.38" stop-color="#f9e7ab"/><stop offset="0.42" stop-color="#fae1a3"/><stop offset="0.46" stop-color="#fada9a"/><stop offset="0.5" stop-color="#fad797"/><stop offset="0.54" stop-color="#fad393"/><stop offset="0.58" stop-color="#fad090"/><stop offset="0.62" stop-color="#facd8d"/><stop offset="0.67" stop-color="#f9ca8a"/><stop offset="0.71" stop-color="#f9c888"/><stop offset="0.75" stop-color="#f9be7e"/><stop offset="0.79" stop-color="#f8b377"/><stop offset="0.83" stop-color="#f7a972"/><stop offset="0.88" stop-color="#f69d6d"/><stop offset="0.92" stop-color="#f49068"/><stop offset="0.96" stop-color="#f08264"/><stop offset="1" stop-color="#ec7460"/></linearGradient></defs>
<rect x="494.9" y="213.9" width="136.2" height="4.66" fill="url(#hf0)" stroke="none" stroke-width="0.6"/>
<rect x="494.9" y="217.86" width="136.2" height="4.66" fill="url(#hf1)" stroke="none" stroke-width="0.6"/>
<rect x="494.9" y="221.81" width="136.2" height="4.66" fill="url(#hf2)" stroke="none" stroke-width="0.6"/>
<rect x="494.9" y="225.77" width="136.2" height="4.66" fill="url(#hf3)" stroke="none" stroke-width="0.6"/>
<rect x="494.9" y="229.72" width="136.2" height="4.66" fill="url(#hf4)" stroke="none" stroke-width="0.6"/>
<rect x="494.9" y="233.68" width="136.2" height="4.66" fill="url(#hf5)" stroke="none" stroke-width="0.6"/>
<rect x="494.9" y="237.63" width="136.2" height="4.66" fill="url(#hf6)" stroke="none" stroke-width="0.6"/>
<rect x="494.9" y="241.59" width="136.2" height="4.66" fill="url(#hf7)" stroke="none" stroke-width="0.6"/>
<rect x="494.9" y="245.54" width="136.2" height="4.66" fill="url(#hf8)" stroke="none" stroke-width="0.6"/>
<rect x="494.9" y="249.5" width="136.2" height="4.66" fill="url(#hf9)" stroke="none" stroke-width="0.6"/>
<rect x="494.9" y="253.45" width="136.2" height="4.66" fill="url(#hf10)" stroke="none" stroke-width="0.6"/>
<rect x="494.9" y="257.41" width="136.2" height="4.66" fill="url(#hf11)" stroke="none" stroke-width="0.6"/>
<rect x="494.9" y="261.36" width="136.2" height="4.66" fill="url(#hf12)" stroke="none" stroke-width="0.6"/>
<rect x="494.9" y="265.31" width="136.2" height="4.66" fill="url(#hf13)" stroke="none" stroke-width="0.6"/>
<rect x="494.9" y="269.27" width="136.2" height="4.66" fill="url(#hf14)" stroke="none" stroke-width="0.6"/>
<rect x="494.9" y="273.23" width="136.2" height="4.66" fill="url(#hf15)" stroke="none" stroke-width="0.6"/>
<rect x="494.9" y="277.18" width="136.2" height="4.66" fill="url(#hf16)" stroke="none" stroke-width="0.6"/>
<rect x="494.9" y="281.13" width="136.2" height="4.66" fill="url(#hf17)" stroke="none" stroke-width="0.6"/>
<rect x="494.9" y="285.09" width="136.2" height="4.66" fill="url(#hf18)" stroke="none" stroke-width="0.6"/>
<rect x="494.9" y="289.05" width="136.2" height="4.66" fill="url(#hf19)" stroke="none" stroke-width="0.6"/>
<rect x="494.9" y="293" width="136.2" height="4.66" fill="url(#hf20)" stroke="none" stroke-width="0.6"/>
<rect x="494.9" y="296.96" width="136.2" height="4.66" fill="url(#hf21)" stroke="none" stroke-width="0.6"/>
<rect x="494.9" y="300.91" width="136.2" height="4.66" fill="url(#hf22)" stroke="none" stroke-width="0.6"/>
<rect x="494.9" y="304.87" width="136.2" height="4.66" fill="url(#hf23)" stroke="none" stroke-width="0.6"/>
<rect x="494.9" y="308.82" width="136.2" height="4.66" fill="url(#hf24)" stroke="none" stroke-width="0.6"/>
<rect x="494.9" y="312.78" width="136.2" height="4.66" fill="url(#hf25)" stroke="none" stroke-width="0.6"/>
<rect x="494.9" y="316.73" width="136.2" height="4.66" fill="url(#hf26)" stroke="none" stroke-width="0.6"/>
<rect x="494.9" y="320.69" width="136.2" height="4.66" fill="url(#hf27)" stroke="none" stroke-width="0.6"/>
<rect x="494.9" y="324.64" width="136.2" height="4.66" fill="url(#hf28)" stroke="none" stroke-width="0.6"/>
<rect x="494.9" y="328.6" width="136.2" height="4.66" fill="url(#hf29)" stroke="none" stroke-width="0.6"/>
<rect x="494.9" y="332.55" width="136.2" height="4.66" fill="url(#hf30)" stroke="none" stroke-width="0.6"/>
<rect x="494.9" y="336.5" width="136.2" height="4.66" fill="url(#hf31)" stroke="none" stroke-width="0.6"/>
<rect x="494.9" y="340.46" width="136.2" height="4.66" fill="url(#hf32)" stroke="none" stroke-width="0.6"/>
<rect x="494.9" y="344.42" width="136.2" height="4.66" fill="url(#hf33)" stroke="none" stroke-width="0.6"/>
<rect x="494.9" y="348.37" width="136.2" height="4.66" fill="url(#hf34)" stroke="none" stroke-width="0.6"/>
<rect x="494.9" y="352.33" width="136.2" height="4.66" fill="url(#hf35)" stroke="none" stroke-width="0.6"/>
<rect x="494.9" y="356.28" width="136.2" height="4.66" fill="url(#hf36)" stroke="none" stroke-width="0.6"/>
<rect x="494.9" y="360.24" width="136.2" height="4.66" fill="url(#hf37)" stroke="none" stroke-width="0.6"/>
<rect x="494.9" y="364.19" width="136.2" height="4.66" fill="url(#hf38)" stroke="none" stroke-width="0.6"/>
<rect x="494.9" y="368.15" width="136.2" height="3.96" fill="url(#hf39)" stroke="none" stroke-width="0.6"/>
<rect x="494.4" y="207.7" width="18.2" height="4.5" fill="#ffffff" stroke="none" stroke-width="0.6"/>
<rect x="512.6" y="207.7" width="17.6" height="4.5" fill="#c8c8c8" stroke="none" stroke-width="0.6"/>
<rect x="530.2" y="207.7" width="101" height="4.5" fill="#1a1a1a" stroke="none" stroke-width="0.6"/>
<rect x="494.4" y="207.7" width="136.7" height="4.5" fill="none" stroke="#333" stroke-width="0.4"/>
<line x1="500" y1="207.9" x2="500" y2="212" stroke="#bbb" stroke-width="0.25"/>
<line x1="505" y1="207.9" x2="505" y2="212" stroke="#bbb" stroke-width="0.25"/>
<line x1="517" y1="207.9" x2="517" y2="212" stroke="#bbb" stroke-width="0.25"/>
<line x1="522" y1="207.9" x2="522" y2="212" stroke="#bbb" stroke-width="0.25"/>
<line x1="526" y1="207.9" x2="526" y2="212" stroke="#bbb" stroke-width="0.25"/>
<line x1="538" y1="207.9" x2="538" y2="212" stroke="#444" stroke-width="0.25"/>
<line x1="547" y1="207.9" x2="547" y2="212" stroke="#444" stroke-width="0.25"/>
<line x1="556" y1="207.9" x2="556" y2="212" stroke="#444" stroke-width="0.25"/>
<line x1="565" y1="207.9" x2="565" y2="212" stroke="#444" stroke-width="0.25"/>
<line x1="574" y1="207.9" x2="574" y2="212" stroke="#444" stroke-width="0.25"/>
<line x1="583" y1="207.9" x2="583" y2="212" stroke="#444" stroke-width="0.25"/>
<line x1="592" y1="207.9" x2="592" y2="212" stroke="#444" stroke-width="0.25"/>
<line x1="601" y1="207.9" x2="601" y2="212" stroke="#444" stroke-width="0.25"/>
<line x1="610" y1="207.9" x2="610" y2="212" stroke="#444" stroke-width="0.25"/>
<line x1="619" y1="207.9" x2="619" y2="212" stroke="#444" stroke-width="0.25"/>
<line x1="628" y1="207.9" x2="628" y2="212" stroke="#444" stroke-width="0.25"/>
<rect x="496.6" y="198.5" width="3.6" height="3.8" fill="#fff" stroke="#333" stroke-width="0.45"/>
<text x="502" y="202.3" font-size="5.4" text-anchor="start" fill="#222">Early BME</text>
<rect x="538.7" y="198.5" width="3.6" height="3.8" fill="#bbb" stroke="#333" stroke-width="0.45"/>
<text x="544.2" y="202.3" font-size="5.4" text-anchor="start" fill="#222">Early pdECM</text>
<rect x="588.8" y="198.5" width="3.8" height="3.8" fill="#111" stroke="#111" stroke-width="0.45"/>
<text x="594.6" y="202.3" font-size="5.4" text-anchor="start" fill="#222">Late pdECM</text>
<text x="632" y="217.33" font-size="4.1" text-anchor="start" fill="#222">ANXA4</text>
<text x="632" y="221.28" font-size="4.1" text-anchor="start" fill="#222">ANXA1</text>
<text x="632" y="225.24" font-size="4.1" text-anchor="start" fill="#222">ANXA11</text>
<text x="632" y="229.19" font-size="4.1" text-anchor="start" fill="#222">SERPINE1</text>
<text x="632" y="233.15" font-size="4.1" text-anchor="start" fill="#222">LAMB3</text>
<text x="632" y="237.1" font-size="4.1" text-anchor="start" fill="#222">DSCK1</text>
<text x="632" y="241.06" font-size="4.1" text-anchor="start" fill="#222">ANXA3</text>
<text x="632" y="245.01" font-size="4.1" text-anchor="start" fill="#222">SNTB1</text>
<text x="632" y="248.97" font-size="4.1" text-anchor="start" fill="#222">MMP11</text>
<text x="632" y="252.92" font-size="4.1" text-anchor="start" fill="#222">LAMC1</text>
<text x="632" y="256.88" font-size="4.1" text-anchor="start" fill="#222">IGFBP2</text>
<text x="632" y="260.83" font-size="4.1" text-anchor="start" fill="#222">TGFBR2</text>
<text x="632" y="264.79" font-size="4.1" text-anchor="start" fill="#222">PPIB</text>
<text x="632" y="268.74" font-size="4.1" text-anchor="start" fill="#222">AREG</text>
<text x="632" y="272.7" font-size="4.1" text-anchor="start" fill="#222">SLC6A6</text>
<text x="632" y="276.65" font-size="4.1" text-anchor="start" fill="#222">ANXA5</text>
<text x="632" y="280.61" font-size="4.1" text-anchor="start" fill="#222">PRSS2</text>
<text x="632" y="284.56" font-size="4.1" text-anchor="start" fill="#222">KRT15</text>
<text x="632" y="288.52" font-size="4.1" text-anchor="start" fill="#222">S100A10</text>
<text x="632" y="292.47" font-size="4.1" text-anchor="start" fill="#222">S100A14</text>
<text x="632" y="296.43" font-size="4.1" text-anchor="start" fill="#222">ITGB1</text>
<text x="632" y="300.38" font-size="4.1" text-anchor="start" fill="#222">ANXA7</text>
<text x="632" y="304.34" font-size="4.1" text-anchor="start" fill="#222">TGFBI</text>
<text x="632" y="308.29" font-size="4.1" text-anchor="start" fill="#222">SAT1</text>
<text x="632" y="312.25" font-size="4.1" text-anchor="start" fill="#222">KRT19</text>
<text x="632" y="316.2" font-size="4.1" text-anchor="start" fill="#222">S100A16</text>
<text x="632" y="320.16" font-size="4.1" text-anchor="start" fill="#222">S100A6</text>
<text x="632" y="324.11" font-size="4.1" text-anchor="start" fill="#222">S100A13</text>
<text x="632" y="328.07" font-size="4.1" text-anchor="start" fill="#222">GST</text>
<text x="632" y="332.02" font-size="4.1" text-anchor="start" fill="#222">S100A4</text>
<text x="632" y="335.98" font-size="4.1" text-anchor="start" fill="#222">TIMP1</text>
<text x="632" y="339.93" font-size="4.1" text-anchor="start" fill="#222">KRT8</text>
<text x="632" y="343.89" font-size="4.1" text-anchor="start" fill="#222">ANXA2</text>
<text x="632" y="347.84" font-size="4.1" text-anchor="start" fill="#222">S100A11</text>
<text x="632" y="351.8" font-size="4.1" text-anchor="start" fill="#222">FLNA</text>
<text x="632" y="355.75" font-size="4.1" text-anchor="start" fill="#222">TNFRSF12A</text>
<text x="632" y="359.71" font-size="4.1" text-anchor="start" fill="#222">KLK6</text>
<text x="632" y="363.66" font-size="4.1" text-anchor="start" fill="#222">MMP7</text>
<text x="632" y="367.62" font-size="4.1" text-anchor="start" fill="#222">LGALS1</text>
<text x="632" y="371.57" font-size="4.1" text-anchor="start" fill="#222">KLK7</text>
<line x1="493" y1="215.88" x2="494.9" y2="215.88" stroke="#222" stroke-width="0.38"/>
<line x1="493.5" y1="219.83" x2="494.9" y2="219.83" stroke="#222" stroke-width="0.38"/>
<line x1="494" y1="223.79" x2="494.9" y2="223.79" stroke="#222" stroke-width="0.38"/>
<line x1="493" y1="227.74" x2="494.9" y2="227.74" stroke="#222" stroke-width="0.38"/>
<line x1="493.5" y1="231.7" x2="494.9" y2="231.7" stroke="#222" stroke-width="0.38"/>
<line x1="494" y1="235.65" x2="494.9" y2="235.65" stroke="#222" stroke-width="0.38"/>
<line x1="493" y1="239.61" x2="494.9" y2="239.61" stroke="#222" stroke-width="0.38"/>
<line x1="493.5" y1="243.56" x2="494.9" y2="243.56" stroke="#222" stroke-width="0.38"/>
<line x1="494" y1="247.52" x2="494.9" y2="247.52" stroke="#222" stroke-width="0.38"/>
<line x1="493" y1="251.47" x2="494.9" y2="251.47" stroke="#222" stroke-width="0.38"/>
<line x1="493.5" y1="255.43" x2="494.9" y2="255.43" stroke="#222" stroke-width="0.38"/>
<line x1="494" y1="259.38" x2="494.9" y2="259.38" stroke="#222" stroke-width="0.38"/>
<line x1="493" y1="263.34" x2="494.9" y2="263.34" stroke="#222" stroke-width="0.38"/>
<line x1="493.5" y1="267.29" x2="494.9" y2="267.29" stroke="#222" stroke-width="0.38"/>
<line x1="493" y1="215.88" x2="493" y2="267.29" stroke="#222" stroke-width="0.38"/>
<line x1="491.5" y1="241.59" x2="493" y2="241.59" stroke="#222" stroke-width="0.38"/>
<line x1="495" y1="271.25" x2="494.9" y2="271.25" stroke="#222" stroke-width="0.38"/>
<line x1="494" y1="275.2" x2="494.9" y2="275.2" stroke="#222" stroke-width="0.38"/>
<line x1="494.5" y1="279.16" x2="494.9" y2="279.16" stroke="#222" stroke-width="0.38"/>
<line x1="494" y1="271.25" x2="494" y2="279.16" stroke="#222" stroke-width="0.38"/>
<line x1="492.5" y1="275.2" x2="494" y2="275.2" stroke="#222" stroke-width="0.38"/>
<line x1="494.1" y1="283.11" x2="494.9" y2="283.11" stroke="#222" stroke-width="0.38"/>
<line x1="493.1" y1="287.07" x2="494.9" y2="287.07" stroke="#222" stroke-width="0.38"/>
<line x1="493.6" y1="291.02" x2="494.9" y2="291.02" stroke="#222" stroke-width="0.38"/>
<line x1="494.1" y1="294.98" x2="494.9" y2="294.98" stroke="#222" stroke-width="0.38"/>
<line x1="493.1" y1="298.93" x2="494.9" y2="298.93" stroke="#222" stroke-width="0.38"/>
<line x1="493.6" y1="302.89" x2="494.9" y2="302.89" stroke="#222" stroke-width="0.38"/>
<line x1="494.1" y1="306.84" x2="494.9" y2="306.84" stroke="#222" stroke-width="0.38"/>
<line x1="493.1" y1="283.11" x2="493.1" y2="306.84" stroke="#222" stroke-width="0.38"/>
<line x1="491.6" y1="294.98" x2="493.1" y2="294.98" stroke="#222" stroke-width="0.38"/>
<line x1="493.5" y1="310.8" x2="494.9" y2="310.8" stroke="#222" stroke-width="0.38"/>
<line x1="494" y1="314.75" x2="494.9" y2="314.75" stroke="#222" stroke-width="0.38"/>
<line x1="494.5" y1="318.71" x2="494.9" y2="318.71" stroke="#222" stroke-width="0.38"/>
<line x1="493.5" y1="322.66" x2="494.9" y2="322.66" stroke="#222" stroke-width="0.38"/>
<line x1="494" y1="326.62" x2="494.9" y2="326.62" stroke="#222" stroke-width="0.38"/>
<line x1="493.5" y1="310.8" x2="493.5" y2="326.62" stroke="#222" stroke-width="0.38"/>
<line x1="492" y1="318.71" x2="493.5" y2="318.71" stroke="#222" stroke-width="0.38"/>
<line x1="494.3" y1="330.57" x2="494.9" y2="330.57" stroke="#222" stroke-width="0.38"/>
<line x1="493.3" y1="334.53" x2="494.9" y2="334.53" stroke="#222" stroke-width="0.38"/>
<line x1="493.8" y1="338.48" x2="494.9" y2="338.48" stroke="#222" stroke-width="0.38"/>
<line x1="494.3" y1="342.44" x2="494.9" y2="342.44" stroke="#222" stroke-width="0.38"/>
<line x1="493.3" y1="346.39" x2="494.9" y2="346.39" stroke="#222" stroke-width="0.38"/>
<line x1="493.3" y1="330.57" x2="493.3" y2="346.39" stroke="#222" stroke-width="0.38"/>
<line x1="491.8" y1="338.48" x2="493.3" y2="338.48" stroke="#222" stroke-width="0.38"/>
<line x1="494.3" y1="350.35" x2="494.9" y2="350.35" stroke="#222" stroke-width="0.38"/>
<line x1="494.8" y1="354.3" x2="494.9" y2="354.3" stroke="#222" stroke-width="0.38"/>
<line x1="493.8" y1="358.26" x2="494.9" y2="358.26" stroke="#222" stroke-width="0.38"/>
<line x1="494.3" y1="362.21" x2="494.9" y2="362.21" stroke="#222" stroke-width="0.38"/>
<line x1="494.8" y1="366.17" x2="494.9" y2="366.17" stroke="#222" stroke-width="0.38"/>
<line x1="493.8" y1="350.35" x2="493.8" y2="366.17" stroke="#222" stroke-width="0.38"/>
<line x1="492.3" y1="358.26" x2="493.8" y2="358.26" stroke="#222" stroke-width="0.38"/>
<line x1="490.2" y1="241.59" x2="490.2" y2="275.2" stroke="#222" stroke-width="0.38"/>
<line x1="490.2" y1="241.59" x2="491.5" y2="241.59" stroke="#222" stroke-width="0.38"/>
<line x1="490.2" y1="275.2" x2="492.5" y2="275.2" stroke="#222" stroke-width="0.38"/>
<line x1="489.5" y1="294.98" x2="489.5" y2="338.48" stroke="#222" stroke-width="0.38"/>
<line x1="489.5" y1="294.98" x2="491.6" y2="294.98" stroke="#222" stroke-width="0.38"/>
<line x1="489.5" y1="318.71" x2="492" y2="318.71" stroke="#222" stroke-width="0.38"/>
<line x1="489.5" y1="338.48" x2="491.8" y2="338.48" stroke="#222" stroke-width="0.38"/>
<line x1="488.2" y1="316.73" x2="488.2" y2="358.26" stroke="#222" stroke-width="0.38"/>
<line x1="488.2" y1="316.73" x2="489.5" y2="316.73" stroke="#222" stroke-width="0.38"/>
<line x1="488.2" y1="358.26" x2="492.3" y2="358.26" stroke="#222" stroke-width="0.38"/>
<line x1="486.2" y1="258.39" x2="486.2" y2="370.12" stroke="#222" stroke-width="0.38"/>
<line x1="486.2" y1="258.39" x2="490.2" y2="258.39" stroke="#222" stroke-width="0.38"/>
<line x1="486.2" y1="337.49" x2="488.2" y2="337.49" stroke="#222" stroke-width="0.38"/>
<line x1="486.2" y1="370.12" x2="494.9" y2="370.12" stroke="#222" stroke-width="0.38"/>
<defs><linearGradient id="gexp" x1="0" x2="1" y1="0" y2="0"><stop offset="0" stop-color="#5a4aa8"/><stop offset="0.15" stop-color="#3a80b8"/><stop offset="0.3" stop-color="#70c8b0"/><stop offset="0.45" stop-color="#d0eeb0"/><stop offset="0.55" stop-color="#f5f5c0"/><stop offset="0.65" stop-color="#f8d090"/><stop offset="0.78" stop-color="#f08050"/><stop offset="0.9" stop-color="#d04050"/><stop offset="1" stop-color="#9e1a4a"/></linearGradient></defs>
<rect x="541.2" y="381.6" width="55.9" height="5.4" fill="url(#gexp)" stroke="none" stroke-width="0.6"/>
<text x="569.6" y="379.8" font-size="5.4" text-anchor="middle" fill="#222">Expression</text>
<text x="540.2" y="386.6" font-size="5.6" text-anchor="end" fill="#222">Min</text>
<text x="598.4" y="386.6" font-size="5.6" text-anchor="start" fill="#222">Max</text>
<text x="0.5" y="412" font-size="15" font-weight="bold" fill="#000">g</text>
<line x1="35.6" y1="411.6" x2="35.6" y2="565.3" stroke="#333" stroke-width="0.7"/>
<line x1="35.6" y1="565.3" x2="174.2" y2="565.3" stroke="#333" stroke-width="0.7"/>
<line x1="34" y1="440.6" x2="35.6" y2="440.6" stroke="#222" stroke-width="0.6"/>
<text x="33.2" y="442.8" font-size="6.2" text-anchor="end" fill="#222">0.8</text>
<line x1="34" y1="483.1" x2="35.6" y2="483.1" stroke="#222" stroke-width="0.6"/>
<text x="33.2" y="485.3" font-size="6.2" text-anchor="end" fill="#222">0.4</text>
<line x1="34" y1="525.6" x2="35.6" y2="525.6" stroke="#222" stroke-width="0.6"/>
<text x="33.2" y="527.8" font-size="6.2" text-anchor="end" fill="#222">0.0</text>
<text x="20.5" y="489" font-size="5.65" text-anchor="middle" fill="#222" transform="rotate(-90 20.5 489)">Enrichment score</text>
<line x1="73.3" y1="565.3" x2="73.3" y2="567" stroke="#222" stroke-width="0.6"/>
<text x="73.3" y="574" font-size="5.5" text-anchor="middle" fill="#222">cEMT</text>
<line x1="136.3" y1="565.3" x2="136.3" y2="567" stroke="#222" stroke-width="0.6"/>
<text x="136.3" y="574" font-size="5.5" text-anchor="middle" fill="#222">pEMT</text>
<line x1="56.2" y1="513.2" x2="56.2" y2="523.7" stroke="#4a82c8" stroke-width="0.7"/>
<line x1="56.2" y1="531.9" x2="56.2" y2="540.5" stroke="#4a82c8" stroke-width="0.7"/>
<rect x="48.7" y="523.7" width="15" height="8.2" fill="#dfe8f6" stroke="#4a82c8" stroke-width="0.7"/>
<line x1="48.7" y1="528.4" x2="63.7" y2="528.4" stroke="#4a82c8" stroke-width="0.91"/>
<line x1="73.1" y1="504.6" x2="73.1" y2="520.9" stroke="#e8b030" stroke-width="0.7"/>
<line x1="73.1" y1="531.4" x2="73.1" y2="545.9" stroke="#e8b030" stroke-width="0.7"/>
<rect x="65.5" y="520.9" width="15.2" height="10.5" fill="#fbf0d8" stroke="#e8b030" stroke-width="0.7"/>
<line x1="65.5" y1="527.2" x2="80.7" y2="527.2" stroke="#e8b030" stroke-width="0.91"/>
<circle cx="73.1" cy="502.3" r="0.85" fill="#e8b030"/>
<circle cx="73.1" cy="503.8" r="0.85" fill="#e8b030"/>
<line x1="90" y1="502.7" x2="90" y2="519.8" stroke="#9a9a9a" stroke-width="0.7"/>
<line x1="90" y1="531.9" x2="90" y2="546.6" stroke="#9a9a9a" stroke-width="0.7"/>
<rect x="82.4" y="519.8" width="15.2" height="12.1" fill="#f0f0f0" stroke="#9a9a9a" stroke-width="0.7"/>
<line x1="82.4" y1="526.1" x2="97.6" y2="526.1" stroke="#9a9a9a" stroke-width="0.91"/>
<circle cx="90" cy="483.3" r="0.85" fill="#777"/>
<circle cx="90" cy="495.5" r="0.85" fill="#777"/>
<circle cx="90" cy="496.6" r="0.85" fill="#777"/>
<circle cx="90" cy="497.7" r="0.85" fill="#777"/>
<circle cx="90" cy="498.8" r="0.85" fill="#777"/>
<circle cx="90" cy="499.9" r="0.85" fill="#777"/>
<circle cx="90" cy="501" r="0.85" fill="#777"/>
<circle cx="90" cy="502" r="0.85" fill="#777"/>
<line x1="119.9" y1="508.5" x2="119.9" y2="517.9" stroke="#4a82c8" stroke-width="0.7"/>
<line x1="119.9" y1="525.6" x2="119.9" y2="534.2" stroke="#4a82c8" stroke-width="0.7"/>
<rect x="112.3" y="517.9" width="15.2" height="7.7" fill="#dfe8f6" stroke="#4a82c8" stroke-width="0.7"/>
<line x1="112.3" y1="521.9" x2="127.5" y2="521.9" stroke="#4a82c8" stroke-width="0.91"/>
<circle cx="119.9" cy="505.7" r="0.85" fill="#4a82c8"/>
<circle cx="119.9" cy="541.2" r="0.85" fill="#4a82c8"/>
<circle cx="119.9" cy="550.1" r="0.85" fill="#4a82c8"/>
<line x1="136.2" y1="499.2" x2="136.2" y2="512.5" stroke="#e8b030" stroke-width="0.7"/>
<line x1="136.2" y1="522.6" x2="136.2" y2="534.2" stroke="#e8b030" stroke-width="0.7"/>
<rect x="128.6" y="512.5" width="15.2" height="10.1" fill="#fbf0d8" stroke="#e8b030" stroke-width="0.7"/>
<line x1="128.6" y1="517.4" x2="143.8" y2="517.4" stroke="#e8b030" stroke-width="0.91"/>
<circle cx="136.2" cy="488.2" r="0.85" fill="#e8b030"/>
<circle cx="136.2" cy="540.1" r="0.85" fill="#e8b030"/>
<line x1="153" y1="474" x2="153" y2="501.1" stroke="#9a9a9a" stroke-width="0.7"/>
<line x1="153" y1="518.4" x2="153" y2="543.6" stroke="#9a9a9a" stroke-width="0.7"/>
<rect x="145.4" y="501.1" width="15.2" height="17.3" fill="#f0f0f0" stroke="#9a9a9a" stroke-width="0.7"/>
<line x1="145.4" y1="509.7" x2="160.6" y2="509.7" stroke="#9a9a9a" stroke-width="0.91"/>
<circle cx="153" cy="448.8" r="0.85" fill="#777"/>
<circle cx="153" cy="455.5" r="0.85" fill="#777"/>
<circle cx="153" cy="462.2" r="0.85" fill="#777"/>
<circle cx="153" cy="465.5" r="0.85" fill="#777"/>
<circle cx="153" cy="466.5" r="0.85" fill="#777"/>
<circle cx="153" cy="467.5" r="0.85" fill="#777"/>
<circle cx="153" cy="468.5" r="0.85" fill="#777"/>
<circle cx="153" cy="469.5" r="0.85" fill="#777"/>
<circle cx="153" cy="470.5" r="0.85" fill="#777"/>
<circle cx="153" cy="471.5" r="0.85" fill="#777"/>
<circle cx="153" cy="472.5" r="0.85" fill="#777"/>
<circle cx="153" cy="473.5" r="0.85" fill="#777"/>
<circle cx="153" cy="558.3" r="0.85" fill="#777"/>
<line x1="73.2" y1="452.3" x2="90.2" y2="452.3" stroke="#444" stroke-width="0.7"/>
<text x="81.7" y="450.8" font-size="6.3" text-anchor="middle" fill="#333">ns</text>
<line x1="56" y1="463.3" x2="90.2" y2="463.3" stroke="#444" stroke-width="0.7"/>
<text x="73.1" y="461.8" font-size="5.8" text-anchor="middle" fill="#333">***</text>
<line x1="56" y1="475.2" x2="73.6" y2="475.2" stroke="#444" stroke-width="0.7"/>
<text x="64.8" y="473.7" font-size="6.3" text-anchor="middle" fill="#333">ns</text>
<line x1="136" y1="418.5" x2="153.5" y2="418.5" stroke="#444" stroke-width="0.7"/>
<text x="144.75" y="417" font-size="5.8" text-anchor="middle" fill="#333">****</text>
<line x1="119.2" y1="429.6" x2="153.5" y2="429.6" stroke="#aaa" stroke-width="0.7"/>
<text x="136.35" y="428.1" font-size="5.8" text-anchor="middle" fill="#333">****</text>
<line x1="119.2" y1="441.4" x2="136.7" y2="441.4" stroke="#444" stroke-width="0.7"/>
<text x="127.95" y="439.9" font-size="5.8" text-anchor="middle" fill="#333">****</text>
<rect x="30.5" y="401.8" width="5.6" height="4.4" fill="none" stroke="#4a82c8" stroke-width="0.6"/>
<line x1="30.5" y1="404" x2="36.1" y2="404" stroke="#4a82c8" stroke-width="0.6"/>
<line x1="33.3" y1="400.8" x2="33.3" y2="401.8" stroke="#4a82c8" stroke-width="0.6"/>
<line x1="33.3" y1="406.2" x2="33.3" y2="407.2" stroke="#4a82c8" stroke-width="0.6"/>
<text x="40" y="405.9" font-size="5.4" text-anchor="start" fill="#222">Early BME</text>
<rect x="75.6" y="401.8" width="5.6" height="4.4" fill="none" stroke="#e8b030" stroke-width="0.6"/>
<line x1="75.6" y1="404" x2="81.2" y2="404" stroke="#e8b030" stroke-width="0.6"/>
<line x1="78.4" y1="400.8" x2="78.4" y2="401.8" stroke="#e8b030" stroke-width="0.6"/>
<line x1="78.4" y1="406.2" x2="78.4" y2="407.2" stroke="#e8b030" stroke-width="0.6"/>
<text x="85" y="405.9" font-size="5.4" text-anchor="start" fill="#222">Early pdECM</text>
<rect x="128.8" y="401.8" width="5.6" height="4.4" fill="none" stroke="#9a9a9a" stroke-width="0.6"/>
<line x1="128.8" y1="404" x2="134.4" y2="404" stroke="#9a9a9a" stroke-width="0.6"/>
<line x1="131.6" y1="400.8" x2="131.6" y2="401.8" stroke="#9a9a9a" stroke-width="0.6"/>
<line x1="131.6" y1="406.2" x2="131.6" y2="407.2" stroke="#9a9a9a" stroke-width="0.6"/>
<text x="137.7" y="405.9" font-size="5.4" text-anchor="start" fill="#222">Late pdECM</text>
<text x="224" y="412.2" font-size="15" text-anchor="start" fill="#000" font-weight="bold">h</text>
<text x="331" y="413.6" font-size="6.9" text-anchor="middle" fill="#222">87 gene modules</text>
<rect x="268.1" y="429" width="2.19" height="18.3" fill="#7eaad2" stroke="none" stroke-width="0.6"/>
<rect x="270.17" y="429" width="2.19" height="18.3" fill="#a8c8e2" stroke="none" stroke-width="0.6"/>
<rect x="272.23" y="429" width="2.19" height="18.3" fill="#cfe2ee" stroke="none" stroke-width="0.6"/>
<rect x="268.1" y="447.3" width="2.19" height="18" fill="#e2f0f2" stroke="none" stroke-width="0.6"/>
<rect x="270.17" y="447.3" width="2.19" height="18" fill="#cfe2ee" stroke="none" stroke-width="0.6"/>
<rect x="272.23" y="447.3" width="2.19" height="18" fill="#f8f0c4" stroke="none" stroke-width="0.6"/>
<rect x="268.1" y="465.3" width="2.19" height="18.1" fill="#f28c5c" stroke="none" stroke-width="0.6"/>
<rect x="270.17" y="465.3" width="2.19" height="18.1" fill="#f28c5c" stroke="none" stroke-width="0.6"/>
<rect x="272.23" y="465.3" width="2.19" height="18.1" fill="#f5a870" stroke="none" stroke-width="0.6"/>
<rect x="274.3" y="429" width="0.97" height="18.3" fill="#e2f0f2" stroke="none" stroke-width="0.6"/>
<rect x="275.15" y="429" width="0.97" height="18.3" fill="#f4f6e4" stroke="none" stroke-width="0.6"/>
<rect x="274.3" y="447.3" width="1.82" height="18" fill="#7eaad2" stroke="none" stroke-width="0.6"/>
<rect x="274.3" y="465.3" width="0.97" height="18.1" fill="#f8f0c4" stroke="none" stroke-width="0.6"/>
<rect x="275.15" y="465.3" width="0.97" height="18.1" fill="#fae2a6" stroke="none" stroke-width="0.6"/>
<rect x="276" y="429" width="1.54" height="18.3" fill="#7eaad2" stroke="none" stroke-width="0.6"/>
<rect x="277.42" y="429" width="1.54" height="18.3" fill="#a8c8e2" stroke="none" stroke-width="0.6"/>
<rect x="278.84" y="429" width="1.54" height="18.3" fill="#7eaad2" stroke="none" stroke-width="0.6"/>
<rect x="280.26" y="429" width="1.54" height="18.3" fill="#a8c8e2" stroke="none" stroke-width="0.6"/>
<rect x="281.68" y="429" width="1.54" height="18.3" fill="#7eaad2" stroke="none" stroke-width="0.6"/>
<rect x="283.1" y="429" width="1.54" height="18.3" fill="#cfe2ee" stroke="none" stroke-width="0.6"/>
<rect x="284.52" y="429" width="1.54" height="18.3" fill="#e2f0f2" stroke="none" stroke-width="0.6"/>
<rect x="285.94" y="429" width="1.54" height="18.3" fill="#7eaad2" stroke="none" stroke-width="0.6"/>
<rect x="287.36" y="429" width="1.54" height="18.3" fill="#a8c8e2" stroke="none" stroke-width="0.6"/>
<rect x="288.78" y="429" width="1.54" height="18.3" fill="#7eaad2" stroke="none" stroke-width="0.6"/>
<rect x="276" y="447.3" width="1.89" height="18" fill="#fae2a6" stroke="none" stroke-width="0.6"/>
<rect x="277.77" y="447.3" width="1.89" height="18" fill="#f8f0c4" stroke="none" stroke-width="0.6"/>
<rect x="279.55" y="447.3" width="1.89" height="18" fill="#fae2a6" stroke="none" stroke-width="0.6"/>
<rect x="281.32" y="447.3" width="1.89" height="18" fill="#f8cc90" stroke="none" stroke-width="0.6"/>
<rect x="283.1" y="447.3" width="1.89" height="18" fill="#fae2a6" stroke="none" stroke-width="0.6"/>
<rect x="284.88" y="447.3" width="1.89" height="18" fill="#f8f0c4" stroke="none" stroke-width="0.6"/>
<rect x="286.65" y="447.3" width="1.89" height="18" fill="#fae2a6" stroke="none" stroke-width="0.6"/>
<rect x="288.43" y="447.3" width="1.89" height="18" fill="#f8f0c4" stroke="none" stroke-width="0.6"/>
<rect x="276" y="465.3" width="1.89" height="18.1" fill="#f8f0c4" stroke="none" stroke-width="0.6"/>
<rect x="277.77" y="465.3" width="1.89" height="18.1" fill="#f4f6e4" stroke="none" stroke-width="0.6"/>
<rect x="279.55" y="465.3" width="1.89" height="18.1" fill="#f8f0c4" stroke="none" stroke-width="0.6"/>
<rect x="281.32" y="465.3" width="1.89" height="18.1" fill="#fae2a6" stroke="none" stroke-width="0.6"/>
<rect x="283.1" y="465.3" width="1.89" height="18.1" fill="#f8f0c4" stroke="none" stroke-width="0.6"/>
<rect x="284.88" y="465.3" width="1.89" height="18.1" fill="#f4f6e4" stroke="none" stroke-width="0.6"/>
<rect x="286.65" y="465.3" width="1.89" height="18.1" fill="#f8f0c4" stroke="none" stroke-width="0.6"/>
<rect x="288.43" y="465.3" width="1.89" height="18.1" fill="#f4f6e4" stroke="none" stroke-width="0.6"/>
<rect x="290.2" y="429" width="2.02" height="18.3" fill="#e2f0f2" stroke="none" stroke-width="0.6"/>
<rect x="292.1" y="429" width="2.02" height="18.3" fill="#eef6ee" stroke="none" stroke-width="0.6"/>
<rect x="294" y="429" width="2.02" height="18.3" fill="#f4f6e4" stroke="none" stroke-width="0.6"/>
<rect x="295.9" y="429" width="2.02" height="18.3" fill="#e2f0f2" stroke="none" stroke-width="0.6"/>
<rect x="290.2" y="447.3" width="2.02" height="18" fill="#7eaad2" stroke="none" stroke-width="0.6"/>
<rect x="292.1" y="447.3" width="2.02" height="18" fill="#7eaad2" stroke="none" stroke-width="0.6"/>
<rect x="294" y="447.3" width="2.02" height="18" fill="#a8c8e2" stroke="none" stroke-width="0.6"/>
<rect x="295.9" y="447.3" width="2.02" height="18" fill="#7eaad2" stroke="none" stroke-width="0.6"/>
<rect x="290.2" y="465.3" width="2.02" height="18.1" fill="#d4503a" stroke="none" stroke-width="0.6"/>
<rect x="292.1" y="465.3" width="2.02" height="18.1" fill="#d4503a" stroke="none" stroke-width="0.6"/>
<rect x="294" y="465.3" width="2.02" height="18.1" fill="#e06848" stroke="none" stroke-width="0.6"/>
<rect x="295.9" y="465.3" width="2.02" height="18.1" fill="#d4503a" stroke="none" stroke-width="0.6"/>
<rect x="297.8" y="429" width="1.61" height="18.3" fill="#fae2a6" stroke="none" stroke-width="0.6"/>
<rect x="299.29" y="429" width="1.61" height="18.3" fill="#f8cc90" stroke="none" stroke-width="0.6"/>
<rect x="300.77" y="429" width="1.61" height="18.3" fill="#fae2a6" stroke="none" stroke-width="0.6"/>
<rect x="302.26" y="429" width="1.61" height="18.3" fill="#fae2a6" stroke="none" stroke-width="0.6"/>
<rect x="303.74" y="429" width="1.61" height="18.3" fill="#f8f0c4" stroke="none" stroke-width="0.6"/>
<rect x="305.23" y="429" width="1.61" height="18.3" fill="#f8cc90" stroke="none" stroke-width="0.6"/>
<rect x="306.71" y="429" width="1.61" height="18.3" fill="#fae2a6" stroke="none" stroke-width="0.6"/>
<rect x="297.8" y="447.3" width="1.61" height="18" fill="#7eaad2" stroke="none" stroke-width="0.6"/>
<rect x="299.29" y="447.3" width="1.61" height="18" fill="#a8c8e2" stroke="none" stroke-width="0.6"/>
<rect x="300.77" y="447.3" width="1.61" height="18" fill="#a8c8e2" stroke="none" stroke-width="0.6"/>
<rect x="302.26" y="447.3" width="1.61" height="18" fill="#7eaad2" stroke="none" stroke-width="0.6"/>
<rect x="303.74" y="447.3" width="1.61" height="18" fill="#a8c8e2" stroke="none" stroke-width="0.6"/>
<rect x="305.23" y="447.3" width="1.61" height="18" fill="#e2f0f2" stroke="none" stroke-width="0.6"/>
<rect x="306.71" y="447.3" width="1.61" height="18" fill="#cfe2ee" stroke="none" stroke-width="0.6"/>
<rect x="297.8" y="465.3" width="1.85" height="18.1" fill="#e06848" stroke="none" stroke-width="0.6"/>
<rect x="299.53" y="465.3" width="1.85" height="18.1" fill="#f28c5c" stroke="none" stroke-width="0.6"/>
<rect x="301.27" y="465.3" width="1.85" height="18.1" fill="#e06848" stroke="none" stroke-width="0.6"/>
<rect x="303" y="465.3" width="1.85" height="18.1" fill="#f28c5c" stroke="none" stroke-width="0.6"/>
<rect x="304.73" y="465.3" width="1.85" height="18.1" fill="#e06848" stroke="none" stroke-width="0.6"/>
<rect x="306.47" y="465.3" width="1.85" height="18.1" fill="#f5a870" stroke="none" stroke-width="0.6"/>
<rect x="308.2" y="429" width="1.72" height="18.3" fill="#e2f0f2" stroke="none" stroke-width="0.6"/>
<rect x="308.2" y="447.3" width="1.72" height="18" fill="#a8c8e2" stroke="none" stroke-width="0.6"/>
<rect x="308.2" y="465.3" width="1.72" height="18.1" fill="#a8c8e2" stroke="none" stroke-width="0.6"/>
<rect x="309.8" y="429" width="2.04" height="18.3" fill="#f28c5c" stroke="none" stroke-width="0.6"/>
<rect x="311.73" y="429" width="2.04" height="18.3" fill="#f28c5c" stroke="none" stroke-width="0.6"/>
<rect x="313.65" y="429" width="2.04" height="18.3" fill="#f5a870" stroke="none" stroke-width="0.6"/>
<rect x="315.57" y="429" width="2.04" height="18.3" fill="#f28c5c" stroke="none" stroke-width="0.6"/>
<rect x="309.8" y="447.3" width="2.69" height="18" fill="#7eaad2" stroke="none" stroke-width="0.6"/>
<rect x="312.37" y="447.3" width="2.69" height="18" fill="#a8c8e2" stroke="none" stroke-width="0.6"/>
<rect x="314.93" y="447.3" width="2.69" height="18" fill="#7eaad2" stroke="none" stroke-width="0.6"/>
<rect x="309.8" y="465.3" width="2.69" height="18.1" fill="#f8f0c4" stroke="none" stroke-width="0.6"/>
<rect x="312.37" y="465.3" width="2.69" height="18.1" fill="#f4f6e4" stroke="none" stroke-width="0.6"/>
<rect x="314.93" y="465.3" width="2.69" height="18.1" fill="#f8f0c4" stroke="none" stroke-width="0.6"/>
<rect x="317.5" y="429" width="1.96" height="18.3" fill="#f8cc90" stroke="none" stroke-width="0.6"/>
<rect x="319.34" y="429" width="1.96" height="18.3" fill="#fae2a6" stroke="none" stroke-width="0.6"/>
<rect x="321.18" y="429" width="1.96" height="18.3" fill="#f8cc90" stroke="none" stroke-width="0.6"/>
<rect x="323.01" y="429" width="1.96" height="18.3" fill="#fae2a6" stroke="none" stroke-width="0.6"/>
<rect x="324.85" y="429" width="1.96" height="18.3" fill="#fae2a6" stroke="none" stroke-width="0.6"/>
<rect x="326.69" y="429" width="1.96" height="18.3" fill="#f8cc90" stroke="none" stroke-width="0.6"/>
<rect x="328.52" y="429" width="1.96" height="18.3" fill="#f8cc90" stroke="none" stroke-width="0.6"/>
<rect x="330.36" y="429" width="1.96" height="18.3" fill="#fae2a6" stroke="none" stroke-width="0.6"/>
<rect x="317.5" y="447.3" width="2.57" height="18" fill="#fae2a6" stroke="none" stroke-width="0.6"/>
<rect x="319.95" y="447.3" width="2.57" height="18" fill="#f8f0c4" stroke="none" stroke-width="0.6"/>
<rect x="322.4" y="447.3" width="2.57" height="18" fill="#fae2a6" stroke="none" stroke-width="0.6"/>
<rect x="324.85" y="447.3" width="2.57" height="18" fill="#f8f0c4" stroke="none" stroke-width="0.6"/>
<rect x="327.3" y="447.3" width="2.57" height="18" fill="#f4f6e4" stroke="none" stroke-width="0.6"/>
<rect x="329.75" y="447.3" width="2.57" height="18" fill="#f8f0c4" stroke="none" stroke-width="0.6"/>
<rect x="317.5" y="465.3" width="2.57" height="18.1" fill="#eef6ee" stroke="none" stroke-width="0.6"/>
<rect x="319.95" y="465.3" width="2.57" height="18.1" fill="#f4f6e4" stroke="none" stroke-width="0.6"/>
<rect x="322.4" y="465.3" width="2.57" height="18.1" fill="#f8f0c4" stroke="none" stroke-width="0.6"/>
<rect x="324.85" y="465.3" width="2.57" height="18.1" fill="#e2f0f2" stroke="none" stroke-width="0.6"/>
<rect x="327.3" y="465.3" width="2.57" height="18.1" fill="#f4f6e4" stroke="none" stroke-width="0.6"/>
<rect x="329.75" y="465.3" width="2.57" height="18.1" fill="#f8f0c4" stroke="none" stroke-width="0.6"/>
<rect x="332.2" y="429" width="2.12" height="18.3" fill="#f5a870" stroke="none" stroke-width="0.6"/>
<rect x="334.2" y="429" width="2.12" height="18.3" fill="#f28c5c" stroke="none" stroke-width="0.6"/>
<rect x="336.2" y="429" width="2.12" height="18.3" fill="#f5a870" stroke="none" stroke-width="0.6"/>
<rect x="338.2" y="429" width="2.12" height="18.3" fill="#f8cc90" stroke="none" stroke-width="0.6"/>
<rect x="340.2" y="429" width="2.12" height="18.3" fill="#f5a870" stroke="none" stroke-width="0.6"/>
<rect x="342.2" y="429" width="2.12" height="18.3" fill="#f5a870" stroke="none" stroke-width="0.6"/>
<rect x="344.2" y="429" width="2.12" height="18.3" fill="#f5a870" stroke="none" stroke-width="0.6"/>
<rect x="332.2" y="447.3" width="2.45" height="18" fill="#eef6ee" stroke="none" stroke-width="0.6"/>
<rect x="334.53" y="447.3" width="2.45" height="18" fill="#f8f0c4" stroke="none" stroke-width="0.6"/>
<rect x="336.87" y="447.3" width="2.45" height="18" fill="#f4f6e4" stroke="none" stroke-width="0.6"/>
<rect x="339.2" y="447.3" width="2.45" height="18" fill="#eef6ee" stroke="none" stroke-width="0.6"/>
<rect x="341.53" y="447.3" width="2.45" height="18" fill="#f4f6e4" stroke="none" stroke-width="0.6"/>
<rect x="343.87" y="447.3" width="2.45" height="18" fill="#f8f0c4" stroke="none" stroke-width="0.6"/>
<rect x="332.2" y="465.3" width="2.45" height="18.1" fill="#f4f6e4" stroke="none" stroke-width="0.6"/>
<rect x="334.53" y="465.3" width="2.45" height="18.1" fill="#f8f0c4" stroke="none" stroke-width="0.6"/>
<rect x="336.87" y="465.3" width="2.45" height="18.1" fill="#f4f6e4" stroke="none" stroke-width="0.6"/>
<rect x="339.2" y="465.3" width="2.45" height="18.1" fill="#eef6ee" stroke="none" stroke-width="0.6"/>
<rect x="341.53" y="465.3" width="2.45" height="18.1" fill="#f8f0c4" stroke="none" stroke-width="0.6"/>
<rect x="343.87" y="465.3" width="2.45" height="18.1" fill="#f4f6e4" stroke="none" stroke-width="0.6"/>
<rect x="346.2" y="429" width="2.02" height="18.3" fill="#eef6ee" stroke="none" stroke-width="0.6"/>
<rect x="348.1" y="429" width="2.02" height="18.3" fill="#e2f0f2" stroke="none" stroke-width="0.6"/>
<rect x="350" y="429" width="2.02" height="18.3" fill="#f8f0c4" stroke="none" stroke-width="0.6"/>
<rect x="346.2" y="447.3" width="2.02" height="18" fill="#f8cc90" stroke="none" stroke-width="0.6"/>
<rect x="348.1" y="447.3" width="2.02" height="18" fill="#f5a870" stroke="none" stroke-width="0.6"/>
<rect x="350" y="447.3" width="2.02" height="18" fill="#f8cc90" stroke="none" stroke-width="0.6"/>
<rect x="346.2" y="465.3" width="2.02" height="18.1" fill="#fae2a6" stroke="none" stroke-width="0.6"/>
<rect x="348.1" y="465.3" width="2.02" height="18.1" fill="#f8cc90" stroke="none" stroke-width="0.6"/>
<rect x="350" y="465.3" width="2.02" height="18.1" fill="#fae2a6" stroke="none" stroke-width="0.6"/>
<rect x="351.9" y="429" width="1.54" height="18.3" fill="#cfe2ee" stroke="none" stroke-width="0.6"/>
<rect x="353.32" y="429" width="1.54" height="18.3" fill="#e2f0f2" stroke="none" stroke-width="0.6"/>
<rect x="354.74" y="429" width="1.54" height="18.3" fill="#cfe2ee" stroke="none" stroke-width="0.6"/>
<rect x="356.16" y="429" width="1.54" height="18.3" fill="#eef6ee" stroke="none" stroke-width="0.6"/>
<rect x="357.58" y="429" width="1.54" height="18.3" fill="#e2f0f2" stroke="none" stroke-width="0.6"/>
<rect x="351.9" y="447.3" width="1.9" height="18" fill="#f8cc90" stroke="none" stroke-width="0.6"/>
<rect x="353.67" y="447.3" width="1.9" height="18" fill="#f8cc90" stroke="none" stroke-width="0.6"/>
<rect x="355.45" y="447.3" width="1.9" height="18" fill="#f5a870" stroke="none" stroke-width="0.6"/>
<rect x="357.23" y="447.3" width="1.9" height="18" fill="#f8cc90" stroke="none" stroke-width="0.6"/>
<rect x="351.9" y="465.3" width="1.9" height="18.1" fill="#f8f0c4" stroke="none" stroke-width="0.6"/>
<rect x="353.67" y="465.3" width="1.9" height="18.1" fill="#f4f6e4" stroke="none" stroke-width="0.6"/>
<rect x="355.45" y="465.3" width="1.9" height="18.1" fill="#f8f0c4" stroke="none" stroke-width="0.6"/>
<rect x="357.23" y="465.3" width="1.9" height="18.1" fill="#f4f6e4" stroke="none" stroke-width="0.6"/>
<rect x="359" y="429" width="1.87" height="18.3" fill="#f8f0c4" stroke="none" stroke-width="0.6"/>
<rect x="360.75" y="429" width="1.87" height="18.3" fill="#f4f6e4" stroke="none" stroke-width="0.6"/>
<rect x="362.49" y="429" width="1.87" height="18.3" fill="#f8f0c4" stroke="none" stroke-width="0.6"/>
<rect x="364.24" y="429" width="1.87" height="18.3" fill="#eef6ee" stroke="none" stroke-width="0.6"/>
<rect x="365.98" y="429" width="1.87" height="18.3" fill="#f8f0c4" stroke="none" stroke-width="0.6"/>
<rect x="367.73" y="429" width="1.87" height="18.3" fill="#a8c8e2" stroke="none" stroke-width="0.6"/>
<rect x="369.47" y="429" width="1.87" height="18.3" fill="#e2f0f2" stroke="none" stroke-width="0.6"/>
<rect x="371.22" y="429" width="1.87" height="18.3" fill="#f8f0c4" stroke="none" stroke-width="0.6"/>
<rect x="372.96" y="429" width="1.87" height="18.3" fill="#f4f6e4" stroke="none" stroke-width="0.6"/>
<rect x="374.71" y="429" width="1.87" height="18.3" fill="#f8f0c4" stroke="none" stroke-width="0.6"/>
<rect x="376.45" y="429" width="1.87" height="18.3" fill="#cfe2ee" stroke="none" stroke-width="0.6"/>
<rect x="359" y="447.3" width="2.86" height="18" fill="#f8cc90" stroke="none" stroke-width="0.6"/>
<rect x="361.74" y="447.3" width="2.86" height="18" fill="#f8cc90" stroke="none" stroke-width="0.6"/>
<rect x="364.49" y="447.3" width="2.86" height="18" fill="#f8cc90" stroke="none" stroke-width="0.6"/>
<rect x="367.23" y="447.3" width="2.86" height="18" fill="#f8cc90" stroke="none" stroke-width="0.6"/>
<rect x="369.97" y="447.3" width="2.86" height="18" fill="#fae2a6" stroke="none" stroke-width="0.6"/>
<rect x="372.71" y="447.3" width="2.86" height="18" fill="#f8cc90" stroke="none" stroke-width="0.6"/>
<rect x="375.46" y="447.3" width="2.86" height="18" fill="#f8cc90" stroke="none" stroke-width="0.6"/>
<rect x="359" y="465.3" width="2.04" height="18.1" fill="#eef6ee" stroke="none" stroke-width="0.6"/>
<rect x="360.92" y="465.3" width="2.04" height="18.1" fill="#f4f6e4" stroke="none" stroke-width="0.6"/>
<rect x="362.84" y="465.3" width="2.04" height="18.1" fill="#f8f0c4" stroke="none" stroke-width="0.6"/>
<rect x="364.76" y="465.3" width="2.04" height="18.1" fill="#cfe2ee" stroke="none" stroke-width="0.6"/>
<rect x="366.68" y="465.3" width="2.04" height="18.1" fill="#e2f0f2" stroke="none" stroke-width="0.6"/>
<rect x="368.6" y="465.3" width="2.04" height="18.1" fill="#eef6ee" stroke="none" stroke-width="0.6"/>
<rect x="370.52" y="465.3" width="2.04" height="18.1" fill="#f4f6e4" stroke="none" stroke-width="0.6"/>
<rect x="372.44" y="465.3" width="2.04" height="18.1" fill="#f8f0c4" stroke="none" stroke-width="0.6"/>
<rect x="374.36" y="465.3" width="2.04" height="18.1" fill="#f4f6e4" stroke="none" stroke-width="0.6"/>
<rect x="376.28" y="465.3" width="2.04" height="18.1" fill="#cfe2ee" stroke="none" stroke-width="0.6"/>
<rect x="378.2" y="429" width="2.39" height="18.3" fill="#fae2a6" stroke="none" stroke-width="0.6"/>
<rect x="380.47" y="429" width="2.39" height="18.3" fill="#fae2a6" stroke="none" stroke-width="0.6"/>
<rect x="382.74" y="429" width="2.39" height="18.3" fill="#f8cc90" stroke="none" stroke-width="0.6"/>
<rect x="385.01" y="429" width="2.39" height="18.3" fill="#fae2a6" stroke="none" stroke-width="0.6"/>
<rect x="387.28" y="429" width="2.39" height="18.3" fill="#fae2a6" stroke="none" stroke-width="0.6"/>
<rect x="389.55" y="429" width="2.39" height="18.3" fill="#f8cc90" stroke="none" stroke-width="0.6"/>
<rect x="391.82" y="429" width="2.39" height="18.3" fill="#fae2a6" stroke="none" stroke-width="0.6"/>
<rect x="394.09" y="429" width="2.39" height="18.3" fill="#fae2a6" stroke="none" stroke-width="0.6"/>
<rect x="396.36" y="429" width="2.39" height="18.3" fill="#f8cc90" stroke="none" stroke-width="0.6"/>
<rect x="398.63" y="429" width="2.39" height="18.3" fill="#fae2a6" stroke="none" stroke-width="0.6"/>
<rect x="378.2" y="447.3" width="2.96" height="18" fill="#f8cc90" stroke="none" stroke-width="0.6"/>
<rect x="381.04" y="447.3" width="2.96" height="18" fill="#f8cc90" stroke="none" stroke-width="0.6"/>
<rect x="383.88" y="447.3" width="2.96" height="18" fill="#fae2a6" stroke="none" stroke-width="0.6"/>
<rect x="386.71" y="447.3" width="2.96" height="18" fill="#f8cc90" stroke="none" stroke-width="0.6"/>
<rect x="389.55" y="447.3" width="2.96" height="18" fill="#f8cc90" stroke="none" stroke-width="0.6"/>
<rect x="392.39" y="447.3" width="2.96" height="18" fill="#f8cc90" stroke="none" stroke-width="0.6"/>
<rect x="395.22" y="447.3" width="2.96" height="18" fill="#f5a870" stroke="none" stroke-width="0.6"/>
<rect x="398.06" y="447.3" width="2.96" height="18" fill="#f8cc90" stroke="none" stroke-width="0.6"/>
<rect x="378.2" y="465.3" width="2.39" height="18.1" fill="#eef6ee" stroke="none" stroke-width="0.6"/>
<rect x="380.47" y="465.3" width="2.39" height="18.1" fill="#f4f6e4" stroke="none" stroke-width="0.6"/>
<rect x="382.74" y="465.3" width="2.39" height="18.1" fill="#f8f0c4" stroke="none" stroke-width="0.6"/>
<rect x="385.01" y="465.3" width="2.39" height="18.1" fill="#f4f6e4" stroke="none" stroke-width="0.6"/>
<rect x="387.28" y="465.3" width="2.39" height="18.1" fill="#cfe2ee" stroke="none" stroke-width="0.6"/>
<rect x="389.55" y="465.3" width="2.39" height="18.1" fill="#f8f0c4" stroke="none" stroke-width="0.6"/>
<rect x="391.82" y="465.3" width="2.39" height="18.1" fill="#eef6ee" stroke="none" stroke-width="0.6"/>
<rect x="394.09" y="465.3" width="2.39" height="18.1" fill="#cfe2ee" stroke="none" stroke-width="0.6"/>
<rect x="396.36" y="465.3" width="2.39" height="18.1" fill="#e2f0f2" stroke="none" stroke-width="0.6"/>
<rect x="398.63" y="465.3" width="2.39" height="18.1" fill="#cfe2ee" stroke="none" stroke-width="0.6"/>
<line x1="268.1" y1="429" x2="268.1" y2="483.4" stroke="#ffffff" stroke-width="0.15" opacity="0.35"/>
<line x1="269.63" y1="429" x2="269.63" y2="483.4" stroke="#ffffff" stroke-width="0.15" opacity="0.35"/>
<line x1="271.15" y1="429" x2="271.15" y2="483.4" stroke="#ffffff" stroke-width="0.15" opacity="0.35"/>
<line x1="272.68" y1="429" x2="272.68" y2="483.4" stroke="#ffffff" stroke-width="0.15" opacity="0.35"/>
<line x1="274.21" y1="429" x2="274.21" y2="483.4" stroke="#ffffff" stroke-width="0.15" opacity="0.35"/>
<line x1="275.73" y1="429" x2="275.73" y2="483.4" stroke="#ffffff" stroke-width="0.15" opacity="0.35"/>
<line x1="277.26" y1="429" x2="277.26" y2="483.4" stroke="#ffffff" stroke-width="0.15" opacity="0.35"/>
<line x1="278.79" y1="429" x2="278.79" y2="483.4" stroke="#ffffff" stroke-width="0.15" opacity="0.35"/>
<line x1="280.31" y1="429" x2="280.31" y2="483.4" stroke="#ffffff" stroke-width="0.15" opacity="0.35"/>
<line x1="281.84" y1="429" x2="281.84" y2="483.4" stroke="#ffffff" stroke-width="0.15" opacity="0.35"/>
<line x1="283.36" y1="429" x2="283.36" y2="483.4" stroke="#ffffff" stroke-width="0.15" opacity="0.35"/>
<line x1="284.89" y1="429" x2="284.89" y2="483.4" stroke="#ffffff" stroke-width="0.15" opacity="0.35"/>
<line x1="286.42" y1="429" x2="286.42" y2="483.4" stroke="#ffffff" stroke-width="0.15" opacity="0.35"/>
<line x1="287.94" y1="429" x2="287.94" y2="483.4" stroke="#ffffff" stroke-width="0.15" opacity="0.35"/>
<line x1="289.47" y1="429" x2="289.47" y2="483.4" stroke="#ffffff" stroke-width="0.15" opacity="0.35"/>
<line x1="291" y1="429" x2="291" y2="483.4" stroke="#ffffff" stroke-width="0.15" opacity="0.35"/>
<line x1="292.52" y1="429" x2="292.52" y2="483.4" stroke="#ffffff" stroke-width="0.15" opacity="0.35"/>
<line x1="294.05" y1="429" x2="294.05" y2="483.4" stroke="#ffffff" stroke-width="0.15" opacity="0.35"/>
<line x1="295.58" y1="429" x2="295.58" y2="483.4" stroke="#ffffff" stroke-width="0.15" opacity="0.35"/>
<line x1="297.1" y1="429" x2="297.1" y2="483.4" stroke="#ffffff" stroke-width="0.15" opacity="0.35"/>
<line x1="298.63" y1="429" x2="298.63" y2="483.4" stroke="#ffffff" stroke-width="0.15" opacity="0.35"/>
<line x1="300.16" y1="429" x2="300.16" y2="483.4" stroke="#ffffff" stroke-width="0.15" opacity="0.35"/>
<line x1="301.68" y1="429" x2="301.68" y2="483.4" stroke="#ffffff" stroke-width="0.15" opacity="0.35"/>
<line x1="303.21" y1="429" x2="303.21" y2="483.4" stroke="#ffffff" stroke-width="0.15" opacity="0.35"/>
<line x1="304.73" y1="429" x2="304.73" y2="483.4" stroke="#ffffff" stroke-width="0.15" opacity="0.35"/>
<line x1="306.26" y1="429" x2="306.26" y2="483.4" stroke="#ffffff" stroke-width="0.15" opacity="0.35"/>
<line x1="307.79" y1="429" x2="307.79" y2="483.4" stroke="#ffffff" stroke-width="0.15" opacity="0.35"/>
<line x1="309.31" y1="429" x2="309.31" y2="483.4" stroke="#ffffff" stroke-width="0.15" opacity="0.35"/>
<line x1="310.84" y1="429" x2="310.84" y2="483.4" stroke="#ffffff" stroke-width="0.15" opacity="0.35"/>
<line x1="312.37" y1="429" x2="312.37" y2="483.4" stroke="#ffffff" stroke-width="0.15" opacity="0.35"/>
<line x1="313.89" y1="429" x2="313.89" y2="483.4" stroke="#ffffff" stroke-width="0.15" opacity="0.35"/>
<line x1="315.42" y1="429" x2="315.42" y2="483.4" stroke="#ffffff" stroke-width="0.15" opacity="0.35"/>
<line x1="316.95" y1="429" x2="316.95" y2="483.4" stroke="#ffffff" stroke-width="0.15" opacity="0.35"/>
<line x1="318.47" y1="429" x2="318.47" y2="483.4" stroke="#ffffff" stroke-width="0.15" opacity="0.35"/>
<line x1="320" y1="429" x2="320" y2="483.4" stroke="#ffffff" stroke-width="0.15" opacity="0.35"/>
<line x1="321.53" y1="429" x2="321.53" y2="483.4" stroke="#ffffff" stroke-width="0.15" opacity="0.35"/>
<line x1="323.05" y1="429" x2="323.05" y2="483.4" stroke="#ffffff" stroke-width="0.15" opacity="0.35"/>
<line x1="324.58" y1="429" x2="324.58" y2="483.4" stroke="#ffffff" stroke-width="0.15" opacity="0.35"/>
<line x1="326.1" y1="429" x2="326.1" y2="483.4" stroke="#ffffff" stroke-width="0.15" opacity="0.35"/>
<line x1="327.63" y1="429" x2="327.63" y2="483.4" stroke="#ffffff" stroke-width="0.15" opacity="0.35"/>
<line x1="329.16" y1="429" x2="329.16" y2="483.4" stroke="#ffffff" stroke-width="0.15" opacity="0.35"/>
<line x1="330.68" y1="429" x2="330.68" y2="483.4" stroke="#ffffff" stroke-width="0.15" opacity="0.35"/>
<line x1="332.21" y1="429" x2="332.21" y2="483.4" stroke="#ffffff" stroke-width="0.15" opacity="0.35"/>
<line x1="333.74" y1="429" x2="333.74" y2="483.4" stroke="#ffffff" stroke-width="0.15" opacity="0.35"/>
<line x1="335.26" y1="429" x2="335.26" y2="483.4" stroke="#ffffff" stroke-width="0.15" opacity="0.35"/>
<line x1="336.79" y1="429" x2="336.79" y2="483.4" stroke="#ffffff" stroke-width="0.15" opacity="0.35"/>
<line x1="338.32" y1="429" x2="338.32" y2="483.4" stroke="#ffffff" stroke-width="0.15" opacity="0.35"/>
<line x1="339.84" y1="429" x2="339.84" y2="483.4" stroke="#ffffff" stroke-width="0.15" opacity="0.35"/>
<line x1="341.37" y1="429" x2="341.37" y2="483.4" stroke="#ffffff" stroke-width="0.15" opacity="0.35"/>
<line x1="342.9" y1="429" x2="342.9" y2="483.4" stroke="#ffffff" stroke-width="0.15" opacity="0.35"/>
<line x1="344.42" y1="429" x2="344.42" y2="483.4" stroke="#ffffff" stroke-width="0.15" opacity="0.35"/>
<line x1="345.95" y1="429" x2="345.95" y2="483.4" stroke="#ffffff" stroke-width="0.15" opacity="0.35"/>
<line x1="347.47" y1="429" x2="347.47" y2="483.4" stroke="#ffffff" stroke-width="0.15" opacity="0.35"/>
<line x1="349" y1="429" x2="349" y2="483.4" stroke="#ffffff" stroke-width="0.15" opacity="0.35"/>
<line x1="350.53" y1="429" x2="350.53" y2="483.4" stroke="#ffffff" stroke-width="0.15" opacity="0.35"/>
<line x1="352.05" y1="429" x2="352.05" y2="483.4" stroke="#ffffff" stroke-width="0.15" opacity="0.35"/>
<line x1="353.58" y1="429" x2="353.58" y2="483.4" stroke="#ffffff" stroke-width="0.15" opacity="0.35"/>
<line x1="355.11" y1="429" x2="355.11" y2="483.4" stroke="#ffffff" stroke-width="0.15" opacity="0.35"/>
<line x1="356.63" y1="429" x2="356.63" y2="483.4" stroke="#ffffff" stroke-width="0.15" opacity="0.35"/>
<line x1="358.16" y1="429" x2="358.16" y2="483.4" stroke="#ffffff" stroke-width="0.15" opacity="0.35"/>
<line x1="359.69" y1="429" x2="359.69" y2="483.4" stroke="#ffffff" stroke-width="0.15" opacity="0.35"/>
<line x1="361.21" y1="429" x2="361.21" y2="483.4" stroke="#ffffff" stroke-width="0.15" opacity="0.35"/>
<line x1="362.74" y1="429" x2="362.74" y2="483.4" stroke="#ffffff" stroke-width="0.15" opacity="0.35"/>
<line x1="364.27" y1="429" x2="364.27" y2="483.4" stroke="#ffffff" stroke-width="0.15" opacity="0.35"/>
<line x1="365.79" y1="429" x2="365.79" y2="483.4" stroke="#ffffff" stroke-width="0.15" opacity="0.35"/>
<line x1="367.32" y1="429" x2="367.32" y2="483.4" stroke="#ffffff" stroke-width="0.15" opacity="0.35"/>
<line x1="368.84" y1="429" x2="368.84" y2="483.4" stroke="#ffffff" stroke-width="0.15" opacity="0.35"/>
<line x1="370.37" y1="429" x2="370.37" y2="483.4" stroke="#ffffff" stroke-width="0.15" opacity="0.35"/>
<line x1="371.9" y1="429" x2="371.9" y2="483.4" stroke="#ffffff" stroke-width="0.15" opacity="0.35"/>
<line x1="373.42" y1="429" x2="373.42" y2="483.4" stroke="#ffffff" stroke-width="0.15" opacity="0.35"/>
<line x1="374.95" y1="429" x2="374.95" y2="483.4" stroke="#ffffff" stroke-width="0.15" opacity="0.35"/>
<line x1="376.48" y1="429" x2="376.48" y2="483.4" stroke="#ffffff" stroke-width="0.15" opacity="0.35"/>
<line x1="378" y1="429" x2="378" y2="483.4" stroke="#ffffff" stroke-width="0.15" opacity="0.35"/>
<line x1="379.53" y1="429" x2="379.53" y2="483.4" stroke="#ffffff" stroke-width="0.15" opacity="0.35"/>
<line x1="381.06" y1="429" x2="381.06" y2="483.4" stroke="#ffffff" stroke-width="0.15" opacity="0.35"/>
<line x1="382.58" y1="429" x2="382.58" y2="483.4" stroke="#ffffff" stroke-width="0.15" opacity="0.35"/>
<line x1="384.11" y1="429" x2="384.11" y2="483.4" stroke="#ffffff" stroke-width="0.15" opacity="0.35"/>
<line x1="385.64" y1="429" x2="385.64" y2="483.4" stroke="#ffffff" stroke-width="0.15" opacity="0.35"/>
<line x1="387.16" y1="429" x2="387.16" y2="483.4" stroke="#ffffff" stroke-width="0.15" opacity="0.35"/>
<line x1="388.69" y1="429" x2="388.69" y2="483.4" stroke="#ffffff" stroke-width="0.15" opacity="0.35"/>
<line x1="390.21" y1="429" x2="390.21" y2="483.4" stroke="#ffffff" stroke-width="0.15" opacity="0.35"/>
<line x1="391.74" y1="429" x2="391.74" y2="483.4" stroke="#ffffff" stroke-width="0.15" opacity="0.35"/>
<line x1="393.27" y1="429" x2="393.27" y2="483.4" stroke="#ffffff" stroke-width="0.15" opacity="0.35"/>
<line x1="394.79" y1="429" x2="394.79" y2="483.4" stroke="#ffffff" stroke-width="0.15" opacity="0.35"/>
<line x1="396.32" y1="429" x2="396.32" y2="483.4" stroke="#ffffff" stroke-width="0.15" opacity="0.35"/>
<line x1="397.85" y1="429" x2="397.85" y2="483.4" stroke="#ffffff" stroke-width="0.15" opacity="0.35"/>
<line x1="399.37" y1="429" x2="399.37" y2="483.4" stroke="#ffffff" stroke-width="0.15" opacity="0.35"/>
<line x1="400.9" y1="429" x2="400.9" y2="483.4" stroke="#ffffff" stroke-width="0.15" opacity="0.35"/>
<text x="267.2" y="441.8" font-size="6.9" text-anchor="end" fill="#222">Early pdECM</text>
<text x="267.2" y="459.7" font-size="6.9" text-anchor="end" fill="#222">Late pdECM</text>
<text x="267.2" y="477.3" font-size="6.9" text-anchor="end" fill="#222">Early BME</text>
<line x1="278.7" y1="419.3" x2="297.8" y2="419.3" stroke="#8a8a8a" stroke-width="0.3"/>
<line x1="278.7" y1="419.3" x2="278.7" y2="425.4" stroke="#8a8a8a" stroke-width="0.3"/>
<line x1="297.8" y1="419.3" x2="297.8" y2="423.2" stroke="#8a8a8a" stroke-width="0.3"/>
<line x1="321.9" y1="422.3" x2="380" y2="422.3" stroke="#8a8a8a" stroke-width="0.3"/>
<line x1="351.4" y1="418.5" x2="351.4" y2="422.3" stroke="#8a8a8a" stroke-width="0.3"/>
<line x1="321.9" y1="422.3" x2="321.9" y2="424.5" stroke="#8a8a8a" stroke-width="0.3"/>
<line x1="380" y1="422.3" x2="380" y2="425" stroke="#8a8a8a" stroke-width="0.3"/>
<line x1="312" y1="424.5" x2="334" y2="424.5" stroke="#8a8a8a" stroke-width="0.3"/>
<line x1="366" y1="425" x2="395" y2="425" stroke="#8a8a8a" stroke-width="0.3"/>
<line x1="269" y1="426.8" x2="276" y2="426.8" stroke="#8a8a8a" stroke-width="0.3"/>
<line x1="269" y1="426.8" x2="269" y2="429" stroke="#8a8a8a" stroke-width="0.3"/>
<line x1="276" y1="426.8" x2="276" y2="429" stroke="#8a8a8a" stroke-width="0.3"/>
<line x1="279" y1="426.8" x2="289" y2="426.8" stroke="#8a8a8a" stroke-width="0.3"/>
<line x1="279" y1="426.8" x2="279" y2="429" stroke="#8a8a8a" stroke-width="0.3"/>
<line x1="289" y1="426.8" x2="289" y2="429" stroke="#8a8a8a" stroke-width="0.3"/>
<line x1="289" y1="425.5" x2="300" y2="425.5" stroke="#8a8a8a" stroke-width="0.3"/>
<line x1="289" y1="425.5" x2="289" y2="429" stroke="#8a8a8a" stroke-width="0.3"/>
<line x1="300" y1="425.5" x2="300" y2="429" stroke="#8a8a8a" stroke-width="0.3"/>
<line x1="300" y1="426.8" x2="309" y2="426.8" stroke="#8a8a8a" stroke-width="0.3"/>
<line x1="300" y1="426.8" x2="300" y2="429" stroke="#8a8a8a" stroke-width="0.3"/>
<line x1="309" y1="426.8" x2="309" y2="429" stroke="#8a8a8a" stroke-width="0.3"/>
<line x1="310" y1="427.3" x2="316" y2="427.3" stroke="#8a8a8a" stroke-width="0.3"/>
<line x1="310" y1="427.3" x2="310" y2="429" stroke="#8a8a8a" stroke-width="0.3"/>
<line x1="316" y1="427.3" x2="316" y2="429" stroke="#8a8a8a" stroke-width="0.3"/>
<line x1="318" y1="426.8" x2="333" y2="426.8" stroke="#8a8a8a" stroke-width="0.3"/>
<line x1="318" y1="426.8" x2="318" y2="429" stroke="#8a8a8a" stroke-width="0.3"/>
<line x1="333" y1="426.8" x2="333" y2="429" stroke="#8a8a8a" stroke-width="0.3"/>
<line x1="333" y1="426.6" x2="346" y2="426.6" stroke="#8a8a8a" stroke-width="0.3"/>
<line x1="333" y1="426.6" x2="333" y2="429" stroke="#8a8a8a" stroke-width="0.3"/>
<line x1="346" y1="426.6" x2="346" y2="429" stroke="#8a8a8a" stroke-width="0.3"/>
<line x1="347" y1="427.3" x2="352" y2="427.3" stroke="#8a8a8a" stroke-width="0.3"/>
<line x1="347" y1="427.3" x2="347" y2="429" stroke="#8a8a8a" stroke-width="0.3"/>
<line x1="352" y1="427.3" x2="352" y2="429" stroke="#8a8a8a" stroke-width="0.3"/>
<line x1="353" y1="426.9" x2="360" y2="426.9" stroke="#8a8a8a" stroke-width="0.3"/>
<line x1="353" y1="426.9" x2="353" y2="429" stroke="#8a8a8a" stroke-width="0.3"/>
<line x1="360" y1="426.9" x2="360" y2="429" stroke="#8a8a8a" stroke-width="0.3"/>
<line x1="361" y1="426.6" x2="377" y2="426.6" stroke="#8a8a8a" stroke-width="0.3"/>
<line x1="361" y1="426.6" x2="361" y2="429" stroke="#8a8a8a" stroke-width="0.3"/>
<line x1="377" y1="426.6" x2="377" y2="429" stroke="#8a8a8a" stroke-width="0.3"/>
<line x1="378" y1="427" x2="390" y2="427" stroke="#8a8a8a" stroke-width="0.3"/>
<line x1="378" y1="427" x2="378" y2="429" stroke="#8a8a8a" stroke-width="0.3"/>
<line x1="390" y1="427" x2="390" y2="429" stroke="#8a8a8a" stroke-width="0.3"/>
<line x1="390" y1="426.8" x2="400" y2="426.8" stroke="#8a8a8a" stroke-width="0.3"/>
<line x1="390" y1="426.8" x2="390" y2="429" stroke="#8a8a8a" stroke-width="0.3"/>
<line x1="400" y1="426.8" x2="400" y2="429" stroke="#8a8a8a" stroke-width="0.3"/>
<line x1="278.3" y1="483.6" x2="268.5" y2="486.8" stroke="#4a9a3a" stroke-width="0.5"/>
<text x="238.9" y="492.2" font-size="6.9" text-anchor="start" fill="#222">CD44, CLDN2</text>
<line x1="316.3" y1="483.4" x2="276.2" y2="498.6" stroke="#e05040" stroke-width="0.5"/>
<line x1="354.9" y1="483.4" x2="361.3" y2="498.6" stroke="#303070" stroke-width="0.5"/>
<line x1="351.9" y1="483.7" x2="359" y2="483.7" stroke="#303070" stroke-width="0.5"/>
<rect x="236.8" y="498.9" width="78.3" height="65.7" fill="#f3a58c" stroke="none" stroke-width="0.6"/>
<rect x="322.9" y="498.9" width="78.2" height="65.7" fill="#c3d4e8" stroke="none" stroke-width="0.6"/>
<text x="274.2" y="511.4" font-size="6.9" text-anchor="middle" fill="#2a2a2a">Early pdECM</text>
<text x="274" y="518.6" font-size="6.9" text-anchor="middle" fill="#2a2a2a">upregulated genes</text>
<text x="249" y="534" font-size="6.9" text-anchor="start" fill="#2a2a2a">CDX2, NF-kβ related</text>
<path d="M240.6,530.5 L243.2,530.5 L243.2,528.8 L246.2,531.6 L243.2,534.4 L243.2,532.7 L240.6,532.7Z" fill="#111" stroke="none" stroke-width="0.6"/>
<text x="276" y="549.8" font-size="6.9" text-anchor="middle" fill="#2a2a2a">CDX2, SPINK1, CDH17,</text>
<text x="276" y="557.7" font-size="6.9" text-anchor="middle" fill="#2a2a2a">NFKBIA, CXCL1/2, TNF</text>
<text x="360" y="510" font-size="6.9" text-anchor="middle" fill="#2a2a2a">Late pdECM</text>
<text x="359.5" y="517.6" font-size="6.9" text-anchor="middle" fill="#2a2a2a">upregulated genes</text>
<text x="334" y="533.1" font-size="6.9" text-anchor="start" fill="#2a2a2a">AP-1 related &amp; KLKs</text>
<path d="M326.3,529.6 L328.9,529.6 L328.9,527.9 L331.9,530.7 L328.9,533.5 L328.9,531.8 L326.3,531.8Z" fill="#111" stroke="none" stroke-width="0.6"/>
<text x="361.6" y="549.1" font-size="6.9" text-anchor="middle" fill="#2a2a2a">LTBP3, LAMB3, MMP7,</text>
<text x="361.6" y="556.7" font-size="6.9" text-anchor="middle" fill="#2a2a2a">EEF1A2, KLK6, KLK7</text>
<text x="459.5" y="411.6" font-size="15" text-anchor="start" fill="#000" font-weight="bold">i</text>
<rect x="492.3" y="401.1" width="59.9" height="15.8" fill="#fff" stroke="#9a9a9a" stroke-width="0.6" rx="7.9"/>
<text x="522.2" y="407.6" font-size="5.5" text-anchor="middle" fill="#222">Differentially</text>
<text x="522.2" y="414.1" font-size="5.5" text-anchor="middle" fill="#222">accessible region</text>
<rect x="578.3" y="401.1" width="59.9" height="15.8" fill="#fff" stroke="#9a9a9a" stroke-width="0.6" rx="7.9"/>
<text x="608.3" y="410.7" font-size="5.5" text-anchor="middle" fill="#222">TF enrichment</text>
<line x1="522.4" y1="416.9" x2="522.4" y2="421.6" stroke="#ccc" stroke-width="0.6"/>
<line x1="522.4" y1="493.3" x2="522.4" y2="500.2" stroke="#ccc" stroke-width="0.6"/>
<line x1="610.5" y1="416.9" x2="610.5" y2="421.6" stroke="#ccc" stroke-width="0.6"/>
<line x1="610.5" y1="493.3" x2="610.5" y2="500.2" stroke="#ccc" stroke-width="0.6"/>
<rect x="480.6" y="421.6" width="176" height="71.7" fill="#fff" stroke="#9a9a9a" stroke-width="0.7" rx="1.5"/>
<rect x="479.7" y="500.2" width="176.9" height="71.3" fill="#fff" stroke="#9a9a9a" stroke-width="0.7" rx="1.5"/>
<polygon points="476,446 480.6,441.5 480.6,473.5 476,469" fill="#aaa"/>
<polygon points="476,525 479.7,520.5 479.7,552 476,548" fill="#aaa"/>
<rect x="462.2" y="437" width="14" height="40.3" fill="#fff" stroke="#9a9a9a" stroke-width="0.6" rx="7"/>
<rect x="462.2" y="516" width="14" height="39.7" fill="#fff" stroke="#9a9a9a" stroke-width="0.6" rx="7"/>
<text x="471.2" y="457.2" font-size="5.8" text-anchor="middle" fill="#bb2a2a" transform="rotate(-90 471.2 457.2)">Early</text>
<text x="471.2" y="535.9" font-size="5.6" text-anchor="middle" fill="#2a2a60" transform="rotate(-90 471.2 535.9)">Late</text>
<defs><linearGradient id="gvir" x1="0" x2="0" y1="1" y2="0"><stop offset="0" stop-color="#440154"/><stop offset="0.25" stop-color="#3b528b"/><stop offset="0.5" stop-color="#21918c"/><stop offset="0.75" stop-color="#5ec962"/><stop offset="1" stop-color="#fde725"/></linearGradient></defs>
<rect x="544.5" y="423.9" width="3.9" height="67.1" fill="url(#gvir)" stroke="#444" stroke-width="0.3"/>
<text x="549.5" y="426.7" font-size="4.2" text-anchor="start" fill="#222">Max</text>
<text x="549.5" y="490" font-size="4.2" text-anchor="start" fill="#222">Min</text>
<text x="561.5" y="459.45" font-size="4.4" text-anchor="middle" fill="#222" transform="rotate(-90 561.5 459.45)">Chromatin accessibility</text>
<rect x="544.5" y="502.3" width="3.9" height="66.5" fill="url(#gvir)" stroke="#444" stroke-width="0.3"/>
<text x="549.5" y="505.1" font-size="4.2" text-anchor="start" fill="#222">Max</text>
<text x="549.5" y="567.8" font-size="4.2" text-anchor="start" fill="#222">Min</text>
<text x="561.5" y="537.55" font-size="4.4" text-anchor="middle" fill="#222" transform="rotate(-90 561.5 537.55)">Chromatin accessibility</text>
<path d="M493,445.6 C493.92,444.45 496.07,442.18 497.6,441.5 C499.13,440.82 500.67,440.82 502.2,441.5 C503.73,442.18 505.42,444.45 506.8,445.6 C508.18,446.75 509.27,447.32 510.5,448.4 C511.73,449.48 513.43,450.72 514.2,452.1 C514.97,453.48 514.63,455.48 515.1,456.7 C515.57,457.92 516.53,458.18 517,459.4 C517.47,460.62 517.83,462.47 517.9,464 C517.97,465.53 517.4,467.37 517.4,468.6 C517.4,469.83 518.28,470.48 517.9,471.4 C517.52,472.32 516.48,473.48 515.1,474.1 C513.72,474.72 511.28,474.48 509.6,475.1 C507.92,475.72 506.23,476.97 505,477.8 C503.77,478.63 503.27,479.95 502.2,480.1 C501.13,480.25 499.82,479.38 498.6,478.7 C497.38,478.02 496.28,476.92 494.9,476 C493.52,475.08 491.68,474.12 490.3,473.2 C488.92,472.28 487.45,471.57 486.6,470.5 C485.75,469.43 485.28,468.65 485.2,466.8 C485.12,464.95 485.72,461.55 486.1,459.4 C486.48,457.25 486.8,455.27 487.5,453.9 C488.2,452.53 489.53,452.12 490.3,451.2 C491.07,450.28 491.65,449.33 492.1,448.4 C492.55,447.47 492.08,446.75 493,445.6Z" fill="#40286e" stroke="none" stroke-width="0.6"/>
<path d="M503.2 446.4h0M511.4 468.6h0M509.1 447.6h0M500.7 455.5h0M500 447.8h0M511.3 463.3h0M492 472.7h0M507.4 450.2h0M495.1 447.1h0M503.3 464h0M493.9 471.5h0M495.1 457h0M495.6 476.4h0M514.9 466h0M509.9 462.5h0M502.4 472.6h0M504.1 469.1h0M511.3 472.2h0M504.5 462.8h0M493.1 461.4h0M494.4 456.8h0M492.8 463.4h0M491.4 466.6h0M495.9 453.8h0M498.2 461.7h0M496.6 449.8h0M505.6 450.5h0M515.5 459.9h0M508.4 473.5h0M513.2 457h0M498.9 461.9h0M496.3 442.9h0M492.1 464.2h0M497 473.2h0M511.2 462.5h0M508 457.2h0M491.1 450.4h0M498.9 473.2h0M506 464.6h0M509.7 463h0M505.3 477.6h0M499.5 452h0M495.5 464.6h0M495.9 449h0M498.9 474.2h0M489.6 469.4h0M505.4 448.3h0M508.4 461.3h0M503.7 452.7h0M500.5 441.9h0M488.9 458.9h0M507.2 470.6h0M508.4 450.4h0M507.1 449.3h0M487.2 468.8h0M516.4 460.4h0M490.1 461.6h0M501.1 460.3h0M508 469.4h0M513.3 463.6h0M508.3 453.8h0M506.1 456.2h0M510.4 470.5h0M495.7 453.8h0M495.4 456.4h0M501.3 465.2h0M504.4 469.4h0M498 465.4h0M486.7 464.2h0M501 447h0M488.7 453.1h0M508.1 452.9h0M511.6 456.7h0M500.6 472.7h0M493.8 469.3h0M497.4 473.5h0M491.1 454.7h0M500.1 452.7h0M496.3 472.5h0M490.3 463.4h0M490.4 457.9h0M507.4 476h0M500.8 464.1h0M492.1 467.8h0M498.4 443.2h0M505.1 459.3h0M511.5 458.1h0M501.1 450.7h0M506.5 454.1h0M510.3 467.1h0M499.8 477.8h0M493.2 472.6h0M508 457.5h0M510.3 467.5h0M498.9 463.6h0M492.2 449h0M495.1 453.7h0M513.5 468h0M510.9 462.1h0M494.7 457.9h0M512.9 453.9h0M496.5 454.5h0M508.9 466.6h0M504.7 450.9h0M505.6 466.3h0M493 466h0M503.5 477.4h0M515.7 469.3h0M501.2 471.6h0M507.9 461.7h0M504.1 448.8h0M514.4 460.6h0M494.5 469.9h0M515.3 468h0M513.3 470.6h0M512.6 467.6h0M489 454.3h0M493.5 461.3h0M492.1 466.9h0M502.1 470.2h0M494.5 470.8h0M505.8 452.9h0M495.7 452.4h0M512.9 456.8h0M490.9 472.5h0M498.2 453.3h0M512.7 453.6h0M510.5 474.8h0M508.1 472.6h0M495.5 474.8h0M505.5 457.2h0M504.6 459.1h0M497 470.6h0M507 469.3h0M507.6 462.2h0M501.8 457.3h0M503.2 462.5h0M496.1 443h0M491.6 470.9h0M502.2 456.6h0M498.2 475h0M507.4 472.8h0M497.9 474.7h0M510.7 469h0M498.2 453.9h0M493.7 454.9h0M491.6 453.9h0M509.9 465h0M510 452.1h0M487.6 457.6h0M496.3 454.3h0M511.2 451.4h0M499.1 457.8h0M514.9 467.8h0M506.2 467.4h0M507.6 475h0M490.1 454.8h0M487.9 463.3h0M493.5 464.5h0M507.2 465.3h0M496.2 453.2h0M504 449.8h0M504.5 448.5h0M508.5 470.9h0M508.3 447.5h0M493.9 450.5h0M500.4 463.3h0M495.1 456.9h0M507.2 469.6h0M506.6 461.1h0M487.5 460.5h0M498.3 460h0M496.4 448.3h0M507.1 458.4h0M498.4 453.5h0M509.6 474.2h0M499.6 458.5h0M514.6 454.8h0" stroke="#411c66" stroke-width="1.7" stroke-linecap="round" fill="none"/>
<path d="M497.5 468.1h0M502.8 477.3h0M509.5 459.2h0M502 444.8h0M514.6 459h0M515.2 468.7h0M501.5 445.1h0M489.9 463.6h0M514.6 464.3h0M517.6 463.7h0M495.8 450.8h0M504.9 444.5h0M498.1 473.4h0M488.5 455h0M487.4 464.9h0M491.3 454.4h0M501.3 441.7h0M513.7 461.9h0M508.6 474.4h0M492.9 454h0M510 454.4h0M501.2 448.9h0M495.7 455.5h0M496.9 465h0M497.2 448.3h0M511.1 471.6h0M493.3 472.5h0M510.1 457.8h0M493.4 449h0M515.8 460.6h0M496.3 455.3h0M503.2 451.3h0M497.9 471.1h0M506.4 469.4h0M503.5 476.8h0M499.9 446.9h0M505.1 471.9h0M498.3 462.9h0M489.9 471.9h0M499.3 447.4h0M505.9 453.9h0M495 468.1h0M500.6 454.7h0M493.9 466.1h0M511.9 452.7h0M507.1 457.6h0M500.7 444.2h0M490.4 456.8h0M497.2 456.1h0M501.7 473.9h0M487.5 468.5h0M509.4 452.9h0M494.8 445.1h0M504.4 450.1h0M511.1 449.2h0M495.3 471.5h0M495.5 463.5h0M507.9 470.2h0M503.9 470.7h0M515.5 472.2h0M492.2 455.5h0M491.6 462.5h0M504.3 470.2h0M507 448.6h0M510 468.7h0M506.2 449.1h0M499.1 461.9h0M496.7 450.6h0M498.6 448.3h0M512.8 460h0M500 444h0M498.4 469h0M500 453.7h0M501.7 477.7h0M503.6 462.2h0M512.8 460.2h0M509 465.6h0M506 456.9h0M488.5 465.1h0M506.7 458.8h0M486.9 467.4h0M491.4 472.9h0M504.9 446h0M504.6 444.4h0M497.7 470.7h0M497.1 473.2h0M502 479.8h0M504.8 462.9h0M501.2 446.6h0M501.7 464.5h0M503.4 446h0M499.9 476.6h0M497.7 449.7h0M496.5 464.8h0M513.5 460h0M487.7 461h0M489 467.9h0M503.7 470.9h0M509.2 469.2h0M512.8 452.6h0M499.1 466.7h0M490 461.9h0M498.4 460.5h0M504.5 468.6h0M501.2 456.6h0M515.3 468.8h0M497.2 464.2h0M513.5 470.9h0M486.9 469.8h0M507.2 474.6h0M506.2 467.2h0M512.6 460.3h0M496.9 445.7h0M491.7 455.1h0M502.8 453.4h0M504 478.2h0M514.6 471.4h0M500.5 448.2h0M506.4 458.4h0M513 459.6h0M491.8 470.3h0M511.5 453.7h0M506.7 455h0M509 450.7h0M500 473.4h0M499 461.8h0M499.7 474.6h0M501.7 463.1h0M495.2 463.4h0M514.2 461.5h0M512.3 470.9h0M487.4 456h0M493.9 449.6h0" stroke="#3e3779" stroke-width="1.7" stroke-linecap="round" fill="none"/>
<path d="M510.5 464.3h0M511.3 449.8h0M510.4 464.6h0M494.4 469.4h0M489.9 455h0M497.7 469.9h0M502.2 448.9h0M503.3 443.7h0M512 463.7h0M509.1 450.9h0M503.8 471.7h0M510.8 454.4h0M509.9 457.5h0M513.9 468.2h0M503.9 471.1h0M491.1 458.6h0M516.4 472.7h0M499.9 468.4h0M500.4 478h0M496.4 462.2h0M496.9 447.4h0M496.2 443.9h0M490.3 459.3h0M506.5 466.9h0M494.1 448h0M516.9 459.8h0M496.1 450.4h0M511.3 471.9h0M498.1 465.3h0M495.6 444.2h0M489.8 452.2h0M508.3 462.3h0M501.4 447.9h0M504.3 461.9h0M508.3 467.8h0M501.1 456.6h0M501.8 462.9h0M501.6 469.8h0M486.9 469.3h0M504.3 444.4h0M496.2 452.1h0M502.5 471h0M505.6 477.2h0M507.7 446.6h0M515.4 463h0M494.3 461.9h0M491.8 462.5h0M500.1 445.8h0M499.5 469.6h0M504.5 461.8h0M515.6 465.4h0M508.8 472.1h0M504.1 459.4h0M490.4 464.8h0M509.3 471.2h0M488 469.9h0M499 474.6h0M500.7 477.8h0M510.5 462.9h0M501 476h0M501.1 456.1h0M492.7 449.8h0M493.8 468.8h0M491.6 472.9h0M509.2 459.8h0M499.2 467.8h0M499.6 443h0M511.9 462.4h0M489.4 469.2h0" stroke="#440154" stroke-width="1.7" stroke-linecap="round" fill="none"/>
<path d="M491.4 460.7h0M504.7 472.8h0M508.3 453.1h0M503.2 460.2h0M493.6 464.3h0M487.6 468.4h0M488.1 467.7h0M504.3 445.1h0M496.5 452.1h0M490.9 452.1h0M488.5 470.8h0M500.3 449.7h0M496 452.8h0M492.8 459.4h0M515.8 459.7h0M508.6 464.3h0M512.6 455.4h0M508.3 472h0M507.7 470.6h0M494.5 461.5h0M499.9 465.4h0M517.1 471.9h0M508.7 475h0M505.3 471h0M504.8 449h0M512.6 474.1h0M511 471h0M489.3 462h0M501.5 445.6h0M517.2 460.8h0M516.4 470.5h0M492.2 469.1h0M496.3 461h0M498.2 473.6h0M510.1 465.4h0M499 475.9h0M491.3 461.1h0M493.7 454.2h0M492.4 452.4h0M509.8 469.7h0" stroke="#3b528b" stroke-width="1.7" stroke-linecap="round" fill="none"/>
<path d="M520.6,437.4 C521.52,436.48 523.52,434.98 525.2,434.6 C526.88,434.22 529.47,434.63 530.7,435.1 C531.93,435.57 532.37,436.1 532.6,437.4 C532.83,438.7 532.42,441.37 532.1,442.9 C531.78,444.43 531.53,445.92 530.7,446.6 C529.87,447.28 528.02,447.47 527.1,447 C526.18,446.53 526.13,444.48 525.2,443.8 C524.27,443.12 522.42,443.52 521.5,442.9 C520.58,442.28 519.85,441.02 519.7,440.1 C519.55,439.18 519.68,438.32 520.6,437.4Z" fill="#7acb5a" stroke="none" stroke-width="0.6"/>
<path d="M528.5 435.8h0M524.8 437.9h0M526.6 439.3h0M527.5 435.8h0" stroke="#fde725" stroke-width="1.7" stroke-linecap="round" fill="none"/>
<path d="M529 440.7h0M527 442.3h0M527.9 435.7h0M523.3 440.9h0M531.5 443h0M525.5 441.1h0M524.5 437.7h0M524.5 442h0M531.1 436.9h0M525.1 437h0M520.6 439.8h0M528.2 442.7h0" stroke="#35a47e" stroke-width="1.7" stroke-linecap="round" fill="none"/>
<path d="M531.4 438.2h0M525 439.8h0M526.5 443.7h0M525.8 435.5h0M524.1 438h0M530.1 442.2h0M525.8 435.6h0M529.7 437.2h0" stroke="#5ec962" stroke-width="1.7" stroke-linecap="round" fill="none"/>
<path d="M525 436.1h0M527.5 436h0M526.2 440h0M522.1 438.7h0M528 441.9h0M527.2 441.9h0M526 440.4h0M528.9 442.5h0M527.4 436h0M525.6 444.4h0M528.4 438.2h0M532 439.6h0M525.8 440.7h0M531.7 437.9h0M523.9 438h0M528.7 436.2h0" stroke="#4ab670" stroke-width="1.7" stroke-linecap="round" fill="none"/>
<path d="M527.2 442.1h0M529.4 438.3h0M529.9 443.3h0" stroke="#21918c" stroke-width="1.7" stroke-linecap="round" fill="none"/>
<path d="M531.7 439.8h0M523.8 441.3h0M529.9 443.5h0M520.1 440.1h0M530.7 440.4h0M523.3 436.8h0M525.3 438.6h0M525.5 438.2h0M531 441.1h0M528.8 438.8h0M525.6 436.6h0M520.5 441.2h0M526.7 435.7h0" stroke="#93d34e" stroke-width="1.7" stroke-linecap="round" fill="none"/>
<path d="M527.2 446.7h0M524.2 443.2h0M527.6 443.1h0M524.6 436.8h0M531.8 439h0M521.2 438.8h0M521.4 442.2h0M530.6 435.5h0M526.6 442h0M530.7 441.3h0M523.8 439.1h0M525.2 437h0M524.5 441h0M529.7 440.8h0" stroke="#c8dd39" stroke-width="1.7" stroke-linecap="round" fill="none"/>
<path d="M532.6,450.2 C533.07,449.58 535.47,448.98 536.3,449.3 C537.13,449.62 537.45,451.02 537.6,452.1 C537.75,453.18 536.82,454.73 537.2,455.8 C537.58,456.87 539.22,457.43 539.9,458.5 C540.58,459.57 541.22,460.97 541.3,462.2 C541.38,463.43 540.93,464.98 540.4,465.9 C539.87,466.82 539.1,467.55 538.1,467.7 C537.1,467.85 535.63,467.1 534.4,466.8 C533.17,466.5 531.47,466.37 530.7,465.9 C529.93,465.43 529.57,464.92 529.8,464 C530.03,463.08 531.25,461.62 532.1,460.4 C532.95,459.18 534.67,457.93 534.9,456.7 C535.13,455.47 533.88,454.08 533.5,453 C533.12,451.92 532.13,450.82 532.6,450.2Z" fill="#6cc35c" stroke="none" stroke-width="0.6"/>
<path d="M531.3 463.9h0M536.3 450.9h0M538.6 463.4h0M538.6 459.2h0M536.2 458.6h0M533.5 452.5h0M531.3 465.5h0M533.4 452.3h0M537 459.3h0M539.1 466.5h0M535 458.9h0M538.8 457.9h0" stroke="#21918c" stroke-width="1.7" stroke-linecap="round" fill="none"/>
<path d="M539.1 459.7h0M537.9 460.7h0M533.6 461.2h0M532.7 462h0M533.4 465.1h0M538.2 465.7h0M538.4 458.8h0M539.4 466.1h0M532.5 460.5h0M535.6 454.1h0M537.4 459.3h0M536.2 456.5h0" stroke="#5ec962" stroke-width="1.7" stroke-linecap="round" fill="none"/>
<path d="M533.9 459.8h0M537.3 464.9h0M535.6 463.9h0M532.3 463.6h0M537.1 464.8h0M539.7 466h0M533 460.9h0M537.1 465.4h0M534.4 460.4h0M533.7 465.5h0M533.6 460.6h0" stroke="#93d34e" stroke-width="1.7" stroke-linecap="round" fill="none"/>
<path d="M535.8 462h0M536.7 455.5h0M531.2 462.6h0M534.7 460h0M535.8 453.3h0M539.1 464h0M535.9 451.4h0M538.8 463.5h0M539.7 461.3h0M532.4 461.7h0M536.3 450.8h0M536.9 463.7h0M534.1 466.4h0" stroke="#4ab670" stroke-width="1.7" stroke-linecap="round" fill="none"/>
<path d="M534.3 459.1h0M533.9 452.2h0M536.4 462.2h0M538.3 461.8h0M535.9 456.6h0M539.9 459.3h0M535.1 453.3h0M536 455.9h0" stroke="#fde725" stroke-width="1.7" stroke-linecap="round" fill="none"/>
<path d="M539.2 465.7h0M533.7 450.1h0M540.1 466.1h0M534.6 451.2h0M536.5 457.8h0M535 466.4h0M533.7 460.9h0M536.6 456.8h0M537.5 466.9h0M535.1 460.5h0M537.5 458.8h0M530.8 464.1h0" stroke="#35a47e" stroke-width="1.7" stroke-linecap="round" fill="none"/>
<path d="M535.7 461.5h0M535.5 458.7h0M535.6 456.7h0M537.4 457.3h0M534.9 457.1h0M534.5 457.5h0M538.1 467h0M535.2 453.8h0M536 460.8h0M538.9 460.3h0" stroke="#c8dd39" stroke-width="1.7" stroke-linecap="round" fill="none"/>
<path d="M539.5 458.7h0M532.2 463h0" stroke="#2a7c8c" stroke-width="1.7" stroke-linecap="round" fill="none"/>
<path d="M516.7 439.8h0M517.4 445h0M515.6 449.9h0M515.2 451.4h0" stroke="#32678b" stroke-width="1.7" stroke-linecap="round" fill="none"/>
<path d="M516.9 441.6h0M517.6 442.9h0M518.3 443.8h0M517.2 446.6h0M517.5 447.8h0" stroke="#3b528b" stroke-width="1.7" stroke-linecap="round" fill="none"/>
<path d="M516.5 449h0" stroke="#2a7c8c" stroke-width="1.7" stroke-linecap="round" fill="none"/>
<path d="M518.7 471.1h0M527.8 466.8h0" stroke="#2a7c8c" stroke-width="1.7" stroke-linecap="round" fill="none"/>
<path d="M520.4 470.6h0M526.9 467.9h0" stroke="#32678b" stroke-width="1.7" stroke-linecap="round" fill="none"/>
<path d="M521.3 470.3h0M522.3 469.7h0M523.5 469.4h0M525.1 468.7h0" stroke="#3b528b" stroke-width="1.7" stroke-linecap="round" fill="none"/>
<path d="M495.8,521.6 C496.72,520.3 498.87,518.1 500.4,517.4 C501.93,516.7 503.47,516.87 505,517.4 C506.53,517.93 508.22,519.45 509.6,520.6 C510.98,521.75 512.07,523.07 513.3,524.3 C514.53,525.53 516.08,526.62 517,528 C517.92,529.38 518.35,531.07 518.8,532.6 C519.25,534.13 519.4,535.67 519.7,537.2 C520,538.73 520.6,540.27 520.6,541.8 C520.6,543.33 520.3,545.18 519.7,546.4 C519.1,547.62 518.22,548.33 517,549.1 C515.78,549.87 513.93,550.23 512.4,551 C510.87,551.77 509.18,552.93 507.8,553.7 C506.42,554.47 505.48,555.6 504.1,555.6 C502.72,555.6 500.88,554.62 499.5,553.7 C498.12,552.78 497.18,551.32 495.8,550.1 C494.42,548.88 492.43,547.48 491.2,546.4 C489.97,545.32 488.78,544.98 488.4,543.6 C488.02,542.22 488.58,540.08 488.9,538.1 C489.22,536.12 489.77,533.38 490.3,531.7 C490.83,530.02 491.33,529.08 492.1,528 C492.87,526.92 494.28,526.27 494.9,525.2 C495.52,524.13 494.88,522.9 495.8,521.6Z" fill="#5cbc68" stroke="none" stroke-width="0.6"/>
<path d="M491.8 532.9h0M500.1 523h0M495.3 524h0M499 527.3h0M496.6 526.1h0M498.2 532h0M506.5 521.6h0M498.7 521.9h0M506.6 521h0M502.3 525.7h0M496.7 529.2h0M496.7 528.6h0M508 525h0M503.4 527.1h0M499 530.2h0M500.3 528.6h0M504 521.8h0M494.6 526.7h0M502.1 520.3h0M502.4 523.9h0M504.8 517.9h0M494.8 527.6h0" stroke="#2a7c8c" stroke-width="1.7" stroke-linecap="round" fill="none"/>
<path d="M506.3 543.4h0M511.7 546.7h0M516.4 539.7h0M517.6 543.8h0M505.8 548h0M520 544.4h0M517.1 539.5h0M518.1 542.4h0M516.3 544.3h0M497.3 548.5h0M512.7 541.5h0M512.9 549.5h0M516.3 548.8h0M510.4 547.7h0M505.5 547.8h0M512.3 547.9h0M501.9 553h0M505.9 546.3h0M516.4 540.4h0M518.6 538.6h0M516 548.4h0M507.9 552.7h0M506.4 551.1h0M504.4 551.3h0M518.7 545.2h0M503.2 553.5h0M503.6 546.3h0M517.1 546.6h0M506.5 552.4h0M517.4 545.5h0M514.3 541.9h0M516.9 547.3h0M497.7 549.3h0M502.1 549h0M504.2 549.7h0M503.3 547.1h0M513.5 547.9h0M518.7 538.9h0" stroke="#fde725" stroke-width="1.7" stroke-linecap="round" fill="none"/>
<path d="M509 542.7h0M493.6 539.3h0M508.4 541.1h0M517.3 536h0M494.8 535.2h0M508.7 549.2h0M503.8 530h0M499.6 545.9h0M491.2 542.7h0M509.2 548.4h0M494.8 543h0M493.3 545.9h0M513.8 546.5h0M512.9 530.2h0M496 539h0M504.3 531.3h0M501.6 536.3h0M517.6 545.8h0M517.8 543.2h0M497.5 540h0M498.8 540.4h0M509.6 543.9h0M517.5 537.1h0M507.7 549.7h0M518.6 544.8h0M506.9 537.5h0M514.8 528.9h0M499 551.7h0M506.4 534.3h0M506.2 548.4h0M502.5 553.1h0M510.3 531.3h0M513.4 549.8h0M494.8 540.3h0M501.5 547.8h0M498.1 544.9h0M500.7 536h0M504.7 541.2h0M501.3 538.8h0M511 545.4h0M501.3 543h0M519.3 538.1h0M507.2 540.1h0M494 548.5h0M498 550.8h0M515.5 536.7h0M511.2 538.6h0M501.5 552.3h0M515.6 531.6h0M493.6 546.3h0M517.1 532.7h0M514.6 548.3h0M510.1 537.1h0M514.1 526.8h0M507.6 526.9h0M507.6 539.5h0M506.8 540.3h0M517.6 534.5h0M501.7 537.4h0M516.8 533.8h0M512.5 541.9h0M497 537.5h0M499.1 546.3h0M508 545.6h0M511.9 534.9h0M498.4 550.5h0" stroke="#93d34e" stroke-width="1.7" stroke-linecap="round" fill="none"/>
<path d="M513.9 546.3h0M490.1 544.9h0M505.4 545.3h0M502.5 544h0M504.7 541.7h0M504.7 546.5h0M499.9 539.8h0M516.8 540.4h0M490.4 544.6h0M501.3 544.1h0M506.2 546.9h0M497.4 550.6h0M516 537.7h0M492.8 547.3h0M507.6 539.7h0M514.2 547.3h0M517.4 545.3h0M495.7 545.4h0M517.5 537.7h0M502.6 543.3h0M500 547.2h0M505.9 541.6h0M504.1 539.1h0M500.6 553.5h0M507.4 547.8h0M503.7 544.6h0M507.5 537.3h0M509.2 539.4h0M505.7 541.6h0M514.7 531.5h0M510.2 550.6h0M515.5 544.5h0M513.8 542.1h0M516.3 546.7h0M507.7 548.9h0M511.1 546.9h0M513.9 542.2h0M495.7 542.3h0M516.2 545.3h0M505.8 549h0M493.6 546.8h0M508.7 536.5h0M517.8 541.8h0M515.1 537.2h0M497.3 545.8h0M495.8 547.9h0M508.9 544.2h0M502.9 548.4h0M510.3 542.6h0M517.7 546.2h0M508.7 539.9h0" stroke="#c8dd39" stroke-width="1.7" stroke-linecap="round" fill="none"/>
<path d="M503.5 526h0M496.6 530.5h0M496 533.7h0M497.9 524.5h0M508.4 531.3h0M495.4 534.9h0M500.4 527.5h0M502.3 533.2h0M504.6 530.5h0M499.8 531.4h0M495.9 533.8h0M516.2 528.2h0M494.1 541h0M498.9 534.6h0M505.5 529.5h0M495.6 536.6h0M505.2 523.1h0M501.2 526.7h0M503.7 525.5h0M505.3 530.6h0M511.3 527.3h0M497.2 520.8h0M514.8 527.3h0M491.7 530.2h0M496.2 521.9h0M493.8 528.3h0M498.7 535.7h0M489.7 539.5h0M497.2 520.4h0M504.5 522.1h0M500.1 531.1h0M509.9 528.2h0M499 538.4h0M504.3 527.2h0M501.1 522h0M504.7 529.5h0M505.3 522.4h0M504.6 527.2h0M504.1 523.3h0M511.4 526.5h0M505.4 521.9h0M503.5 521.9h0" stroke="#21918c" stroke-width="1.7" stroke-linecap="round" fill="none"/>
<path d="M499.4 542.4h0M502.4 526.8h0M495.9 540.1h0M507 539.4h0M500.3 551h0M505.8 554.4h0M496.3 534h0M493.8 535.2h0M498.3 530.2h0M507 525.7h0M500.6 543.7h0M498.3 533.1h0M499.8 541.6h0M512.5 537.3h0M519.2 536.8h0M505.5 538h0M492.1 534.6h0M511.9 527.9h0M511.8 525.2h0M509 529.9h0M509.6 537.1h0M502.7 544h0M517.2 533.3h0M506.4 523.7h0M506.4 552.4h0M511.5 530.4h0M501 543.7h0M502.3 536.2h0M505.9 547.6h0M517.7 539.4h0M511.8 539h0M499.1 534.2h0M508.2 539.6h0M492.2 546.3h0M506.4 538.8h0M502.3 529.1h0M506 537.8h0M503.1 534.2h0M494.8 540.1h0M498.9 541h0M511.5 527.8h0M516.2 535.3h0M516.8 538.3h0M515.5 542.5h0M516.2 535.5h0M513.8 528.2h0M496.5 547.3h0M504.9 536h0M492.9 537.6h0M495 532.5h0M510.7 537.7h0M494.8 546.4h0M491.4 535.8h0M512.6 543.3h0M508.1 522.7h0M514 543.1h0M494.4 535.9h0M512 545.2h0M499.9 531.7h0M509.9 543.2h0M518.1 537.4h0M506.3 553h0M506.2 540.5h0M516.6 543.2h0M504.4 538.9h0M519.1 541.1h0M514.4 525.5h0M491.4 539.8h0M495.4 535.1h0M501.9 527.5h0M505.3 524h0M509.8 525.4h0M502.5 553.9h0M507.7 526.3h0M500.3 545.2h0M501.3 541.6h0M492.9 544.6h0M507.2 542.6h0M504.6 525.9h0M517 545.6h0M512.6 544.3h0M490 540.1h0M500.3 531.7h0M495.5 548.4h0M513 524.9h0M497 546.1h0M508.8 523.7h0M511.3 538.3h0M504.9 550.8h0" stroke="#5ec962" stroke-width="1.7" stroke-linecap="round" fill="none"/>
<path d="M498.2 522.3h0M495.4 523.7h0M499 519.3h0M501.5 521h0M503.4 518.6h0M505.6 518.9h0M502.9 517.7h0" stroke="#32678b" stroke-width="1.7" stroke-linecap="round" fill="none"/>
<path d="M500.5 525.6h0M496 542h0M504.2 532.5h0M511 527.1h0M507.8 536.4h0M517 529.7h0M504.3 545.3h0M491.3 538.4h0M502.7 534.6h0M496.5 530.9h0M506.7 540.2h0M503.4 533.2h0M489.7 544.7h0M506.3 523.5h0M507.9 521.4h0M514.7 541.6h0M509.4 536.4h0M507.1 531.1h0M495.1 546.4h0M504.7 527.1h0M510.9 532.3h0M502.9 523.2h0M498.9 527.1h0M512 539.4h0M518.4 535.7h0M503 543.4h0M498.7 542.3h0M493.4 535.7h0M499.6 529.7h0M505.9 540h0M509.5 528.1h0M495.1 537.9h0M512.3 538.2h0M510.6 532.2h0M497.2 538.1h0M496.8 546.8h0M500.6 532.8h0M490.7 534.4h0M511.9 543.4h0M512.4 539h0M505.8 537.7h0M508.5 548.2h0M495.3 529.1h0M498.2 546.6h0M499.3 553.4h0M496.4 538.3h0M505 530.3h0M513.7 538.6h0M512.9 530h0M494.6 536.5h0M516 545.3h0M494.7 548.2h0M512.2 528.4h0M489.9 541.6h0M502.9 540.3h0M513.6 528.2h0M500.9 549.8h0M512.5 540.8h0M499.7 536.1h0M496.8 533h0M501.4 529.6h0M517.9 543.1h0M514.3 527.1h0M501.1 547.1h0M503.4 547.2h0M493.6 537h0M509.2 532.7h0M505.2 521.7h0M490.7 534.5h0M497.5 522.1h0M502.3 531.8h0M503.3 540.4h0M496.4 534.4h0M493.6 543.9h0M508.5 546h0M492 536.9h0M506.4 538h0M507.6 520.9h0M497.3 528.8h0M489.5 537.2h0M501.7 530.4h0M511.9 538.1h0M511.1 523.4h0M498.7 542.9h0M502.9 541.5h0M504 533.6h0" stroke="#4ab670" stroke-width="1.7" stroke-linecap="round" fill="none"/>
<path d="M498.2 535.5h0M512.3 534.9h0M491.1 542h0M507.5 538.6h0M495.5 537.2h0M512.9 535.9h0M500.8 538.2h0M517.2 535.7h0M509.7 523.6h0M506.1 530.1h0M509.8 522.1h0M511.9 527h0M500.1 528.6h0M507.9 527.3h0M517.9 533.9h0M512.8 532.3h0M511.3 522.5h0M496.6 533.2h0M507.9 523.6h0M497.2 534.7h0M494.2 537.4h0M501.7 532.3h0M507.2 527.8h0M498.7 527.7h0M493.6 531.2h0M496.5 526.3h0M489.8 534.2h0M510.6 532.2h0M507.7 526.8h0M515.1 534.2h0M494.1 534.9h0M495.4 526h0M511.2 531.8h0M496.5 544.5h0M500.5 525.2h0M517 529h0M503 539h0M512.8 528.6h0M512.7 524.1h0M515.7 528.9h0M493.1 535.7h0M493.8 532h0M497.9 539.6h0M503.2 522.5h0M510.4 534.5h0M491.5 544.4h0M494.9 529.3h0M493.1 527h0M496.4 532.2h0M500.7 524.5h0M514.8 526.5h0M498.8 539.8h0M500.1 539.7h0M513.8 533.1h0M502.1 522.2h0M499.1 520.4h0M508.9 526.1h0M490.7 545.2h0M492.8 545.2h0M499 533.8h0M507 527.2h0M500.8 540.2h0M493.3 531.1h0M497.6 532.9h0M498 543.1h0M508.4 536.8h0M516.2 530.9h0M502.1 538.4h0M507.6 527h0M516.1 533.4h0M510.8 524.2h0M511.3 537.2h0M508.7 521.7h0M496.8 536.8h0M500.2 545.6h0M497.6 531.5h0M511.4 524.4h0M498.9 542.8h0M503.8 519.6h0" stroke="#35a47e" stroke-width="1.7" stroke-linecap="round" fill="none"/>
<path d="M525.2,513.3 C525.97,512.77 526.47,511.32 528,511 C529.53,510.68 533.18,510.57 534.4,511.4 C535.62,512.23 535.3,514.47 535.3,516 C535.3,517.53 535,519.52 534.4,520.6 C533.8,521.68 532.62,522.65 531.7,522.5 C530.78,522.35 529.98,520.17 528.9,519.7 C527.82,519.23 526.27,520.15 525.2,519.7 C524.13,519.25 522.8,517.92 522.5,517 C522.2,516.08 522.95,514.82 523.4,514.2 C523.85,513.58 524.43,513.83 525.2,513.3Z" fill="#3b2468" stroke="none" stroke-width="0.6"/>
<path d="M531.2 521.6h0M533.3 515.9h0M528.5 514.1h0M529.4 517.9h0M535.1 516.9h0M525.5 519h0M525.9 516.6h0M526 516.7h0M530.9 514.3h0M526.8 514.5h0M525.9 519.3h0M530.3 516.9h0M530.4 520.6h0M533.3 513.3h0M528.6 512.9h0M529 512.6h0M533.2 517.9h0M523.7 514.7h0M524.9 515.2h0M532.7 518.9h0M525.3 519.1h0M534.2 515.9h0M531.6 519.3h0M529.6 514.1h0M532.7 518.4h0M528.7 515.5h0M524.9 517.4h0M526.2 515.3h0M530.8 518.2h0M528 514.8h0M535.2 515.9h0M528.1 516.6h0M533.8 517.1h0M531.7 521.5h0M527.5 513.7h0M535 515.5h0" stroke="#411c66" stroke-width="1.7" stroke-linecap="round" fill="none"/>
<path d="M533.2 517.6h0M528 515.2h0M532.6 516.4h0M525.2 514.4h0M534.6 512.8h0M531.7 521.2h0M534.1 520h0M527.2 513.2h0M534.4 517.7h0M524 515.8h0M526.5 515.6h0M525.8 519.2h0M533.9 512h0M531.9 518.7h0M532.2 511.3h0M532.2 519.7h0M529.4 513.2h0M532.6 516.1h0M534.5 517.6h0M533.6 516.3h0M529.8 513.5h0M531.7 515.2h0M531.1 520.6h0M529.8 513.7h0" stroke="#440154" stroke-width="1.7" stroke-linecap="round" fill="none"/>
<path d="M537.2,525.7 C537.8,525.32 539.28,525.17 539.9,525.7 C540.52,526.23 540.73,527.6 540.9,528.9 C541.07,530.2 540.45,532.27 540.9,533.5 C541.35,534.73 543,535.38 543.6,536.3 C544.2,537.22 544.65,538.08 544.5,539 C544.35,539.92 543.62,541.27 542.7,541.8 C541.78,542.33 540.07,542.28 539,542.2 C537.93,542.12 537.22,541.67 536.3,541.3 C535.38,540.93 533.73,540.68 533.5,540 C533.27,539.32 534.13,538.28 534.9,537.2 C535.67,536.12 537.57,534.73 538.1,533.5 C538.63,532.27 538.4,530.72 538.1,529.8 C537.8,528.88 536.45,528.68 536.3,528 C536.15,527.32 536.6,526.08 537.2,525.7Z" fill="#3b2468" stroke="none" stroke-width="0.6"/>
<path d="M540 541.9h0M539.2 540.2h0M539.4 529.3h0M538.7 539.2h0M543.2 538.3h0M540.1 535.8h0M542.2 535.6h0M541 537.3h0M540.5 539.3h0M541.3 537h0M540 534.5h0M537 537.6h0M534.5 539.7h0M538.6 532.8h0M540.1 530.3h0M538.8 528.5h0M540.1 537.7h0M540.9 540.9h0M540.3 539.4h0M534.8 540.5h0M538 526.7h0M539.2 531.4h0M541 540.7h0M542.2 537.2h0M538.4 532.9h0M534.4 539.9h0M536.9 539.9h0M539.6 535.9h0M540.9 532.1h0M541.5 535.4h0M537.5 528.2h0M538.8 528.4h0M536.6 538.1h0" stroke="#411c66" stroke-width="1.7" stroke-linecap="round" fill="none"/>
<path d="M538.1 536.5h0M541.2 541.6h0M537 537.9h0M542 541.7h0M539.3 534h0M535.5 537.9h0M539.3 541.2h0M538.9 527.4h0M534.4 539.7h0M540.8 535.6h0M541.3 539.5h0M538.8 533.7h0M536 537.3h0M540.9 537h0M538.1 539.2h0M541.8 541.6h0M543.6 539.6h0M538.2 538.6h0M537.5 528.7h0M540 539.8h0M539.8 535.6h0M538.9 531.6h0M538.8 530.2h0M539.1 532.8h0M536.9 536.2h0M543.2 539.4h0M538.8 534.5h0" stroke="#440154" stroke-width="1.7" stroke-linecap="round" fill="none"/>
<path d="M521 516.1h0M520.4 519.6h0M520.2 522.3h0M519.6 523.5h0M518.8 526.4h0" stroke="#2a7c8c" stroke-width="1.7" stroke-linecap="round" fill="none"/>
<path d="M520.8 518.3h0M519.5 524.8h0" stroke="#21918c" stroke-width="1.7" stroke-linecap="round" fill="none"/>
<path d="M520.4 521h0" stroke="#32678b" stroke-width="1.7" stroke-linecap="round" fill="none"/>
<path d="M522.4 547h0M523.9 546.2h0M526.4 545.4h0" stroke="#2a7c8c" stroke-width="1.7" stroke-linecap="round" fill="none"/>
<path d="M525.1 545.8h0" stroke="#21918c" stroke-width="1.7" stroke-linecap="round" fill="none"/>
<path d="M527.7 544.2h0M529.2 543.6h0M532.2 542.5h0" stroke="#3e3779" stroke-width="1.7" stroke-linecap="round" fill="none"/>
<path d="M530.7 543h0" stroke="#3b528b" stroke-width="1.7" stroke-linecap="round" fill="none"/>
<text x="0" y="0" font-size="10" font-weight="bold" fill="#f2a52a" transform="translate(582.7 433.9) scale(0.57 0.62)">G</text>
<text x="0" y="0" font-size="10" font-weight="bold" fill="#3ea33a" transform="translate(582.7 429.43) scale(0.57 0.45)">A</text>
<text x="0" y="0" font-size="10" font-weight="bold" fill="#d42a2a" transform="translate(586.55 433.9) scale(0.57 1.04)">T</text>
<text x="0" y="0" font-size="10" font-weight="bold" fill="#2f5fc4" transform="translate(590.4 433.9) scale(0.57 0.88)">C</text>
<text x="0" y="0" font-size="10" font-weight="bold" fill="#f2a52a" transform="translate(590.4 427.53) scale(0.57 0.18)">G</text>
<text x="0" y="0" font-size="10" font-weight="bold" fill="#3ea33a" transform="translate(594.25 433.9) scale(0.57 1.03)">A</text>
<text x="0" y="0" font-size="10" font-weight="bold" fill="#d42a2a" transform="translate(598.1 433.9) scale(0.57 1.02)">T</text>
<text x="0" y="0" font-size="10" font-weight="bold" fill="#3ea33a" transform="translate(601.95 433.9) scale(0.57 1.03)">A</text>
<text x="0" y="0" font-size="10" font-weight="bold" fill="#3ea33a" transform="translate(605.8 433.9) scale(0.57 0.98)">A</text>
<text x="0" y="0" font-size="10" font-weight="bold" fill="#3ea33a" transform="translate(609.65 433.9) scale(0.57 1.02)">A</text>
<text x="0" y="0" font-size="10" font-weight="bold" fill="#3ea33a" transform="translate(613.5 433.9) scale(0.57 0.92)">A</text>
<text x="0" y="0" font-size="10" font-weight="bold" fill="#f2a52a" transform="translate(613.5 427.26) scale(0.57 0.15)">G</text>
<text x="0" y="0" font-size="10" font-weight="bold" fill="#d42a2a" transform="translate(617.35 433.9) scale(0.57 1.04)">T</text>
<text x="623.3" y="432.4" font-size="4.3" text-anchor="start" fill="#222">CDX2</text>
<text x="0" y="0" font-size="10" font-weight="bold" fill="#d42a2a" transform="translate(582.7 444.9) scale(0.49 0.95)">T</text>
<text x="0" y="0" font-size="10" font-weight="bold" fill="#d42a2a" transform="translate(585.97 444.9) scale(0.49 0.97)">T</text>
<text x="0" y="0" font-size="10" font-weight="bold" fill="#d42a2a" transform="translate(589.24 444.9) scale(0.49 0.84)">T</text>
<text x="0" y="0" font-size="10" font-weight="bold" fill="#d42a2a" transform="translate(592.51 444.9) scale(0.49 0.83)">T</text>
<text x="0" y="0" font-size="10" font-weight="bold" fill="#3ea33a" transform="translate(595.78 444.9) scale(0.49 0.96)">A</text>
<text x="0" y="0" font-size="10" font-weight="bold" fill="#d42a2a" transform="translate(599.05 444.9) scale(0.49 0.9)">T</text>
<text x="0" y="0" font-size="10" font-weight="bold" fill="#d42a2a" transform="translate(602.32 444.9) scale(0.49 0.78)">T</text>
<text x="0" y="0" font-size="10" font-weight="bold" fill="#2f5fc4" transform="translate(602.32 439.3) scale(0.49 0.19)">C</text>
<text x="0" y="0" font-size="10" font-weight="bold" fill="#3ea33a" transform="translate(605.59 444.9) scale(0.49 0.64)">A</text>
<text x="0" y="0" font-size="10" font-weight="bold" fill="#d42a2a" transform="translate(605.59 440.28) scale(0.49 0.33)">T</text>
<text x="0" y="0" font-size="10" font-weight="bold" fill="#2f5fc4" transform="translate(608.86 444.9) scale(0.49 0.94)">C</text>
<text x="0" y="0" font-size="10" font-weight="bold" fill="#f2a52a" transform="translate(612.13 444.9) scale(0.49 0.55)">G</text>
<text x="617.2" y="444.4" font-size="4.3" text-anchor="start" fill="#222">HOXB13</text>
<text x="0" y="0" font-size="10" font-weight="bold" fill="#3ea33a" transform="translate(581.3 456.7) scale(0.54 0.75)">A</text>
<text x="0" y="0" font-size="10" font-weight="bold" fill="#f2a52a" transform="translate(581.3 451.32) scale(0.54 0.28)">G</text>
<text x="0" y="0" font-size="10" font-weight="bold" fill="#f2a52a" transform="translate(584.94 456.7) scale(0.54 1)">G</text>
<text x="0" y="0" font-size="10" font-weight="bold" fill="#f2a52a" transform="translate(588.58 456.7) scale(0.54 0.92)">G</text>
<text x="0" y="0" font-size="10" font-weight="bold" fill="#f2a52a" transform="translate(592.22 456.7) scale(0.54 0.97)">G</text>
<text x="0" y="0" font-size="10" font-weight="bold" fill="#2f5fc4" transform="translate(595.86 456.7) scale(0.54 0.75)">C</text>
<text x="0" y="0" font-size="10" font-weight="bold" fill="#d42a2a" transform="translate(595.86 451.3) scale(0.54 0.28)">T</text>
<text x="0" y="0" font-size="10" font-weight="bold" fill="#f2a52a" transform="translate(599.5 456.7) scale(0.54 0.89)">G</text>
<text x="0" y="0" font-size="10" font-weight="bold" fill="#d42a2a" transform="translate(603.14 456.7) scale(0.54 0.65)">T</text>
<text x="0" y="0" font-size="10" font-weight="bold" fill="#f2a52a" transform="translate(603.14 452.01) scale(0.54 0.38)">G</text>
<text x="0" y="0" font-size="10" font-weight="bold" fill="#f2a52a" transform="translate(606.78 456.7) scale(0.54 0.9)">G</text>
<text x="0" y="0" font-size="10" font-weight="bold" fill="#f2a52a" transform="translate(610.42 456.7) scale(0.54 0.97)">G</text>
<text x="0" y="0" font-size="10" font-weight="bold" fill="#2f5fc4" transform="translate(614.06 456.7) scale(0.54 0.88)">C</text>
<text x="619.8" y="455.9" font-size="4.3" text-anchor="start" fill="#222">KLF5</text>
<circle cx="644.9" cy="430.4" r="5.8" fill="#e8695a"/>
<circle cx="644.9" cy="442.3" r="5.3" fill="#e8695a"/>
<circle cx="637.7" cy="454.6" r="4.2" fill="#e8695a"/>
<text x="608.4" y="467.2" font-size="4.2" text-anchor="middle" fill="#222">Significance</text>
<circle cx="586.5" cy="474.6" r="1.6" fill="#e8695a"/>
<text x="588" y="484.3" font-size="4.3" text-anchor="middle" fill="#222" transform="rotate(90 588 484.3)">∞</text>
<circle cx="601.1" cy="474.6" r="4.2" fill="#e8695a"/>
<text x="602.6" y="484.3" font-size="4.3" text-anchor="middle" fill="#222" transform="rotate(90 602.6 484.3)">20</text>
<circle cx="616.3" cy="474.6" r="5.3" fill="#e8695a"/>
<text x="617.8" y="484.3" font-size="4.3" text-anchor="middle" fill="#222" transform="rotate(90 617.8 484.3)">60</text>
<circle cx="631.2" cy="474.6" r="6" fill="#e8695a"/>
<text x="632.7" y="484.3" font-size="4.3" text-anchor="middle" fill="#222" transform="rotate(90 632.7 484.3)">90</text>
<text x="0" y="0" font-size="10" font-weight="bold" fill="#f2a52a" transform="translate(578.7 512.4) scale(0.53 0.6)">G</text>
<text x="0" y="0" font-size="10" font-weight="bold" fill="#d42a2a" transform="translate(578.7 508.1) scale(0.53 0.44)">T</text>
<text x="0" y="0" font-size="10" font-weight="bold" fill="#f2a52a" transform="translate(582.24 512.4) scale(0.53 0.71)">G</text>
<text x="0" y="0" font-size="10" font-weight="bold" fill="#2f5fc4" transform="translate(582.24 507.27) scale(0.53 0.33)">C</text>
<text x="0" y="0" font-size="10" font-weight="bold" fill="#3ea33a" transform="translate(585.78 512.4) scale(0.53 0.75)">A</text>
<text x="0" y="0" font-size="10" font-weight="bold" fill="#d42a2a" transform="translate(589.33 512.4) scale(0.53 1.02)">T</text>
<text x="0" y="0" font-size="10" font-weight="bold" fill="#f2a52a" transform="translate(592.87 512.4) scale(0.53 0.9)">G</text>
<text x="0" y="0" font-size="10" font-weight="bold" fill="#3ea33a" transform="translate(596.41 512.4) scale(0.53 0.94)">A</text>
<text x="0" y="0" font-size="10" font-weight="bold" fill="#f2a52a" transform="translate(596.41 505.66) scale(0.53 0.11)">G</text>
<text x="0" y="0" font-size="10" font-weight="bold" fill="#2f5fc4" transform="translate(599.95 512.4) scale(0.53 0.68)">C</text>
<text x="0" y="0" font-size="10" font-weight="bold" fill="#d42a2a" transform="translate(603.49 512.4) scale(0.53 0.95)">T</text>
<text x="0" y="0" font-size="10" font-weight="bold" fill="#2f5fc4" transform="translate(607.03 512.4) scale(0.53 0.98)">C</text>
<text x="0" y="0" font-size="10" font-weight="bold" fill="#3ea33a" transform="translate(610.58 512.4) scale(0.53 0.99)">A</text>
<text x="0" y="0" font-size="10" font-weight="bold" fill="#d42a2a" transform="translate(614.12 512.4) scale(0.53 0.73)">T</text>
<text x="0" y="0" font-size="10" font-weight="bold" fill="#3ea33a" transform="translate(614.12 507.17) scale(0.53 0.32)">A</text>
<text x="0" y="0" font-size="10" font-weight="bold" fill="#2f5fc4" transform="translate(617.66 512.4) scale(0.53 0.78)">C</text>
<text x="0" y="0" font-size="10" font-weight="bold" fill="#d42a2a" transform="translate(617.66 506.81) scale(0.53 0.27)">T</text>
<text x="623" y="510.5" font-size="4.3" text-anchor="start" fill="#222">FOS</text>
<text x="0" y="0" font-size="10" font-weight="bold" fill="#f2a52a" transform="translate(578.7 523.6) scale(0.55 0.81)">G</text>
<text x="0" y="0" font-size="10" font-weight="bold" fill="#d42a2a" transform="translate(578.7 517.76) scale(0.55 0.2)">T</text>
<text x="0" y="0" font-size="10" font-weight="bold" fill="#3ea33a" transform="translate(582.36 523.6) scale(0.55 0.66)">A</text>
<text x="0" y="0" font-size="10" font-weight="bold" fill="#f2a52a" transform="translate(582.36 518.83) scale(0.55 0.35)">G</text>
<text x="0" y="0" font-size="10" font-weight="bold" fill="#d42a2a" transform="translate(586.03 523.6) scale(0.55 0.9)">T</text>
<text x="0" y="0" font-size="10" font-weight="bold" fill="#f2a52a" transform="translate(589.69 523.6) scale(0.55 0.88)">G</text>
<text x="0" y="0" font-size="10" font-weight="bold" fill="#3ea33a" transform="translate(593.35 523.6) scale(0.55 0.99)">A</text>
<text x="0" y="0" font-size="10" font-weight="bold" fill="#2f5fc4" transform="translate(597.02 523.6) scale(0.55 0.81)">C</text>
<text x="0" y="0" font-size="10" font-weight="bold" fill="#f2a52a" transform="translate(597.02 517.75) scale(0.55 0.2)">G</text>
<text x="0" y="0" font-size="10" font-weight="bold" fill="#d42a2a" transform="translate(600.68 523.6) scale(0.55 0.91)">T</text>
<text x="0" y="0" font-size="10" font-weight="bold" fill="#2f5fc4" transform="translate(604.35 523.6) scale(0.55 0.99)">C</text>
<text x="0" y="0" font-size="10" font-weight="bold" fill="#3ea33a" transform="translate(608.01 523.6) scale(0.55 0.93)">A</text>
<text x="0" y="0" font-size="10" font-weight="bold" fill="#d42a2a" transform="translate(611.67 523.6) scale(0.55 0.73)">T</text>
<text x="0" y="0" font-size="10" font-weight="bold" fill="#f2a52a" transform="translate(611.67 518.31) scale(0.55 0.28)">G</text>
<text x="0" y="0" font-size="10" font-weight="bold" fill="#2f5fc4" transform="translate(615.34 523.6) scale(0.55 0.9)">C</text>
<text x="0" y="0" font-size="10" font-weight="bold" fill="#d42a2a" transform="translate(615.34 517.15) scale(0.55 0.12)">T</text>
<text x="620.7" y="522.6" font-size="4.3" text-anchor="start" fill="#222">JUN</text>
<text x="0" y="0" font-size="10" font-weight="bold" fill="#f2a52a" transform="translate(578.7 535.2) scale(0.53 0.76)">G</text>
<text x="0" y="0" font-size="10" font-weight="bold" fill="#d42a2a" transform="translate(578.7 529.7) scale(0.53 0.28)">T</text>
<text x="0" y="0" font-size="10" font-weight="bold" fill="#f2a52a" transform="translate(582.24 535.2) scale(0.53 0.58)">G</text>
<text x="0" y="0" font-size="10" font-weight="bold" fill="#2f5fc4" transform="translate(582.24 531.01) scale(0.53 0.46)">C</text>
<text x="0" y="0" font-size="10" font-weight="bold" fill="#3ea33a" transform="translate(585.78 535.2) scale(0.53 0.71)">A</text>
<text x="0" y="0" font-size="10" font-weight="bold" fill="#d42a2a" transform="translate(589.33 535.2) scale(0.53 0.97)">T</text>
<text x="0" y="0" font-size="10" font-weight="bold" fill="#f2a52a" transform="translate(592.87 535.2) scale(0.53 0.99)">G</text>
<text x="0" y="0" font-size="10" font-weight="bold" fill="#3ea33a" transform="translate(596.41 535.2) scale(0.53 0.94)">A</text>
<text x="0" y="0" font-size="10" font-weight="bold" fill="#f2a52a" transform="translate(596.41 528.45) scale(0.53 0.1)">G</text>
<text x="0" y="0" font-size="10" font-weight="bold" fill="#2f5fc4" transform="translate(599.95 535.2) scale(0.53 0.92)">C</text>
<text x="0" y="0" font-size="10" font-weight="bold" fill="#d42a2a" transform="translate(603.49 535.2) scale(0.53 0.92)">T</text>
<text x="0" y="0" font-size="10" font-weight="bold" fill="#2f5fc4" transform="translate(607.03 535.2) scale(0.53 0.95)">C</text>
<text x="0" y="0" font-size="10" font-weight="bold" fill="#3ea33a" transform="translate(610.58 535.2) scale(0.53 0.9)">A</text>
<text x="0" y="0" font-size="10" font-weight="bold" fill="#d42a2a" transform="translate(610.58 528.76) scale(0.53 0.15)">T</text>
<text x="0" y="0" font-size="10" font-weight="bold" fill="#d42a2a" transform="translate(614.12 535.2) scale(0.53 0.92)">T</text>
<text x="0" y="0" font-size="10" font-weight="bold" fill="#f2a52a" transform="translate(614.12 528.61) scale(0.53 0.13)">G</text>
<text x="0" y="0" font-size="10" font-weight="bold" fill="#2f5fc4" transform="translate(617.66 535.2) scale(0.53 0.76)">C</text>
<text x="0" y="0" font-size="10" font-weight="bold" fill="#2f5fc4" transform="translate(617.66 529.75) scale(0.53 0.29)">C</text>
<text x="623" y="533.6" font-size="4.3" text-anchor="start" fill="#222">ATF3</text>
<circle cx="642.2" cy="508" r="6.3" fill="#2b2d64"/>
<circle cx="642.2" cy="520.7" r="5.8" fill="#2b2d64"/>
<circle cx="642.2" cy="532.4" r="6.1" fill="#2b2d64"/>
<text x="608.4" y="544.2" font-size="4.2" text-anchor="middle" fill="#222">Significance</text>
<circle cx="583.6" cy="554.3" r="1.8" fill="#2b2d64"/>
<text x="585.1" y="564.5" font-size="4.3" text-anchor="middle" fill="#222" transform="rotate(90 585.1 564.5)">0</text>
<circle cx="597" cy="554.3" r="4.2" fill="#2b2d64"/>
<text x="598.5" y="564.5" font-size="4.3" text-anchor="middle" fill="#222" transform="rotate(90 598.5 564.5)">100</text>
<circle cx="610.7" cy="554.3" r="4.7" fill="#2b2d64"/>
<text x="612.2" y="564.5" font-size="4.3" text-anchor="middle" fill="#222" transform="rotate(90 612.2 564.5)">300</text>
<circle cx="623.7" cy="554.3" r="5.3" fill="#2b2d64"/>
<text x="625.2" y="564.5" font-size="4.3" text-anchor="middle" fill="#222" transform="rotate(90 625.2 564.5)">450</text>
<circle cx="637.3" cy="554.3" r="6.1" fill="#2b2d64"/>
<text x="638.8" y="564.5" font-size="4.3" text-anchor="middle" fill="#222" transform="rotate(90 638.8 564.5)">600</text>
<text x="0.3" y="599.5" font-size="15" font-weight="bold" fill="#000">j</text>
<path d="M63.64,611.31 C64.43,610.66 65.18,609.81 67.42,609.42 C69.65,609.03 74.17,608.97 77.05,608.97 C79.93,608.97 82.15,608.7 84.7,609.42 C87.25,610.14 90.59,611.85 92.35,613.29 C94.1,614.73 94.91,616.3 95.23,618.06 C95.54,619.81 94.72,622.23 94.24,623.82 C93.76,625.41 92.99,625.69 92.35,627.6 C91.7,629.5 91.33,633.01 90.37,635.25 C89.41,637.48 87.38,638.77 86.59,641.01 C85.79,643.24 86.08,646.59 85.6,648.66 C85.12,650.73 84.82,651.82 83.71,653.43 C82.6,655.03 80.38,656.85 78.94,658.29 C77.5,659.73 76.51,661.92 75.07,662.07 C73.63,662.22 72.05,659.82 70.3,659.19 C68.54,658.56 66.94,658.92 64.54,658.29 C62.14,657.66 58.13,656.53 55.9,655.41 C53.66,654.28 51.92,653.29 51.13,651.54 C50.33,649.78 50.96,646.95 51.13,644.88 C51.29,642.81 51.79,640.87 52.12,639.12 C52.45,637.36 52.63,636.1 53.11,634.35 C53.59,632.59 54.2,630.34 55,628.59 C55.79,626.83 56.92,625.57 57.88,623.82 C58.84,622.06 59.96,619.81 60.76,618.06 C61.55,616.3 62.17,614.41 62.65,613.29 C63.13,612.16 62.84,611.95 63.64,611.31Z" fill="#5b8ec6" stroke="none" stroke-width="0.6"/>
<path d="M63.4 610.6h0M67.5 609.8h0M69.8 609.1h0M72.2 609.3h0M74.7 608.8h0M77.2 608.2h0M79.5 609.4h0M82.2 609.2h0M84.6 609.5h0M87.3 610.6h0M90.9 610.7h0M92.3 613.3h0M93.4 616h0M96.9 616.9h0M94.8 620.9h0M94.4 623.8h0M92.1 627.7h0M92.3 630h0M90.1 632.8h0M88.9 635.1h0M86.7 637.7h0M86.1 640.8h0M87.2 644.2h0M85.6 645.8h0M85.1 648.1h0M85.6 652.4h0M83.8 653.6h0M81.9 657.2h0M78.7 657.5h0M77.3 662h0M75.3 663.9h0M72.7 661.6h0M70.3 659.9h0M67 660.9h0M64.5 658.4h0M62 656.6h0M58.7 656.4h0M56.4 654.8h0M53.7 653.2h0M50.8 651.9h0M49.4 649.4h0M50.7 645.1h0M51.7 642h0M50.8 639.5h0M52.3 636.8h0M54.8 634.3h0M55.6 631.7h0M55.8 628.8h0M57.2 626.6h0M58.4 624.2h0M58.9 620.6h0M61.4 619h0M61.4 615.1h0M63 614.1h0M96.4 598h0M88.3 600.8h0M72 606.5h0M49.1 622.1h0M38.7 643.6h0M42.5 653.3h0M45.4 648h0M99 627.3h0M96.5 631.6h0M90.5 651.1h0M81.5 659.9h0M77.6 664.9h0M89.8 607.1h0M86.1 654.9h0M48.5 655.5h0M65.8 606.7h0M96.8 613.5h0M95.2 629.4h0M90.8 641.6h0M89 648.4h0M92.7 638.2h0M86 654.6h0M85.7 606.1h0M48.5 645.6h0M88.5 646.9h0M59.1 661.2h0M79.8 661.5h0M55.6 620.6h0M78.8 664.3h0M73 665.4h0M77.2 604.9h0M56.3 618.5h0M93.1 607.9h0M55.5 623.1h0M78.3 664.7h0M51.9 657.5h0M97.2 612.5h0M76.5 665.3h0M47.4 649.2h0M72.4 665.2h0" stroke="#5b8ec6" stroke-width="4.1" stroke-linecap="round" fill="none"/>
<line x1="35.6" y1="595.5" x2="35.6" y2="667.3" stroke="#555" stroke-width="0.6"/>
<line x1="35.6" y1="667.3" x2="102.5" y2="667.3" stroke="#555" stroke-width="0.6"/>
<line x1="34.1" y1="611.6" x2="35.6" y2="611.6" stroke="#555" stroke-width="0.5"/>
<text x="33.2" y="614.1" font-size="7.1" text-anchor="end" fill="#222">0.2</text>
<line x1="34.1" y1="631.4" x2="35.6" y2="631.4" stroke="#555" stroke-width="0.5"/>
<text x="33.2" y="633.9" font-size="7.1" text-anchor="end" fill="#222">0.0</text>
<line x1="34.1" y1="651.6" x2="35.6" y2="651.6" stroke="#555" stroke-width="0.5"/>
<text x="33.2" y="654.1" font-size="7.1" text-anchor="end" fill="#222">−0.2</text>
<line x1="38.9" y1="667.3" x2="38.9" y2="668.8" stroke="#555" stroke-width="0.5"/>
<text x="38.9" y="677.2" font-size="7.1" text-anchor="middle" fill="#222">−0.2</text>
<line x1="58.7" y1="667.3" x2="58.7" y2="668.8" stroke="#555" stroke-width="0.5"/>
<text x="58.7" y="677.2" font-size="7.1" text-anchor="middle" fill="#222">0.0</text>
<line x1="79.2" y1="667.3" x2="79.2" y2="668.8" stroke="#555" stroke-width="0.5"/>
<text x="79.2" y="677.2" font-size="7.1" text-anchor="middle" fill="#222">0.2</text>
<line x1="99.5" y1="667.3" x2="99.5" y2="668.8" stroke="#555" stroke-width="0.5"/>
<text x="99.5" y="677.2" font-size="7.1" text-anchor="middle" fill="#222">0.4</text>
<text x="71.65" y="685.3" font-size="7" text-anchor="middle" fill="#222">EMT score</text>
<text x="14.5" y="631.4" font-size="6.9" text-anchor="middle" fill="#222" transform="rotate(-90 14.5 631.4)">JUN enrichment score</text>
<line x1="38.2" y1="648.4" x2="99.9" y2="619.2" stroke="#111" stroke-width="0.8"/>
<text x="37.7" y="604.6" font-size="6.9" text-anchor="start" fill="#222">R=0.36, <tspan font-style="italic">p</tspan> &lt; 2.2e-16</text>
<path d="M169.24,611.31 C170.03,610.66 170.78,609.81 173.02,609.42 C175.25,609.03 179.77,608.97 182.65,608.97 C185.53,608.97 187.75,608.7 190.3,609.42 C192.85,610.14 196.19,611.85 197.95,613.29 C199.7,614.73 200.51,616.3 200.83,618.06 C201.14,619.81 200.32,622.23 199.84,623.82 C199.36,625.41 198.59,625.69 197.95,627.6 C197.3,629.5 196.93,633.01 195.97,635.25 C195.01,637.48 192.98,638.77 192.19,641.01 C191.39,643.24 191.68,646.59 191.2,648.66 C190.72,650.73 190.42,651.82 189.31,653.43 C188.2,655.03 185.98,656.85 184.54,658.29 C183.1,659.73 182.11,661.92 180.67,662.07 C179.23,662.22 177.65,659.82 175.9,659.19 C174.14,658.56 172.54,658.92 170.14,658.29 C167.74,657.66 163.73,656.53 161.5,655.41 C159.26,654.28 157.52,653.29 156.73,651.54 C155.93,649.78 156.56,646.95 156.73,644.88 C156.89,642.81 157.39,640.87 157.72,639.12 C158.05,637.36 158.23,636.1 158.71,634.35 C159.19,632.59 159.8,630.34 160.6,628.59 C161.39,626.83 162.52,625.57 163.48,623.82 C164.44,622.06 165.56,619.81 166.36,618.06 C167.15,616.3 167.77,614.41 168.25,613.29 C168.73,612.16 168.44,611.95 169.24,611.31Z" fill="#5b8ec6" stroke="none" stroke-width="0.6"/>
<path d="M168.7 609.8h0M172.6 607.5h0M175.4 608.5h0M177.8 607.4h0M180.1 610h0M182.7 608.7h0M185.8 607.2h0M188.4 607.6h0M190.6 608.9h0M192.9 610.7h0M195.9 611.4h0M198.3 612.9h0M200.6 614.6h0M201.9 617.3h0M199.8 621.2h0M201.3 623.1h0M198.8 627.3h0M197.4 630.1h0M197.6 632.6h0M197.2 635.3h0M192.3 637.7h0M191.1 640.5h0M191.9 643.6h0M191.4 646h0M192 649.6h0M190.5 651.4h0M188.7 652.4h0M187.5 657.2h0M184.3 657.5h0M182.9 661.5h0M180.7 662.1h0M178.3 662.8h0M175.9 658.9h0M172.6 660.8h0M170.4 657.6h0M167.6 656.6h0M164 657.1h0M161.2 655.8h0M157.9 654.7h0M155.5 652.6h0M155.8 648.9h0M156.5 645h0M156.3 642.4h0M157.8 639.1h0M159.8 636.5h0M159.2 634.3h0M159.6 631.5h0M161.3 628.8h0M162.6 626.5h0M164.7 624.7h0M166 622.1h0M167.1 619.1h0M166.7 614.6h0M168.3 613.5h0M201.2 598.1h0M193.7 600.1h0M178.8 605.6h0M156.5 622.9h0M143.2 644.2h0M147.9 653.3h0M151.4 647.3h0M204.9 626h0M202.5 632.4h0M196.1 650.3h0M182.9 664.2h0M182.5 665.9h0M172.1 661.9h0M182.9 665.8h0M194.8 641.2h0M160.2 622.6h0M154.2 644h0M196.6 638.1h0M203.8 619.5h0M188.8 659.5h0M158.7 624.4h0M161.2 620.1h0M158.2 625.1h0M193.5 651.2h0M203.5 623h0M160.5 624.2h0M153.4 655.4h0M200.5 627.8h0M192.1 605.9h0M201.7 626.7h0M160.1 622.9h0M203.3 613.1h0M153.8 647.4h0M185.7 662.4h0M184.8 663.8h0M193.6 606.6h0M165.1 612.1h0M166.5 612h0M195 640.6h0M200.7 626.7h0" stroke="#5b8ec6" stroke-width="4.1" stroke-linecap="round" fill="none"/>
<line x1="141.2" y1="595.5" x2="141.2" y2="667.3" stroke="#555" stroke-width="0.6"/>
<line x1="141.2" y1="667.3" x2="207.2" y2="667.3" stroke="#555" stroke-width="0.6"/>
<line x1="139.7" y1="609.5" x2="141.2" y2="609.5" stroke="#555" stroke-width="0.5"/>
<text x="138.8" y="612" font-size="7.1" text-anchor="end" fill="#222">0.2</text>
<line x1="139.7" y1="631.4" x2="141.2" y2="631.4" stroke="#555" stroke-width="0.5"/>
<text x="138.8" y="633.9" font-size="7.1" text-anchor="end" fill="#222">0.0</text>
<line x1="139.7" y1="653.3" x2="141.2" y2="653.3" stroke="#555" stroke-width="0.5"/>
<text x="138.8" y="655.8" font-size="7.1" text-anchor="end" fill="#222">−0.2</text>
<line x1="144.2" y1="667.3" x2="144.2" y2="668.8" stroke="#555" stroke-width="0.5"/>
<text x="144.2" y="677.2" font-size="7.1" text-anchor="middle" fill="#222">−0.2</text>
<line x1="164.3" y1="667.3" x2="164.3" y2="668.8" stroke="#555" stroke-width="0.5"/>
<text x="164.3" y="677.2" font-size="7.1" text-anchor="middle" fill="#222">0.0</text>
<line x1="184.5" y1="667.3" x2="184.5" y2="668.8" stroke="#555" stroke-width="0.5"/>
<text x="184.5" y="677.2" font-size="7.1" text-anchor="middle" fill="#222">0.2</text>
<line x1="205.5" y1="667.3" x2="205.5" y2="668.8" stroke="#555" stroke-width="0.5"/>
<text x="205.5" y="677.2" font-size="7.1" text-anchor="middle" fill="#222">0.4</text>
<text x="176.8" y="685.3" font-size="7" text-anchor="middle" fill="#222">EMT score</text>
<text x="119.5" y="631.4" font-size="6.9" text-anchor="middle" fill="#222" transform="rotate(-90 119.5 631.4)">FOS enrichment score</text>
<line x1="144.2" y1="649.8" x2="205.5" y2="617.1" stroke="#111" stroke-width="0.8"/>
<text x="142.9" y="604.6" font-size="6.9" text-anchor="start" fill="#222">R=0.37, <tspan font-style="italic">p</tspan> &lt; 2.2e-16</text>
<path d="M274.94,611.31 C275.73,610.66 276.48,609.81 278.72,609.42 C280.95,609.03 285.47,608.97 288.35,608.97 C291.23,608.97 293.45,608.7 296,609.42 C298.55,610.14 301.89,611.85 303.65,613.29 C305.4,614.73 306.21,616.3 306.53,618.06 C306.84,619.81 306.02,622.23 305.54,623.82 C305.06,625.41 304.29,625.69 303.65,627.6 C303,629.5 302.63,633.01 301.67,635.25 C300.71,637.48 298.68,638.77 297.89,641.01 C297.09,643.24 297.38,646.59 296.9,648.66 C296.42,650.73 296.12,651.82 295.01,653.43 C293.9,655.03 291.68,656.85 290.24,658.29 C288.8,659.73 287.81,661.92 286.37,662.07 C284.93,662.22 283.35,659.82 281.6,659.19 C279.84,658.56 278.24,658.92 275.84,658.29 C273.44,657.66 269.43,656.53 267.2,655.41 C264.96,654.28 263.22,653.29 262.43,651.54 C261.63,649.78 262.26,646.95 262.43,644.88 C262.59,642.81 263.09,640.87 263.42,639.12 C263.75,637.36 263.93,636.1 264.41,634.35 C264.89,632.59 265.5,630.34 266.3,628.59 C267.09,626.83 268.22,625.57 269.18,623.82 C270.14,622.06 271.26,619.81 272.06,618.06 C272.85,616.3 273.47,614.41 273.95,613.29 C274.43,612.16 274.14,611.95 274.94,611.31Z" fill="#5b8ec6" stroke="none" stroke-width="0.6"/>
<path d="M274.9 611.1h0M278.8 609.8h0M280.9 607.3h0M283.5 608.8h0M286 608.7h0M288.6 607.5h0M290.8 609.3h0M293.5 609.1h0M296 609.5h0M299.2 609.6h0M301.6 611.4h0M304.2 612.8h0M306.8 614.2h0M308.5 616.7h0M307.1 620.4h0M306.3 623.5h0M302.5 628h0M303.2 630.1h0M303.4 632.6h0M300.5 635.2h0M298.1 637.7h0M297.9 641h0M296.9 643.1h0M296.3 645.3h0M296.9 648.6h0M296.1 651.2h0M295.7 654.6h0M292.3 655.2h0M290.1 658h0M288.4 660.6h0M286.5 663.7h0M284 660.8h0M281.6 659.4h0M278.9 657.9h0M276.1 657.4h0M272.9 657.4h0M269.3 657.7h0M266.7 656h0M265.3 653h0M262.3 651.6h0M260.7 649.4h0M261.4 645.4h0M263.3 641.8h0M263 639.2h0M264 636.7h0M263.6 634.4h0M264.9 631.4h0M267.1 628.8h0M268.1 626.4h0M268.1 623.1h0M270.9 621.3h0M271.8 617.7h0M272.7 615.2h0M274.3 614h0M307.3 599.2h0M299.7 601.2h0M283.4 606h0M260.2 622.9h0M250.1 644.5h0M255.2 652.5h0M257.6 646.2h0M312.2 627.1h0M307.9 630.9h0M302.6 650.1h0M303.7 609.1h0M302.2 608.6h0M309.4 620.8h0M306.4 632.3h0M309 622.6h0M258.3 651.4h0M270.1 614.1h0M271.7 611.6h0M307.8 626.1h0M302.3 638.5h0M284.8 665.5h0M306.2 631.1h0M262.5 632.1h0M290.4 663.3h0M297.2 656h0M299.9 644.6h0M269.4 661h0M304 636.1h0M270.3 660.4h0M300.3 606.1h0M273.7 606.8h0M309.2 618.7h0M295.1 605.4h0M258.7 653.1h0M278.7 662.6h0M273.7 607h0M280.1 662.3h0M299.7 643.9h0M271.9 609.9h0M288.1 605.3h0" stroke="#5b8ec6" stroke-width="4.1" stroke-linecap="round" fill="none"/>
<line x1="246.9" y1="595.5" x2="246.9" y2="667.3" stroke="#555" stroke-width="0.6"/>
<line x1="246.9" y1="667.3" x2="314" y2="667.3" stroke="#555" stroke-width="0.6"/>
<line x1="245.4" y1="612.5" x2="246.9" y2="612.5" stroke="#555" stroke-width="0.5"/>
<text x="244.5" y="615" font-size="7.1" text-anchor="end" fill="#222">0.2</text>
<line x1="245.4" y1="633.5" x2="246.9" y2="633.5" stroke="#555" stroke-width="0.5"/>
<text x="244.5" y="636" font-size="7.1" text-anchor="end" fill="#222">0.0</text>
<line x1="245.4" y1="654.6" x2="246.9" y2="654.6" stroke="#555" stroke-width="0.5"/>
<text x="244.5" y="657.1" font-size="7.1" text-anchor="end" fill="#222">−0.2</text>
<line x1="249.7" y1="667.3" x2="249.7" y2="668.8" stroke="#555" stroke-width="0.5"/>
<text x="249.7" y="677.2" font-size="7.1" text-anchor="middle" fill="#222">−0.2</text>
<line x1="270.2" y1="667.3" x2="270.2" y2="668.8" stroke="#555" stroke-width="0.5"/>
<text x="270.2" y="677.2" font-size="7.1" text-anchor="middle" fill="#222">0.0</text>
<line x1="290.7" y1="667.3" x2="290.7" y2="668.8" stroke="#555" stroke-width="0.5"/>
<text x="290.7" y="677.2" font-size="7.1" text-anchor="middle" fill="#222">0.2</text>
<line x1="311" y1="667.3" x2="311" y2="668.8" stroke="#555" stroke-width="0.5"/>
<text x="311" y="677.2" font-size="7.1" text-anchor="middle" fill="#222">0.4</text>
<text x="283.05" y="685.3" font-size="7" text-anchor="middle" fill="#222">EMT score</text>
<text x="225.3" y="631.4" font-size="6.9" text-anchor="middle" fill="#222" transform="rotate(-90 225.3 631.4)">FOSL1 enrichment score</text>
<line x1="249.7" y1="650.7" x2="311" y2="620.6" stroke="#111" stroke-width="0.8"/>
<text x="249.2" y="604.6" font-size="6.9" text-anchor="start" fill="#222">R=0.36, <tspan font-style="italic">p</tspan> &lt; 2.2e-16</text>
<path d="M380.64,611.31 C381.43,610.66 382.18,609.81 384.42,609.42 C386.65,609.03 391.17,608.97 394.05,608.97 C396.93,608.97 399.15,608.7 401.7,609.42 C404.25,610.14 407.59,611.85 409.35,613.29 C411.1,614.73 411.91,616.3 412.23,618.06 C412.54,619.81 411.72,622.23 411.24,623.82 C410.76,625.41 409.99,625.69 409.35,627.6 C408.7,629.5 408.33,633.01 407.37,635.25 C406.41,637.48 404.38,638.77 403.59,641.01 C402.79,643.24 403.08,646.59 402.6,648.66 C402.12,650.73 401.82,651.82 400.71,653.43 C399.6,655.03 397.38,656.85 395.94,658.29 C394.5,659.73 393.51,661.92 392.07,662.07 C390.63,662.22 389.05,659.82 387.3,659.19 C385.54,658.56 383.94,658.92 381.54,658.29 C379.14,657.66 375.13,656.53 372.9,655.41 C370.66,654.28 368.92,653.29 368.13,651.54 C367.33,649.78 367.96,646.95 368.13,644.88 C368.29,642.81 368.79,640.87 369.12,639.12 C369.45,637.36 369.63,636.1 370.11,634.35 C370.59,632.59 371.2,630.34 372,628.59 C372.79,626.83 373.92,625.57 374.88,623.82 C375.84,622.06 376.96,619.81 377.76,618.06 C378.55,616.3 379.17,614.41 379.65,613.29 C380.13,612.16 379.84,611.95 380.64,611.31Z" fill="#5b8ec6" stroke="none" stroke-width="0.6"/>
<path d="M380.9 612.1h0M384.6 610.3h0M386.7 607.5h0M389.2 609h0M391.5 610.1h0M394 609.2h0M397.2 607h0M399.1 609.4h0M402.8 607.3h0M404.8 609.9h0M407 611.8h0M409.7 612.9h0M411.4 615.2h0M412.5 617.8h0M413.5 619.9h0M412.7 623.2h0M410.2 627.3h0M407.8 630.3h0M407.5 632.7h0M406.7 635.2h0M404.6 637.9h0M403.7 641h0M402.5 643h0M401.7 645h0M401.7 647.7h0M401.8 651.2h0M401.6 655h0M399 657.5h0M396.5 660.2h0M394.3 661.7h0M392 661.5h0M389.7 662.2h0M387.3 659.4h0M384.3 659.4h0M381.8 657.5h0M378.7 657.1h0M376 656h0M371.9 656.7h0M369 655h0M368.1 651.6h0M367.4 648.7h0M366.8 645.6h0M368.8 641.9h0M369.3 639.1h0M369.9 636.7h0M370.9 634.3h0M371.7 631.6h0M371.2 628.3h0M374.8 626.9h0M374.8 623.8h0M376.1 620.7h0M377.3 617.4h0M378.2 614.7h0M378.9 611.6h0M412.3 598.1h0M405.7 601.8h0M390.7 605.8h0M367.9 621.8h0M355.9 644.9h0M360 652.6h0M362.9 647.5h0M417.4 627.2h0M413.3 632.1h0M407.1 651.5h0M397.8 606.1h0M395.2 663.9h0M367.7 628.9h0M377.3 610.7h0M377.7 609.7h0M377.3 610.3h0M391.3 605.8h0M404.1 653.2h0M409.5 636.2h0M386.3 663.7h0M384.3 662.4h0M407.6 641.9h0M409.9 608.9h0M373.8 619.5h0M376.8 613.3h0M395.3 663h0M379.7 606.5h0M405.3 651.8h0M415.8 618.5h0M368.1 630h0M390.6 605.3h0M374.5 660.9h0M389.8 604.8h0M374.2 618.2h0M373.8 619.1h0M404.9 649.4h0M415.4 621.5h0M371.3 624.5h0M406.3 606.8h0M414.3 620.8h0" stroke="#5b8ec6" stroke-width="4.1" stroke-linecap="round" fill="none"/>
<line x1="352.6" y1="595.5" x2="352.6" y2="667.3" stroke="#555" stroke-width="0.6"/>
<line x1="352.6" y1="667.3" x2="419.9" y2="667.3" stroke="#555" stroke-width="0.6"/>
<line x1="351.1" y1="613" x2="352.6" y2="613" stroke="#555" stroke-width="0.5"/>
<text x="350.2" y="615.5" font-size="7.1" text-anchor="end" fill="#222">0.2</text>
<line x1="351.1" y1="633.2" x2="352.6" y2="633.2" stroke="#555" stroke-width="0.5"/>
<text x="350.2" y="635.7" font-size="7.1" text-anchor="end" fill="#222">0.0</text>
<line x1="351.1" y1="653.3" x2="352.6" y2="653.3" stroke="#555" stroke-width="0.5"/>
<text x="350.2" y="655.8" font-size="7.1" text-anchor="end" fill="#222">−0.2</text>
<line x1="355.9" y1="667.3" x2="355.9" y2="668.8" stroke="#555" stroke-width="0.5"/>
<text x="355.9" y="677.2" font-size="7.1" text-anchor="middle" fill="#222">−0.2</text>
<line x1="376.4" y1="667.3" x2="376.4" y2="668.8" stroke="#555" stroke-width="0.5"/>
<text x="376.4" y="677.2" font-size="7.1" text-anchor="middle" fill="#222">0.0</text>
<line x1="396.7" y1="667.3" x2="396.7" y2="668.8" stroke="#555" stroke-width="0.5"/>
<text x="396.7" y="677.2" font-size="7.1" text-anchor="middle" fill="#222">0.2</text>
<line x1="417.2" y1="667.3" x2="417.2" y2="668.8" stroke="#555" stroke-width="0.5"/>
<text x="417.2" y="677.2" font-size="7.1" text-anchor="middle" fill="#222">0.4</text>
<text x="388.85" y="685.3" font-size="7" text-anchor="middle" fill="#222">EMT score</text>
<text x="331" y="631.4" font-size="6.9" text-anchor="middle" fill="#222" transform="rotate(-90 331 631.4)">FOSL2 enrichment score</text>
<line x1="355.9" y1="650.7" x2="417.2" y2="620.6" stroke="#111" stroke-width="0.8"/>
<text x="355" y="604.6" font-size="6.9" text-anchor="start" fill="#222">R=0.36, <tspan font-style="italic">p</tspan> &lt; 2.2e-16</text>
<path d="M478.79,618.95 C479.92,617.51 481.73,615.97 483.65,615.17 C485.57,614.38 488.24,614.03 490.31,614.18 C492.38,614.33 494.15,615.19 496.07,616.07 C497.99,616.96 500.08,618.53 501.83,619.49 C503.59,620.45 504.7,620.96 506.6,621.83 C508.51,622.7 511.51,623.44 513.26,624.71 C515.02,625.99 515.93,627.08 517.13,629.48 C518.33,631.88 520.3,636.88 520.46,639.11 C520.63,641.35 519.64,641.93 518.12,642.89 C516.61,643.85 513.46,644.06 511.37,644.87 C509.29,645.68 507.52,646.81 505.61,647.75 C503.71,648.7 502.18,649.91 499.94,650.54 C497.71,651.17 494.44,651.44 492.2,651.53 C489.97,651.62 488.44,651.56 486.53,651.08 C484.63,650.6 482.69,649.37 480.77,648.65 C478.85,647.93 476.14,648.2 475.01,646.76 C473.89,645.32 474.5,641.93 474.02,640.01 C473.54,638.09 472.13,637.15 472.13,635.24 C472.13,633.34 473.23,630.49 474.02,628.58 C474.82,626.68 476.11,625.42 476.9,623.81 C477.7,622.21 477.67,620.39 478.79,618.95Z" fill="#5b8ec6" stroke="none" stroke-width="0.6"/>
<path d="M478.7 618.8h0M480.4 616h0M484.2 616.1h0M486.9 614.6h0M490.3 614h0M493.2 615.6h0M495.9 617.4h0M499 617.6h0M501.9 619.3h0M503.7 621.4h0M506.2 622.2h0M507.8 623.6h0M512.2 623h0M513.4 624.6h0M514.2 627.4h0M517.6 629.4h0M519 631.8h0M519.8 634.3h0M521.4 636.9h0M520.2 639.1h0M517.5 642.7h0M516.4 643.8h0M514 644.4h0M512 645.3h0M509.1 646.8h0M506.3 648.6h0M501.9 647.6h0M500.2 651.3h0M497.5 651.7h0M494.8 651h0M492.2 651.2h0M489.6 650.4h0M486.8 650.5h0M483.6 650h0M481.3 648.1h0M476.7 648.8h0M474.6 647h0M474.8 643.3h0M473.7 640.1h0M473 637.6h0M473 635.2h0M472.8 631.9h0M472.9 628.3h0M476.8 626.7h0M477.8 624.3h0M477.2 620.9h0M507.8 598.4h0M490.8 604.6h0M494.1 605.5h0M477.7 611.5h0M486.4 609.2h0M504.1 612.7h0M466.8 629h0M461.6 636.5h0M491 665h0M512.5 654h0M512.8 661.5h0M517.2 654.5h0M476.4 651.5h0M512.7 621h0M496.4 654h0M468.8 634.3h0M516.5 623.9h0M524.1 641.8h0M470.6 639.9h0M487.8 610.8h0M471.7 646.8h0M524 642.5h0M517.7 623.9h0M521.5 644.4h0M494.9 612.1h0M499.2 654h0M499.4 654.5h0M472 646h0M518.8 627.3h0M477.8 615.6h0M469.6 638.6h0M473.8 621.2h0M517.7 646h0M477 615.9h0M510 620.7h0M521.5 644.1h0M484.7 654h0M505.6 617.6h0M521.1 629.7h0M470.4 627.4h0M471.1 625.7h0M489.2 611h0M492.1 654h0M499.8 653.1h0" stroke="#5b8ec6" stroke-width="4.1" stroke-linecap="round" fill="none"/>
<line x1="458.8" y1="595.5" x2="458.8" y2="667.3" stroke="#555" stroke-width="0.6"/>
<line x1="458.8" y1="667.3" x2="525.8" y2="667.3" stroke="#555" stroke-width="0.6"/>
<line x1="457.3" y1="613.8" x2="458.8" y2="613.8" stroke="#555" stroke-width="0.5"/>
<text x="456.4" y="616.3" font-size="7.1" text-anchor="end" fill="#222">0.2</text>
<line x1="457.3" y1="634.7" x2="458.8" y2="634.7" stroke="#555" stroke-width="0.5"/>
<text x="456.4" y="637.2" font-size="7.1" text-anchor="end" fill="#222">0.0</text>
<line x1="457.3" y1="655.6" x2="458.8" y2="655.6" stroke="#555" stroke-width="0.5"/>
<text x="456.4" y="658.1" font-size="7.1" text-anchor="end" fill="#222">−0.2</text>
<line x1="461.3" y1="667.3" x2="461.3" y2="668.8" stroke="#555" stroke-width="0.5"/>
<text x="461.3" y="677.2" font-size="7.1" text-anchor="middle" fill="#222">−0.2</text>
<line x1="481.6" y1="667.3" x2="481.6" y2="668.8" stroke="#555" stroke-width="0.5"/>
<text x="481.6" y="677.2" font-size="7.1" text-anchor="middle" fill="#222">0.0</text>
<line x1="502.5" y1="667.3" x2="502.5" y2="668.8" stroke="#555" stroke-width="0.5"/>
<text x="502.5" y="677.2" font-size="7.1" text-anchor="middle" fill="#222">0.2</text>
<line x1="523" y1="667.3" x2="523" y2="668.8" stroke="#555" stroke-width="0.5"/>
<text x="523" y="677.2" font-size="7.1" text-anchor="middle" fill="#222">0.4</text>
<text x="494.9" y="685.3" font-size="7" text-anchor="middle" fill="#222">EMT score</text>
<text x="437" y="631.4" font-size="6.9" text-anchor="middle" fill="#222" transform="rotate(-90 437 631.4)">NFKB1 enrichment score</text>
<line x1="461.3" y1="631.5" x2="523" y2="636.2" stroke="#111" stroke-width="0.8"/>
<text x="461.3" y="604.6" font-size="6.9" text-anchor="start" fill="#222">R = −0.13, <tspan font-style="italic">p</tspan> = 1.5e-04</text>
<path d="M582.11,629.1 C583.07,627.03 584.14,624.86 585.89,623.34 C587.65,621.83 590.24,620.33 592.64,620.01 C595.04,619.7 597.74,621.06 600.29,621.45 C602.84,621.84 605.39,621.39 607.94,622.35 C610.49,623.31 613.36,625.61 615.59,627.21 C617.83,628.82 619.91,630.23 621.35,631.98 C622.79,633.74 623.6,635.67 624.23,637.74 C624.86,639.81 625.94,642.5 625.13,644.4 C624.32,646.31 621.44,648.06 619.37,649.17 C617.3,650.28 614.93,650.1 612.71,651.06 C610.49,652.02 608.12,653.97 606.05,654.93 C603.98,655.89 602.21,656.82 600.29,656.82 C598.37,656.82 596.45,655.73 594.53,654.93 C592.61,654.14 590.69,653.33 588.77,652.05 C586.85,650.78 584.45,648.87 583.01,647.28 C581.57,645.69 580.61,644.43 580.13,642.51 C579.65,640.59 579.8,638 580.13,635.76 C580.46,633.53 581.15,631.17 582.11,629.1Z" fill="#5b8ec6" stroke="none" stroke-width="0.6"/>
<path d="M582.2 629.2h0M582.6 625.2h0M586 623.5h0M587.2 621h0M590.1 620.6h0M592.4 619.5h0M594.8 619.3h0M597.7 620.9h0M600.3 621h0M602.8 622.2h0M605.6 621.4h0M608.3 621.5h0M609.5 625.6h0M613.8 624.7h0M614.3 628.3h0M617.8 628.6h0M618.2 631h0M622.3 631.7h0M622.8 634.9h0M623.4 637.8h0M626.2 641.2h0M624.8 644.3h0M624.8 646.5h0M621.1 647.5h0M619.6 649.3h0M615.8 649.9h0M613 651.4h0M610 651.6h0M608.1 653.3h0M605.7 653.7h0M603.1 655h0M600.4 655.3h0M597.6 654.8h0M594.9 654h0M591.5 653.7h0M589.7 651h0M587.9 649.6h0M583.8 649.6h0M582.6 647.5h0M582.8 644.5h0M578.9 642.7h0M579.2 639.1h0M579.7 635.7h0M579.6 631.9h0M599.1 598.7h0M592.2 608.8h0M595.9 609.4h0M585.3 615.7h0M613.5 618.9h0M572.5 631.7h0M567.2 637.6h0M575.7 645h0M579.4 651.9h0M583.7 658.8h0M602.3 664.7h0M618.3 654.6h0M628.9 646.1h0M576.7 632.1h0M597.8 618.3h0M628.1 643.8h0M596.2 618.2h0M576.4 642.8h0M624.1 631h0M628.5 643.7h0M604.1 659.8h0M578.6 629.7h0M582.8 620.9h0M576.7 641.4h0M587.5 618.9h0M616.3 653.3h0M588.7 617.3h0M598.1 617.9h0M595.3 657.7h0M600.2 618.9h0M579.7 646.7h0M577.8 632.1h0M585.5 619.4h0M618.1 652.8h0M628.8 643.4h0M627.7 647.3h0M598.8 617.8h0M585.3 654.3h0M628 640.5h0M577.2 640.6h0M584.4 620.1h0M577.1 639h0M578 632h0" stroke="#5b8ec6" stroke-width="4.1" stroke-linecap="round" fill="none"/>
<line x1="564.5" y1="595.5" x2="564.5" y2="667.3" stroke="#555" stroke-width="0.6"/>
<line x1="564.5" y1="667.3" x2="631.9" y2="667.3" stroke="#555" stroke-width="0.6"/>
<line x1="563" y1="607.4" x2="564.5" y2="607.4" stroke="#555" stroke-width="0.5"/>
<text x="562.1" y="609.9" font-size="7.1" text-anchor="end" fill="#222">0.4</text>
<line x1="563" y1="623.9" x2="564.5" y2="623.9" stroke="#555" stroke-width="0.5"/>
<text x="562.1" y="626.4" font-size="7.1" text-anchor="end" fill="#222">0.2</text>
<line x1="563" y1="640.4" x2="564.5" y2="640.4" stroke="#555" stroke-width="0.5"/>
<text x="562.1" y="642.9" font-size="7.1" text-anchor="end" fill="#222">0.0</text>
<line x1="563" y1="656.7" x2="564.5" y2="656.7" stroke="#555" stroke-width="0.5"/>
<text x="562.1" y="659.2" font-size="7.1" text-anchor="end" fill="#222">−0.2</text>
<line x1="567.3" y1="667.3" x2="567.3" y2="668.8" stroke="#555" stroke-width="0.5"/>
<text x="567.3" y="677.2" font-size="7.1" text-anchor="middle" fill="#222">−0.2</text>
<line x1="587.6" y1="667.3" x2="587.6" y2="668.8" stroke="#555" stroke-width="0.5"/>
<text x="587.6" y="677.2" font-size="7.1" text-anchor="middle" fill="#222">0.0</text>
<line x1="608.7" y1="667.3" x2="608.7" y2="668.8" stroke="#555" stroke-width="0.5"/>
<text x="608.7" y="677.2" font-size="7.1" text-anchor="middle" fill="#222">0.2</text>
<line x1="628.1" y1="667.3" x2="628.1" y2="668.8" stroke="#555" stroke-width="0.5"/>
<text x="628.1" y="677.2" font-size="7.1" text-anchor="middle" fill="#222">0.4</text>
<text x="600.8" y="685.3" font-size="7" text-anchor="middle" fill="#222">EMT score</text>
<text x="543.5" y="631.4" font-size="6.9" text-anchor="middle" fill="#222" transform="rotate(-90 543.5 631.4)">NFKB2 enrichment score</text>
<line x1="566.8" y1="637.2" x2="628.1" y2="641.4" stroke="#111" stroke-width="0.8"/>
<text x="566.8" y="604.6" font-size="6.9" text-anchor="start" fill="#222">R = −0.11, <tspan font-style="italic">p</tspan> = 1.7e-03</text>
</svg></body></html>
